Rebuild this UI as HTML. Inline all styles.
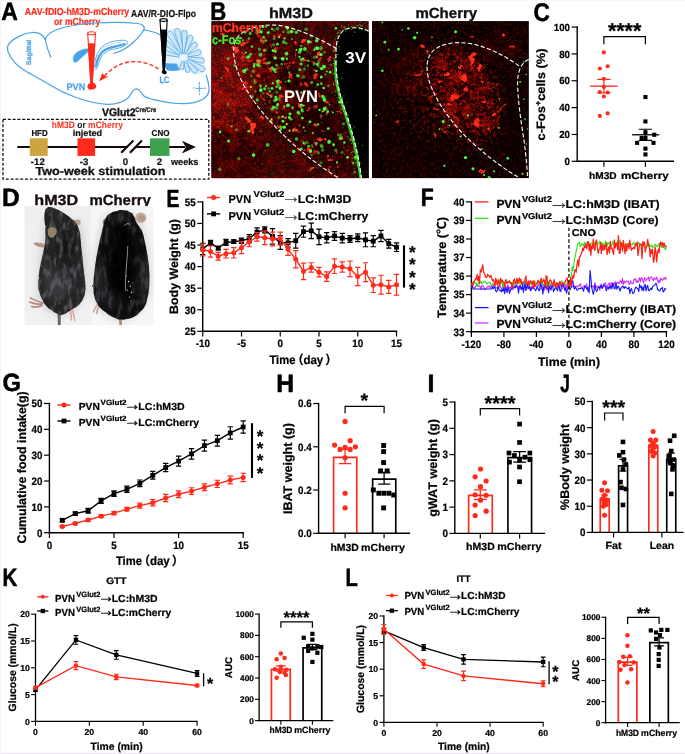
<!DOCTYPE html>
<html lang="en"><head><meta charset="utf-8"><title>Figure</title>
<style>
html,body{margin:0;padding:0;background:#fff;}
body{width:685px;height:754px;overflow:hidden;}
svg{display:block;font-family:'Liberation Sans', 'Noto Sans CJK SC', sans-serif;}
text{white-space:pre;text-rendering:geometricPrecision;}
</style></head><body>
<svg width="685" height="754" viewBox="0 0 685 754">
<rect width="685" height="754" fill="#fff"/><rect x="0" y="752.8" width="685" height="1.2" fill="#ebe6f2"/><rect x="0" y="0" width="0.8" height="754" fill="#f2eef6"/><rect x="0" y="0" width="685" height="0.6" fill="#f0f0f3"/>
<g id="panel-a">
<text x="1.2" y="20.4" font-size="25" font-weight="bold" fill="#000" text-anchor="start" textLength="16.6" lengthAdjust="spacingAndGlyphs" stroke="#000" stroke-width="0.55" stroke-linejoin="round">A</text>
<text x="24.8" y="15.2" font-size="10.2" font-weight="bold" fill="#ff2a1a" text-anchor="start" textLength="104.4" lengthAdjust="spacingAndGlyphs" stroke="#ff2a1a" stroke-width="0.2">AAV-fDIO-hM3D-mCherry</text>
<text x="54" y="24.8" font-size="10.2" font-weight="bold" fill="#ff2a1a" text-anchor="start" textLength="46.2" lengthAdjust="spacingAndGlyphs" stroke="#ff2a1a" stroke-width="0.2">or mCherry</text>
<text x="131" y="16.8" font-size="10.2" font-weight="bold" fill="#111" text-anchor="start" textLength="65" lengthAdjust="spacingAndGlyphs" stroke="#111" stroke-width="0.2">AAV/R-DIO-Flpo</text>
<g fill="none" stroke="#4aa3e6" stroke-width="1.25" stroke-linecap="round" stroke-linejoin="round">
<path d="M45.2,39.5 C43,35 38,32 32,32.5 C24,33 14,38 9.5,43 C6.5,46.5 7,50 9,54 C12,60 17,66 24,70 C32,75 42,80 50,85 C58,90 66,94 76,97.5 C86,101 97,104 108,104.3 C116,104.5 124,101.5 128,98 C131,95 132,91 134.5,89.5 C137,88 139,89 140.8,92 C142.5,95 144,97.5 151,99 C160,101 168,103 178,103.5 C188,104 198,102.5 204,98.5 C208,95.5 209.5,91 209,87 C208.5,82 207.5,79 206,75"/>
<path d="M45.2,39.5 C46,36 50,32.5 56,30 C66,26 80,24 95,23 C110,22 126,22 138,23.5 C142.5,24.2 145.5,26.5 143.8,30 C141,35 137,39 132,43.5 C127,48 121,51.5 114,53.5"/>
<path d="M45.2,39.5 C46,44 48,51 50.8,57"/>
<path d="M143.8,30 C148,30.5 155,32 159.5,34.5"/>
</g>
<path d="M73.5,57 C74.5,53.5 79,50.5 84,49.3 C87,48.6 89.5,48.6 90.5,49.5 C88,52 84,55 80.5,58.5 C78,61 75.5,63.5 74.2,62 C73.2,61 73,59 73.5,57 Z" fill="#4aa3e6" stroke="#4aa3e6" stroke-width="0.6"/>
<path d="M95.5,59 C97,53 100,47.5 105,44.5 C110,41.5 118,40 124,40.2 C127.5,40.4 128.5,42.5 126.5,44.5 C123,47.5 117,48.5 112,49.5 C106.5,50.6 102.5,54 100.5,58 C99,61.5 98,66 96.8,69 C95.5,70.5 94.6,69 94.8,66 C95,63 95,61 95.5,59 Z" fill="#fff" stroke="#4aa3e6" stroke-width="0.9"/>
<path d="M96.2,66 C97,59 100,52.5 105.5,49.5 C111,46.8 119,46.2 124.5,44" fill="none" stroke="#4aa3e6" stroke-width="2.2" stroke-linecap="round"/>
<path d="M100,50.5 C105,45.5 113,43 122,42.2 M102,53 C106,48.5 112,46.2 119,45.3" fill="none" stroke="#4aa3e6" stroke-width="0.5" opacity="0.8"/>
<defs><pattern id="dots" width="2" height="2" patternUnits="userSpaceOnUse"><rect width="2" height="2" fill="#e6f3fc"/><circle cx="1" cy="1" r="0.5" fill="#6db6ec"/></pattern></defs>
<path d="M165.7,31.7 C170,27 180,27 187.8,32.9 C196,39 202,50 205.1,65.2 C206.5,70 205,74 199.7,74.7 C192,73 186,73 179.4,68.7 L168,64 C162,58 161,46 165.7,31.7 Z" fill="#e3f2fc"/>
<path d="M182.76,53.98 L172.57,32.64 A2.9,2.9 0 0 0 167.56,35.57 L181.21,54.89 Z" fill="url(#dots)" stroke="#4aa3e6" stroke-width="0.75" stroke-linejoin="round"/>
<path d="M183.71,53.88 L179.99,30.65 A2.8,2.8 0 0 0 174.55,31.99 L181.97,54.31 Z" fill="url(#dots)" stroke="#4aa3e6" stroke-width="0.75" stroke-linejoin="round"/>
<path d="M184.62,54.04 L187.2,33 A2.7,2.7 0 0 0 181.8,32.8 L182.82,53.97 Z" fill="url(#dots)" stroke="#4aa3e6" stroke-width="0.75" stroke-linejoin="round"/>
<path d="M185.53,54.49 L193.03,38.85 A2.7,2.7 0 0 0 187.95,37.03 L183.83,53.88 Z" fill="url(#dots)" stroke="#4aa3e6" stroke-width="0.75" stroke-linejoin="round"/>
<path d="M186.41,55.43 L196.79,46.61 A2.7,2.7 0 0 0 192.79,42.99 L185.08,54.22 Z" fill="url(#dots)" stroke="#4aa3e6" stroke-width="0.75" stroke-linejoin="round"/>
<path d="M186.92,57.08 L199.26,55 A2.7,2.7 0 0 0 197.6,49.86 L186.37,55.36 Z" fill="url(#dots)" stroke="#4aa3e6" stroke-width="0.75" stroke-linejoin="round"/>
<path d="M186.59,58.66 L201.26,63.17 A2.7,2.7 0 0 0 202.23,57.86 L186.91,56.89 Z" fill="url(#dots)" stroke="#4aa3e6" stroke-width="0.75" stroke-linejoin="round"/>
<path d="M185.81,59.68 L200.87,71.42 A2.7,2.7 0 0 0 203.78,66.87 L186.78,58.16 Z" fill="url(#dots)" stroke="#4aa3e6" stroke-width="0.75" stroke-linejoin="round"/>
<path d="M184.93,60.24 L192.88,72.45 A2.5,2.5 0 0 0 196.75,69.28 L186.33,59.1 Z" fill="url(#dots)" stroke="#4aa3e6" stroke-width="0.75" stroke-linejoin="round"/>
<path d="M183.71,60.52 L185.51,70.9 A2.3,2.3 0 0 0 189.9,69.51 L185.42,59.98 Z" fill="url(#dots)" stroke="#4aa3e6" stroke-width="0.75" stroke-linejoin="round"/>
<path d="M181.69,54.48 L168.06,41.13 A2.6,2.6 0 0 0 164.77,45.16 L180.55,55.87 Z" fill="url(#dots)" stroke="#4aa3e6" stroke-width="0.75" stroke-linejoin="round"/>
<path d="M180.72,55.54 L165.91,50.26 A2.4,2.4 0 0 0 164.74,54.91 L180.28,57.29 Z" fill="url(#dots)" stroke="#4aa3e6" stroke-width="0.75" stroke-linejoin="round"/>
<path d="M182.17,60.2 L179.87,67.19 A2,2 0 0 0 183.81,67.87 L183.95,60.51 Z" fill="url(#dots)" stroke="#4aa3e6" stroke-width="0.75" stroke-linejoin="round"/>
<ellipse cx="183.6" cy="57.4" rx="4.2" ry="3.4" fill="#e9f5fd"/>
<path d="M164.5,63 C168,63.8 173,63 177,63.8 C177.8,66.5 178.6,68.5 180.5,70 C176,71 171,71.3 167,70.3 C165.5,68.5 164.6,65.5 164.5,63 Z" fill="#4aa3e6"/>
<path d="M87.7,33.2 L95.5,33.2 L92.1,84.5 L90.9,84.5 Z" fill="#fff" stroke="#ff2a1a" stroke-width="1.1" stroke-linejoin="round"/>
<path d="M88.4,43.8 L94.8,43.8 L92.1,84.5 L90.9,84.5 Z" fill="#ff2a1a" stroke="#ff2a1a" stroke-width="0.9"/>
<ellipse cx="91.6" cy="33.2" rx="3.9" ry="1.5" fill="#fff" stroke="#ff2a1a" stroke-width="1.1"/>
<ellipse cx="91.8" cy="86.3" rx="4.4" ry="3.3" fill="#ff2a1a" transform="rotate(-12 91.8 86.3)"/>
<path d="M160,20 L167.2,20 L164.4,71 L163.4,71 Z" fill="#fff" stroke="#000" stroke-width="1.1" stroke-linejoin="round"/>
<path d="M160.7,30 L166.6,30 L164.4,71 L163.4,71 Z" fill="#000" stroke="#000" stroke-width="0.9"/>
<ellipse cx="163.6" cy="20" rx="3.6" ry="1.4" fill="#fff" stroke="#000" stroke-width="1.1"/>
<ellipse cx="164.2" cy="72.1" rx="2.6" ry="2" fill="#000" transform="rotate(20 164.2 72.1)"/>
<path d="M158.5,69 C150,63 138,60 126,62.5 C116,65 109,71 104.5,76" fill="none" stroke="#ff2a1a" stroke-width="1.3" stroke-dasharray="4 2.2"/>
<path d="M99.3,81.2 L102.3,72.8 L104.6,76.2 L108.6,76.6 Z" fill="#ff2a1a"/>
<text x="66.5" y="89.6" font-size="9.4" font-weight="bold" fill="#4aa3e6" text-anchor="start" textLength="18.8" lengthAdjust="spacingAndGlyphs" stroke="#4aa3e6" stroke-width="0.25">PVN</text>
<text x="159.6" y="83.1" font-size="9.4" font-weight="bold" fill="#4aa3e6" text-anchor="start" textLength="9.8" lengthAdjust="spacingAndGlyphs" stroke="#4aa3e6" stroke-width="0.25">LC</text>
<text x="31" y="65.2" font-size="6.6" font-weight="bold" fill="#4aa3e6" text-anchor="start" transform="rotate(-90 31 65.2)" textLength="25.5" lengthAdjust="spacingAndGlyphs" stroke="#4aa3e6" stroke-width="0.22">Sagittal</text>
<path d="M199.4,84.6 V92.4 M195.4,88.4 H203.4" stroke="#4aa3e6" stroke-width="0.9" fill="none"/>
<text x="199.4" y="83.8" font-size="2.6" font-weight="bold" fill="#4aa3e6" text-anchor="middle" stroke="#4aa3e6" stroke-width="0.22">d</text>
<text x="199.4" y="95.2" font-size="2.6" font-weight="bold" fill="#4aa3e6" text-anchor="middle" stroke="#4aa3e6" stroke-width="0.22">v</text>
<text x="193.8" y="89.2" font-size="2.6" font-weight="bold" fill="#4aa3e6" text-anchor="middle" stroke="#4aa3e6" stroke-width="0.22">r</text>
<text x="205" y="89.2" font-size="2.6" font-weight="bold" fill="#4aa3e6" text-anchor="middle" stroke="#4aa3e6" stroke-width="0.22">c</text>
</g>
<g id="panel-a2">
<text x="102" y="115.8" font-size="11" font-weight="bold" fill="#111" text-anchor="start" textLength="33.6" lengthAdjust="spacingAndGlyphs" stroke="#111" stroke-width="0.35">VGlut2</text>
<text x="135.2" y="111.8" font-size="6.8" font-weight="bold" fill="#111" text-anchor="start" textLength="21" lengthAdjust="spacingAndGlyphs" stroke="#111" stroke-width="0.22">Cre/Cre</text>
<rect x="3" y="119.3" width="205.8" height="59.8" fill="none" stroke="#111" stroke-width="1.3" stroke-dasharray="3 1.8"/>
<text x="51.8" y="127.6" font-size="9.4" font-weight="bold" textLength="71.2" lengthAdjust="spacingAndGlyphs"><tspan fill="#ff2a1a">hM3D</tspan><tspan fill="#111"> or </tspan><tspan fill="#ff2a1a">mCherry</tspan></text>
<text x="31.4" y="136.1" font-size="8.6" font-weight="bold" fill="#111" text-anchor="start" textLength="16.3" lengthAdjust="spacingAndGlyphs" stroke="#111" stroke-width="0.22">HFD</text>
<text x="72.8" y="135.6" font-size="8.8" font-weight="bold" fill="#111" text-anchor="start" textLength="29.2" lengthAdjust="spacingAndGlyphs" stroke="#111" stroke-width="0.22">injeted</text>
<text x="151.6" y="136.1" font-size="8.6" font-weight="bold" fill="#111" text-anchor="start" textLength="17.9" lengthAdjust="spacingAndGlyphs" stroke="#111" stroke-width="0.22">CNO</text>
<line x1="17.3" y1="147.1" x2="127.6" y2="147.1" stroke="#140c0c" stroke-width="2"/>
<line x1="136" y1="147.1" x2="185" y2="147.1" stroke="#140c0c" stroke-width="2"/>
<path d="M195.9,147.1 L181.9,140.7 L185.8,147.1 L181.9,153.5 Z" fill="#140c0c"/>
<line x1="121.2" y1="152.8" x2="133.4" y2="140.4" stroke="#140c0c" stroke-width="2.2"/>
<line x1="130" y1="152.8" x2="141.9" y2="140.4" stroke="#140c0c" stroke-width="2.2"/>
<rect x="29.8" y="138.3" width="17.9" height="17.6" fill="#cda43e" stroke="none" stroke-width="1"/>
<rect x="77.5" y="138.3" width="17.6" height="17.6" fill="#ff2a1a" stroke="none" stroke-width="1"/>
<rect x="150" y="138.3" width="19.5" height="17.6" fill="#3ea24c" stroke="none" stroke-width="1"/>
<text x="37.8" y="164.6" font-size="9.6" font-weight="bold" fill="#111" text-anchor="middle" stroke="#111" stroke-width="0.22">-12</text>
<text x="84.1" y="164.6" font-size="9.6" font-weight="bold" fill="#111" text-anchor="middle" stroke="#111" stroke-width="0.22">-3</text>
<text x="125.5" y="164.6" font-size="9.6" font-weight="bold" fill="#111" text-anchor="middle" stroke="#111" stroke-width="0.22">0</text>
<text x="159.5" y="164.6" font-size="9.6" font-weight="bold" fill="#111" text-anchor="middle" stroke="#111" stroke-width="0.22">2</text>
<text x="171" y="164.6" font-size="9.4" font-weight="bold" fill="#111" text-anchor="start" textLength="27.4" lengthAdjust="spacingAndGlyphs" stroke="#111" stroke-width="0.22">weeks</text>
<text x="35.5" y="174.7" font-size="11.6" font-weight="bold" fill="#111" text-anchor="start" textLength="130" lengthAdjust="spacingAndGlyphs" stroke="#111" stroke-width="0.3">Two-week stimulation</text>
</g>
<g id="panel-b">
<text x="210.3" y="19.7" font-size="25.5" font-weight="bold" fill="#000" text-anchor="start" textLength="16" lengthAdjust="spacingAndGlyphs" stroke="#000" stroke-width="0.55" stroke-linejoin="round">B</text>
<text x="269" y="17.9" font-size="14.6" font-weight="bold" fill="#111" text-anchor="start" textLength="44" lengthAdjust="spacingAndGlyphs" stroke="#111" stroke-width="0.35">hM3D</text>
<text x="415.4" y="17.9" font-size="14.6" font-weight="bold" fill="#111" text-anchor="start" textLength="61.8" lengthAdjust="spacingAndGlyphs" stroke="#111" stroke-width="0.35">mCherry</text>
<defs>
<filter id="fib1" x="0" y="0" width="1" height="1" color-interpolation-filters="sRGB">
<feTurbulence type="turbulence" baseFrequency="0.13 0.11" numOctaves="3" seed="11" result="t"/>
<feColorMatrix in="t" type="matrix" values="0 0 0 0 0.95  0 0 0 0 0.12  0 0 0 0 0.06  -7.5 0 0 0 1.25"/>
<feGaussianBlur stdDeviation="0.5"/>
</filter>
<filter id="fib2" x="0" y="0" width="1" height="1" color-interpolation-filters="sRGB">
<feTurbulence type="turbulence" baseFrequency="0.14 0.12" numOctaves="3" seed="29" result="t"/>
<feColorMatrix in="t" type="matrix" values="0 0 0 0 0.95  0 0 0 0 0.1  0 0 0 0 0.05  -8 0 0 0 1.2"/>
<feGaussianBlur stdDeviation="0.5"/>
</filter>
<filter id="grain" x="0" y="0" width="1" height="1" color-interpolation-filters="sRGB">
<feTurbulence type="fractalNoise" baseFrequency="0.9" numOctaves="2" seed="5"/>
<feColorMatrix type="matrix" values="0 0 0 0 0  0 0 0 0 0  0 0 0 0 0  2.6 0 0 0 -0.95"/>
</filter>
<filter id="blot1" x="0" y="0" width="1" height="1" color-interpolation-filters="sRGB">
<feTurbulence type="fractalNoise" baseFrequency="0.075" numOctaves="4" seed="3"/>
<feColorMatrix type="matrix" values="0 0 0 0 0.85  0 0 0 0 0.07  0 0 0 0 0.04  5 0 0 0 -2.15"/>
</filter>
<filter id="blot2" x="0" y="0" width="1" height="1" color-interpolation-filters="sRGB">
<feTurbulence type="fractalNoise" baseFrequency="0.085" numOctaves="4" seed="17"/>
<feColorMatrix type="matrix" values="0 0 0 0 0.85  0 0 0 0 0.09  0 0 0 0 0.05  5.5 0 0 0 -2.65"/>
</filter>
<filter id="dust" x="0" y="0" width="1" height="1" color-interpolation-filters="sRGB">
<feTurbulence type="fractalNoise" baseFrequency="0.3" numOctaves="3" seed="23"/>
<feColorMatrix type="matrix" values="0 0 0 0 0.88  0 0 0 0 0.07  0 0 0 0 0.04  7 0 0 0 -3.7"/>
<feGaussianBlur stdDeviation="0.35"/>
</filter>
<mask id="m3" maskUnits="userSpaceOnUse" x="372" y="21" width="157" height="158"><rect x="372" y="21" width="157" height="158" fill="#4a4a4a"/><ellipse cx="425" cy="95" rx="30" ry="40" fill="#8a8a8a" filter="url(#b4)"/><ellipse cx="462" cy="95" rx="34" ry="52" fill="#fff" filter="url(#b4)" transform="rotate(-30 462 95)"/><ellipse cx="516" cy="130" rx="10" ry="50" fill="#222" filter="url(#b4)"/></mask>
<filter id="rough" x="-20%" y="-20%" width="140%" height="140%">
<feTurbulence type="fractalNoise" baseFrequency="0.22" numOctaves="2" seed="8" result="n"/>
<feDisplacementMap in="SourceGraphic" in2="n" scale="5" xChannelSelector="R" yChannelSelector="G"/>
<feGaussianBlur stdDeviation="0.55"/>
</filter>
<mask id="m1" maskUnits="userSpaceOnUse" x="211" y="21" width="158" height="158"><rect x="211" y="21" width="158" height="158" fill="#6a6a6a"/><ellipse cx="226" cy="92" rx="24" ry="42" fill="#fff" filter="url(#b4)"/><rect x="209" y="19" width="58" height="27" fill="#000" filter="url(#b4)" opacity="0.9"/><ellipse cx="262" cy="80" rx="22" ry="44" fill="#aaa" filter="url(#b4)" transform="rotate(-32 262 80)"/><ellipse cx="322" cy="125" rx="14" ry="40" fill="#222" filter="url(#b4)" transform="rotate(-18 322 125)"/><ellipse cx="320" cy="35" rx="18" ry="9" fill="#444" filter="url(#b4)"/></mask>
<filter id="b06" x="-50%" y="-50%" width="200%" height="200%"><feGaussianBlur stdDeviation="0.55"/></filter>
<filter id="b12" x="-50%" y="-50%" width="200%" height="200%"><feGaussianBlur stdDeviation="1.3"/></filter>
<filter id="b4" x="-50%" y="-50%" width="200%" height="200%"><feGaussianBlur stdDeviation="6"/></filter>
<mask id="m2" maskUnits="userSpaceOnUse" x="372" y="21" width="157" height="158"><rect x="372" y="21" width="157" height="158" fill="#161616"/><ellipse cx="462" cy="95" rx="30" ry="48" fill="#fff" filter="url(#b4)" transform="rotate(-30 462 95)"/><ellipse cx="410" cy="75" rx="22" ry="22" fill="#5a5a5a" filter="url(#b4)"/><ellipse cx="500" cy="48" rx="24" ry="12" fill="#5a5a5a" filter="url(#b4)"/></mask>
<clipPath id="c1"><rect x="211.2" y="21.1" width="157.6" height="157.1"/></clipPath>
<clipPath id="c2"><rect x="372" y="21.1" width="156.9" height="157.1"/></clipPath>
</defs>
<g clip-path="url(#c1)">
<rect x="211.2" y="21.1" width="157.6" height="157.1" fill="#360705" stroke="none" stroke-width="1"/>
<ellipse cx="230" cy="80" rx="26" ry="44" fill="#661009" filter="url(#b4)"/>
<ellipse cx="234" cy="150" rx="28" ry="28" fill="#2e0604" filter="url(#b4)"/>
<path d="M272,44 L322,56 L332,120 L340,172 L300,150 L270,112 L256,74 Z" fill="#1c0403" filter="url(#b4)"/>
<ellipse cx="337" cy="130" rx="10" ry="45" fill="#1c0303" filter="url(#b4)" transform="rotate(-14 337 130)"/>
<rect x="211.2" y="21.1" width="157.6" height="157.1" fill="#000" stroke="none" stroke-width="1" filter="url(#blot1)" mask="url(#m1)" opacity="0.6"/>
<rect x="211.2" y="21.1" width="157.6" height="157.1" fill="#000" stroke="none" stroke-width="1" filter="url(#fib1)" opacity="0.5" mask="url(#m1)"/>
<rect x="211.2" y="21.1" width="157.6" height="157.1" fill="#000" stroke="none" stroke-width="1" filter="url(#dust)" mask="url(#m1)" opacity="0.75"/>
<rect x="211.2" y="21.1" width="157.6" height="157.1" fill="#000" stroke="none" stroke-width="1" filter="url(#grain)" opacity="0.5"/>
<g fill="#ff3520" filter="url(#rough)">
<ellipse cx="236" cy="50" rx="4" ry="2.2" transform="rotate(40 236 50)"/>
<ellipse cx="243" cy="44" rx="3" ry="1.6" transform="rotate(-30 243 44)"/>
<ellipse cx="248" cy="120" rx="4.5" ry="2" transform="rotate(50 248 120)"/>
<ellipse cx="253" cy="128" rx="2.5" ry="5" transform="rotate(10 253 128)"/>
<ellipse cx="262" cy="118" rx="2.2" ry="1.6" transform="rotate(0 262 118)"/>
<ellipse cx="258" cy="62" rx="3" ry="1.6" transform="rotate(20 258 62)"/>
<ellipse cx="270" cy="70" rx="2.6" ry="1.8" transform="rotate(60 270 70)"/>
<ellipse cx="279" cy="82" rx="3" ry="1.7" transform="rotate(-20 279 82)"/>
<ellipse cx="268" cy="94" rx="2.5" ry="1.6" transform="rotate(30 268 94)"/>
<ellipse cx="291" cy="75" rx="2.4" ry="1.6" transform="rotate(0 291 75)"/>
<ellipse cx="300" cy="106" rx="2.6" ry="1.8" transform="rotate(45 300 106)"/>
<ellipse cx="285" cy="118" rx="2.3" ry="1.5" transform="rotate(-40 285 118)"/>
<ellipse cx="296" cy="130" rx="2.6" ry="1.6" transform="rotate(10 296 130)"/>
<ellipse cx="310" cy="150" rx="3" ry="1.5" transform="rotate(60 310 150)"/>
<ellipse cx="320" cy="140" rx="2.2" ry="1.4" transform="rotate(0 320 140)"/>
<ellipse cx="305" cy="60" rx="2.2" ry="1.4" transform="rotate(20 305 60)"/>
<ellipse cx="318" cy="55" rx="2.5" ry="1.3" transform="rotate(-20 318 55)"/>
<ellipse cx="245" cy="88" rx="2.2" ry="1.4" transform="rotate(0 245 88)"/>
<ellipse cx="227" cy="70" rx="2.5" ry="1.3" transform="rotate(70 227 70)"/>
<ellipse cx="330" cy="160" rx="2.4" ry="1.3" transform="rotate(40 330 160)"/>
<ellipse cx="312" cy="168" rx="2.6" ry="1.4" transform="rotate(-30 312 168)"/>
<ellipse cx="222" cy="34" rx="3" ry="1.5" transform="rotate(10 222 34)"/>
<ellipse cx="232" cy="30" rx="2.4" ry="1.4" transform="rotate(-10 232 30)"/>
<ellipse cx="275" cy="52" rx="2.4" ry="1.5" transform="rotate(35 275 52)"/>
<ellipse cx="262" cy="40" rx="2" ry="1.3" transform="rotate(0 262 40)"/>
<ellipse cx="264.53" cy="59.48" rx="2.18" ry="1.34" opacity="1" transform="rotate(160.59 264.53 59.48)"/>
<ellipse cx="244.4" cy="60.9" rx="1.96" ry="1.25" opacity="0.55" transform="rotate(128.88 244.4 60.9)"/>
<ellipse cx="323.45" cy="130.72" rx="1.54" ry="0.92" opacity="0.7" transform="rotate(172.3 323.45 130.72)"/>
<ellipse cx="245.35" cy="82.99" rx="1.57" ry="1.08" opacity="1" transform="rotate(47.61 245.35 82.99)"/>
<ellipse cx="315" cy="106.43" rx="2.56" ry="1.1" opacity="0.7" transform="rotate(99.37 315 106.43)"/>
<ellipse cx="298.09" cy="131.69" rx="1.07" ry="0.98" opacity="1" transform="rotate(52.09 298.09 131.69)"/>
<ellipse cx="328.94" cy="155.97" rx="1.61" ry="1.16" opacity="0.85" transform="rotate(150.14 328.94 155.97)"/>
<ellipse cx="275.09" cy="57.43" rx="1.43" ry="1.55" opacity="0.85" transform="rotate(116.65 275.09 57.43)"/>
<ellipse cx="293.29" cy="62.72" rx="1.74" ry="1.02" opacity="0.85" transform="rotate(166.57 293.29 62.72)"/>
<ellipse cx="309.99" cy="152.43" rx="2.24" ry="0.98" opacity="0.7" transform="rotate(5.78 309.99 152.43)"/>
<ellipse cx="278.53" cy="35.93" rx="2.46" ry="1.25" opacity="0.85" transform="rotate(129.22 278.53 35.93)"/>
<ellipse cx="306.75" cy="85.34" rx="2.46" ry="1.17" opacity="0.85" transform="rotate(47.68 306.75 85.34)"/>
<ellipse cx="316.69" cy="106.85" rx="2.2" ry="1.14" opacity="0.7" transform="rotate(105.04 316.69 106.85)"/>
<ellipse cx="290.56" cy="39.64" rx="1.08" ry="0.89" opacity="0.55" transform="rotate(112.94 290.56 39.64)"/>
<ellipse cx="300.2" cy="83.72" rx="1.95" ry="1.17" opacity="1" transform="rotate(45.25 300.2 83.72)"/>
<ellipse cx="309.51" cy="43.18" rx="2.42" ry="1.4" opacity="0.7" transform="rotate(138.35 309.51 43.18)"/>
<ellipse cx="331.22" cy="65.51" rx="1.8" ry="0.94" opacity="0.7" transform="rotate(164.27 331.22 65.51)"/>
<ellipse cx="327.43" cy="102.15" rx="1.32" ry="1.1" opacity="1" transform="rotate(29.08 327.43 102.15)"/>
<ellipse cx="300.48" cy="99.29" rx="1.18" ry="1.09" opacity="0.7" transform="rotate(177.36 300.48 99.29)"/>
<ellipse cx="260.58" cy="62.13" rx="1.91" ry="0.86" opacity="1" transform="rotate(131.74 260.58 62.13)"/>
<ellipse cx="342.56" cy="105.91" rx="1.2" ry="1.33" opacity="0.85" transform="rotate(170.43 342.56 105.91)"/>
<ellipse cx="280.97" cy="57.77" rx="1.86" ry="1.38" opacity="0.7" transform="rotate(36.21 280.97 57.77)"/>
<ellipse cx="278.29" cy="126.75" rx="1.6" ry="1.52" opacity="0.85" transform="rotate(81.27 278.29 126.75)"/>
<ellipse cx="258.94" cy="76.71" rx="1.94" ry="0.98" opacity="1" transform="rotate(39.64 258.94 76.71)"/>
<ellipse cx="270.68" cy="103.12" rx="1.45" ry="1.19" opacity="0.55" transform="rotate(97.06 270.68 103.12)"/>
<ellipse cx="260.97" cy="96.95" rx="1.65" ry="0.88" opacity="0.7" transform="rotate(118.62 260.97 96.95)"/>
<ellipse cx="281.02" cy="96.05" rx="2.17" ry="1.34" opacity="1" transform="rotate(177.15 281.02 96.05)"/>
<ellipse cx="322.87" cy="42.39" rx="1.31" ry="1.23" opacity="0.85" transform="rotate(25.23 322.87 42.39)"/>
<ellipse cx="264.92" cy="63.47" rx="2.48" ry="1.15" opacity="1" transform="rotate(155.04 264.92 63.47)"/>
<ellipse cx="336.83" cy="153.3" rx="1.27" ry="1.19" opacity="0.55" transform="rotate(38.47 336.83 153.3)"/>
<ellipse cx="334.17" cy="50.7" rx="1" ry="1.11" opacity="0.55" transform="rotate(166.77 334.17 50.7)"/>
<ellipse cx="315.09" cy="143.5" rx="2.06" ry="1.19" opacity="0.85" transform="rotate(34.18 315.09 143.5)"/>
<ellipse cx="341.53" cy="112.88" rx="1.87" ry="1.4" opacity="0.55" transform="rotate(10.29 341.53 112.88)"/>
<ellipse cx="242.89" cy="53.87" rx="1.95" ry="1.34" opacity="1" transform="rotate(42.34 242.89 53.87)"/>
<ellipse cx="338.52" cy="111.45" rx="1.93" ry="0.83" opacity="0.7" transform="rotate(14.76 338.52 111.45)"/>
<ellipse cx="313.5" cy="61.8" rx="1.63" ry="1.34" opacity="0.7" transform="rotate(54 313.5 61.8)"/>
<ellipse cx="337.12" cy="166.36" rx="1.01" ry="1.3" opacity="1" transform="rotate(101.34 337.12 166.36)"/>
<ellipse cx="242.13" cy="57.97" rx="1.42" ry="1.55" opacity="0.85" transform="rotate(158.56 242.13 57.97)"/>
<ellipse cx="275.02" cy="49.66" rx="2.33" ry="1.36" opacity="1" transform="rotate(110.1 275.02 49.66)"/>
<ellipse cx="308.13" cy="109.19" rx="2.49" ry="0.88" opacity="0.7" transform="rotate(158.06 308.13 109.19)"/>
<ellipse cx="246.81" cy="42.06" rx="1.89" ry="1.02" opacity="0.7" transform="rotate(108.87 246.81 42.06)"/>
<ellipse cx="263.3" cy="99.28" rx="2.45" ry="1.48" opacity="0.55" transform="rotate(16.61 263.3 99.28)"/>
<ellipse cx="271.02" cy="45.62" rx="2.57" ry="0.93" opacity="0.55" transform="rotate(79.53 271.02 45.62)"/>
<ellipse cx="296.26" cy="42.78" rx="2.51" ry="1.35" opacity="1" transform="rotate(26.83 296.26 42.78)"/>
<ellipse cx="326.64" cy="113.38" rx="1.24" ry="0.9" opacity="1" transform="rotate(55.49 326.64 113.38)"/>
<ellipse cx="333.78" cy="57.51" rx="1.4" ry="0.88" opacity="0.55" transform="rotate(140.42 333.78 57.51)"/>
<ellipse cx="342.1" cy="138.42" rx="2.48" ry="0.99" opacity="0.85" transform="rotate(29.25 342.1 138.42)"/>
<ellipse cx="315.76" cy="75.83" rx="2.49" ry="1.44" opacity="0.85" transform="rotate(155.53 315.76 75.83)"/>
<ellipse cx="329.3" cy="59.37" rx="2.31" ry="1.17" opacity="0.85" transform="rotate(54.93 329.3 59.37)"/>
<ellipse cx="278.23" cy="67.79" rx="1.11" ry="1.42" opacity="0.55" transform="rotate(63.21 278.23 67.79)"/>
<ellipse cx="309.43" cy="152.55" rx="1.53" ry="0.82" opacity="0.7" transform="rotate(157.87 309.43 152.55)"/>
<ellipse cx="263.47" cy="42.26" rx="1.7" ry="1.38" opacity="1" transform="rotate(56.46 263.47 42.26)"/>
<ellipse cx="276.76" cy="112.49" rx="1.41" ry="1.37" opacity="0.85" transform="rotate(0.3 276.76 112.49)"/>
<ellipse cx="274.43" cy="36.5" rx="2.06" ry="1.06" opacity="1" transform="rotate(56.5 274.43 36.5)"/>
<ellipse cx="313.89" cy="71.05" rx="1.49" ry="1.13" opacity="0.7" transform="rotate(72.43 313.89 71.05)"/>
<ellipse cx="295.54" cy="54.78" rx="2.06" ry="1.1" opacity="0.85" transform="rotate(134.66 295.54 54.78)"/>
<ellipse cx="302.32" cy="71.14" rx="1.88" ry="0.8" opacity="0.55" transform="rotate(51.64 302.32 71.14)"/>
<ellipse cx="321.22" cy="117" rx="1.52" ry="1.15" opacity="0.55" transform="rotate(121.61 321.22 117)"/>
<ellipse cx="315.69" cy="124.83" rx="1.45" ry="1.33" opacity="1" transform="rotate(111.47 315.69 124.83)"/>
<ellipse cx="324.85" cy="138.67" rx="2.08" ry="0.98" opacity="1" transform="rotate(35.84 324.85 138.67)"/>
<ellipse cx="301.85" cy="141.27" rx="1.73" ry="1.51" opacity="0.55" transform="rotate(103.62 301.85 141.27)"/>
<ellipse cx="288.88" cy="62.6" rx="2.05" ry="0.8" opacity="1" transform="rotate(135.17 288.88 62.6)"/>
<ellipse cx="320.4" cy="58.83" rx="2.29" ry="1.36" opacity="0.85" transform="rotate(83.62 320.4 58.83)"/>
<ellipse cx="292.96" cy="109.84" rx="1.51" ry="1.4" opacity="0.55" transform="rotate(79.66 292.96 109.84)"/>
<ellipse cx="326.19" cy="108.18" rx="2.44" ry="1.39" opacity="0.7" transform="rotate(85.44 326.19 108.18)"/>
<ellipse cx="317.45" cy="151.98" rx="1.44" ry="1.42" opacity="0.85" transform="rotate(87.23 317.45 151.98)"/>
<ellipse cx="264.48" cy="37.62" rx="1.46" ry="1.02" opacity="1" transform="rotate(57.55 264.48 37.62)"/>
<ellipse cx="249.36" cy="60.69" rx="2.11" ry="1.37" opacity="0.55" transform="rotate(11.56 249.36 60.69)"/>
<ellipse cx="270.73" cy="95.89" rx="1.1" ry="1.47" opacity="1" transform="rotate(70.11 270.73 95.89)"/>
<ellipse cx="329.1" cy="140.84" rx="1.61" ry="0.8" opacity="0.55" transform="rotate(63.32 329.1 140.84)"/>
<ellipse cx="328.73" cy="169.01" rx="1.67" ry="1.4" opacity="0.85" transform="rotate(98.3 328.73 169.01)"/>
<ellipse cx="288.19" cy="66.94" rx="1.78" ry="1.11" opacity="0.55" transform="rotate(120.4 288.19 66.94)"/>
<ellipse cx="314.38" cy="152.08" rx="2.47" ry="1.58" opacity="0.55" transform="rotate(96.14 314.38 152.08)"/>
<ellipse cx="299.7" cy="125.45" rx="1.13" ry="1.14" opacity="0.85" transform="rotate(156.03 299.7 125.45)"/>
<ellipse cx="257.49" cy="75.03" rx="2.22" ry="1.1" opacity="0.55" transform="rotate(135.36 257.49 75.03)"/>
<ellipse cx="262" cy="38.29" rx="1.03" ry="1.23" opacity="0.7" transform="rotate(179.98 262 38.29)"/>
<ellipse cx="258.89" cy="36.29" rx="2.53" ry="0.83" opacity="0.85" transform="rotate(5.59 258.89 36.29)"/>
<ellipse cx="256.13" cy="29.06" rx="1.24" ry="0.9" opacity="0.85" transform="rotate(120.5 256.13 29.06)"/>
<ellipse cx="285.62" cy="64.44" rx="1.59" ry="1.28" opacity="1" transform="rotate(173.47 285.62 64.44)"/>
<ellipse cx="320.33" cy="50.56" rx="1.5" ry="1.26" opacity="0.55" transform="rotate(167.2 320.33 50.56)"/>
<ellipse cx="303.62" cy="41.29" rx="2.24" ry="1.48" opacity="1" transform="rotate(108.07 303.62 41.29)"/>
<ellipse cx="322.38" cy="110.89" rx="1.07" ry="1.23" opacity="1" transform="rotate(119.07 322.38 110.89)"/>
<ellipse cx="290.16" cy="77.18" rx="2.36" ry="1.46" opacity="0.7" transform="rotate(19 290.16 77.18)"/>
<ellipse cx="304.55" cy="150.31" rx="2.13" ry="1.15" opacity="0.7" transform="rotate(132.08 304.55 150.31)"/>
<ellipse cx="319.99" cy="95.73" rx="2.32" ry="1.27" opacity="0.85" transform="rotate(58.01 319.99 95.73)"/>
</g>
<path d="M336.5,48.4 L337.5,40 L341.5,32.3 L347,28.6 L353.9,27.3 L362,28.3 L368.8,31 L368.8,178.2 L361.4,178.2 L359,163 L356.4,148.9 L353.5,136 L350.2,124.1 L346,111 L341.5,99.3 L337.5,87 L336,74.5 L335.6,60 Z" fill="#000"/>
<path d="M336.5,60 C335.6,70 336.8,84 341.5,99.3 C345.5,112 351,128 356.4,148.9 C358.5,158 360,168 361.4,178.2" fill="none" stroke="#35d825" stroke-width="2.4" filter="url(#b06)" opacity="0.95" transform="translate(-0.9 0)"/>
<g fill="#3fe22e">
<circle cx="336.09" cy="45.86" r="0.56" opacity="0.6"/>
<circle cx="340.1" cy="105.41" r="0.41" opacity="0.8"/>
<circle cx="357.86" cy="164.92" r="0.51" opacity="0.8"/>
<circle cx="348.19" cy="120.73" r="0.55" opacity="0.8"/>
<circle cx="335.5" cy="81.09" r="0.47" opacity="1"/>
<circle cx="335.29" cy="84.97" r="0.53" opacity="0.8"/>
<circle cx="342.73" cy="127.2" r="0.49" opacity="0.8"/>
<circle cx="340.02" cy="33.28" r="0.55" opacity="0.8"/>
<circle cx="352.27" cy="125.05" r="0.37" opacity="0.6"/>
<circle cx="352.77" cy="151.54" r="0.51" opacity="1"/>
<circle cx="340.7" cy="33.16" r="0.3" opacity="0.6"/>
<circle cx="337.85" cy="54.35" r="0.54" opacity="1"/>
<circle cx="352.25" cy="158.53" r="0.5" opacity="0.8"/>
<circle cx="340.61" cy="99.95" r="0.63" opacity="0.8"/>
<circle cx="333.97" cy="60.11" r="0.52" opacity="1"/>
<circle cx="356.08" cy="162.42" r="0.65" opacity="1"/>
<circle cx="339.53" cy="104.92" r="0.38" opacity="0.6"/>
<circle cx="343.32" cy="114.47" r="0.45" opacity="0.6"/>
<circle cx="353.02" cy="136.69" r="0.57" opacity="0.6"/>
<circle cx="356.75" cy="149.7" r="0.49" opacity="1"/>
<circle cx="343.26" cy="109.36" r="0.31" opacity="0.8"/>
<circle cx="361.17" cy="25.92" r="0.38" opacity="0.8"/>
<circle cx="354.38" cy="23.91" r="0.37" opacity="1"/>
<circle cx="354.7" cy="144.17" r="0.35" opacity="1"/>
<circle cx="335.21" cy="91.84" r="0.62" opacity="0.8"/>
<circle cx="354.39" cy="151.01" r="0.4" opacity="0.6"/>
<circle cx="330.63" cy="56.94" r="0.56" opacity="0.6"/>
<circle cx="335.21" cy="62.88" r="0.6" opacity="0.6"/>
<circle cx="362.93" cy="25.82" r="0.31" opacity="1"/>
<circle cx="351.77" cy="143.41" r="0.65" opacity="0.8"/>
<circle cx="348.37" cy="115.75" r="0.44" opacity="0.8"/>
<circle cx="360.8" cy="175.04" r="0.47" opacity="0.6"/>
<circle cx="366.41" cy="27.76" r="0.33" opacity="0.8"/>
<circle cx="354.74" cy="159.77" r="0.65" opacity="0.6"/>
<circle cx="348.61" cy="26.85" r="0.43" opacity="0.8"/>
<circle cx="358.91" cy="158.83" r="0.35" opacity="0.8"/>
<circle cx="354.62" cy="148.95" r="0.52" opacity="1"/>
<circle cx="338.12" cy="30.91" r="0.33" opacity="1"/>
<circle cx="333.96" cy="63.42" r="0.63" opacity="0.8"/>
<circle cx="335.36" cy="90.34" r="0.47" opacity="0.8"/>
<circle cx="342.73" cy="105.98" r="0.56" opacity="1"/>
<circle cx="341.08" cy="27.51" r="0.42" opacity="0.6"/>
<circle cx="334.69" cy="50.31" r="0.51" opacity="0.6"/>
<circle cx="332.41" cy="70.12" r="0.42" opacity="0.6"/>
<circle cx="344.91" cy="94.78" r="0.38" opacity="0.8"/>
<circle cx="355.34" cy="159.3" r="0.47" opacity="0.8"/>
<circle cx="356.12" cy="145.82" r="0.35" opacity="1"/>
<circle cx="349.81" cy="132.25" r="0.6" opacity="1"/>
<circle cx="345.59" cy="111.78" r="0.6" opacity="1"/>
<circle cx="360.1" cy="162.75" r="0.54" opacity="0.6"/>
<circle cx="343.15" cy="95.81" r="0.43" opacity="0.8"/>
<circle cx="360.49" cy="173.74" r="0.31" opacity="1"/>
<circle cx="362.49" cy="145.28" r="0.56" opacity="0.8"/>
<circle cx="360.96" cy="24.04" r="0.46" opacity="0.6"/>
<circle cx="339.2" cy="49.62" r="0.4" opacity="0.8"/>
<circle cx="333.72" cy="83.49" r="0.58" opacity="1"/>
<circle cx="354.26" cy="134.72" r="0.38" opacity="0.6"/>
<circle cx="342.54" cy="109.8" r="0.53" opacity="0.8"/>
<circle cx="356.68" cy="25.78" r="0.63" opacity="0.6"/>
<circle cx="341.9" cy="105.07" r="0.41" opacity="0.8"/>
<circle cx="336.69" cy="46.35" r="0.5" opacity="0.6"/>
<circle cx="357.7" cy="166.62" r="0.5" opacity="0.6"/>
<circle cx="339.1" cy="46.56" r="0.59" opacity="0.8"/>
<circle cx="337.14" cy="33.81" r="0.52" opacity="0.6"/>
<circle cx="356.48" cy="155.1" r="0.59" opacity="0.6"/>
<circle cx="352.33" cy="141.27" r="0.45" opacity="0.6"/>
<circle cx="336.71" cy="70.27" r="0.56" opacity="1"/>
<circle cx="351.76" cy="161.7" r="0.49" opacity="0.8"/>
<circle cx="344.65" cy="29.07" r="0.64" opacity="0.8"/>
<circle cx="343.77" cy="26.83" r="0.33" opacity="1"/>
<circle cx="359.77" cy="24.6" r="0.6" opacity="0.6"/>
<circle cx="356.48" cy="164.2" r="0.34" opacity="0.8"/>
<circle cx="355.02" cy="151.05" r="0.52" opacity="0.8"/>
<circle cx="333.48" cy="84.59" r="0.63" opacity="0.8"/>
<circle cx="336.9" cy="32.59" r="0.46" opacity="0.6"/>
<circle cx="343.41" cy="107.78" r="0.31" opacity="0.8"/>
<circle cx="337.75" cy="83.27" r="0.46" opacity="0.6"/>
<circle cx="362.65" cy="25.81" r="0.56" opacity="1"/>
<circle cx="359.31" cy="27.52" r="0.44" opacity="0.8"/>
<circle cx="340.83" cy="101.64" r="0.38" opacity="0.8"/>
<circle cx="351.72" cy="152.41" r="0.53" opacity="1"/>
<circle cx="341.73" cy="78.02" r="0.59" opacity="1"/>
<circle cx="349.49" cy="138.27" r="0.32" opacity="0.8"/>
<circle cx="335.39" cy="67.83" r="0.59" opacity="0.6"/>
<circle cx="336.67" cy="77.6" r="0.57" opacity="0.6"/>
<circle cx="366.56" cy="172.47" r="0.49" opacity="1"/>
<circle cx="359.9" cy="173.18" r="0.58" opacity="1"/>
<circle cx="335.46" cy="49.14" r="0.56" opacity="0.6"/>
<circle cx="330.62" cy="60.18" r="0.48" opacity="1"/>
<circle cx="337.44" cy="83.83" r="0.57" opacity="0.6"/>
<circle cx="343.89" cy="111.23" r="0.65" opacity="0.8"/>
<circle cx="329.54" cy="64.73" r="0.33" opacity="1"/>
<circle cx="336.78" cy="69.99" r="0.52" opacity="0.6"/>
<circle cx="348.55" cy="27.16" r="0.46" opacity="0.6"/>
<circle cx="356.56" cy="159.03" r="0.53" opacity="0.6"/>
<circle cx="334.81" cy="37.04" r="0.44" opacity="0.8"/>
<circle cx="358.3" cy="154.83" r="0.53" opacity="0.8"/>
<circle cx="358.09" cy="25.65" r="0.59" opacity="1"/>
<circle cx="355.89" cy="149.51" r="0.49" opacity="0.6"/>
<circle cx="353.41" cy="26.79" r="0.42" opacity="0.6"/>
<circle cx="348.25" cy="24.66" r="0.64" opacity="0.6"/>
<circle cx="333.33" cy="63.72" r="0.53" opacity="1"/>
<circle cx="344.1" cy="27.42" r="0.57" opacity="0.6"/>
<circle cx="346.53" cy="102.4" r="0.59" opacity="0.6"/>
<circle cx="354.22" cy="126.9" r="0.59" opacity="0.8"/>
<circle cx="337.13" cy="87.26" r="0.42" opacity="1"/>
<circle cx="332.79" cy="68.38" r="0.35" opacity="0.6"/>
<circle cx="336.45" cy="41.96" r="0.45" opacity="0.8"/>
<circle cx="338.17" cy="90.4" r="0.5" opacity="1"/>
<circle cx="338.77" cy="41.55" r="0.54" opacity="0.8"/>
<circle cx="340.29" cy="107.54" r="0.4" opacity="0.6"/>
<circle cx="345.64" cy="109.45" r="0.51" opacity="0.6"/>
<circle cx="336.12" cy="61.04" r="0.32" opacity="1"/>
<circle cx="336.44" cy="75.36" r="0.4" opacity="1"/>
<circle cx="355.06" cy="154.01" r="0.49" opacity="1"/>
<circle cx="357.64" cy="166.3" r="0.44" opacity="0.6"/>
<circle cx="334.16" cy="48.72" r="0.41" opacity="0.8"/>
<circle cx="353.94" cy="147.5" r="0.44" opacity="0.8"/>
<circle cx="348.4" cy="137.77" r="0.43" opacity="0.8"/>
<circle cx="336.74" cy="35.96" r="0.33" opacity="0.8"/>
<circle cx="337.99" cy="36.24" r="0.48" opacity="1"/>
<circle cx="337.84" cy="77.94" r="0.55" opacity="0.6"/>
<circle cx="339.83" cy="36.1" r="0.36" opacity="1"/>
<circle cx="361.8" cy="28.5" r="0.52" opacity="0.8"/>
<circle cx="361.02" cy="25.77" r="0.61" opacity="0.6"/>
<circle cx="349.13" cy="142.18" r="0.41" opacity="0.8"/>
<circle cx="341.36" cy="108.78" r="0.51" opacity="0.8"/>
<circle cx="338.26" cy="94.29" r="0.43" opacity="0.8"/>
<circle cx="360.52" cy="172.98" r="0.51" opacity="0.8"/>
<circle cx="352.55" cy="125.05" r="0.31" opacity="0.6"/>
<circle cx="338.06" cy="97.71" r="0.64" opacity="0.8"/>
<circle cx="363.76" cy="172.87" r="0.33" opacity="0.6"/>
<circle cx="334.83" cy="77.53" r="0.48" opacity="0.6"/>
<circle cx="342.37" cy="98.23" r="0.57" opacity="0.6"/>
<circle cx="356.49" cy="161.68" r="0.42" opacity="0.6"/>
<circle cx="338.85" cy="98.44" r="0.64" opacity="0.6"/>
<circle cx="345.6" cy="30.75" r="0.62" opacity="0.8"/>
<circle cx="360.13" cy="25.59" r="0.55" opacity="1"/>
<circle cx="340.21" cy="101.67" r="0.34" opacity="0.6"/>
<circle cx="365.1" cy="26.48" r="0.33" opacity="0.6"/>
<circle cx="342.35" cy="99.52" r="0.63" opacity="0.8"/>
<circle cx="353.01" cy="35.61" r="0.35" opacity="0.8"/>
<circle cx="333.99" cy="43.36" r="0.56" opacity="0.6"/>
<circle cx="342.67" cy="97.16" r="0.51" opacity="1"/>
<circle cx="357.57" cy="165.21" r="0.62" opacity="0.6"/>
<circle cx="340.35" cy="109.97" r="0.64" opacity="0.6"/>
<circle cx="356.57" cy="151.95" r="0.38" opacity="0.8"/>
<circle cx="335.33" cy="39.02" r="0.64" opacity="0.8"/>
<circle cx="361.87" cy="29.18" r="0.64" opacity="1"/>
<circle cx="337.71" cy="38.49" r="0.47" opacity="0.8"/>
<circle cx="334.1" cy="61.86" r="0.34" opacity="1"/>
<circle cx="338.25" cy="32.61" r="0.59" opacity="1"/>
<circle cx="340.29" cy="30.91" r="0.63" opacity="0.8"/>
<circle cx="345.56" cy="122.57" r="0.33" opacity="1"/>
<circle cx="336.64" cy="61.73" r="0.58" opacity="1"/>
<circle cx="354.29" cy="168.81" r="0.57" opacity="0.8"/>
<circle cx="335.49" cy="48.26" r="0.38" opacity="1"/>
<circle cx="354.25" cy="152.06" r="0.57" opacity="1"/>
<circle cx="335.09" cy="57.93" r="0.52" opacity="1"/>
<circle cx="357.23" cy="178.2" r="0.52" opacity="0.6"/>
<circle cx="334.98" cy="69.4" r="0.42" opacity="0.6"/>
<circle cx="353.76" cy="146.57" r="0.43" opacity="0.6"/>
<circle cx="361" cy="162.93" r="0.44" opacity="0.8"/>
<circle cx="343.37" cy="103.01" r="0.31" opacity="1"/>
<circle cx="355.58" cy="152.66" r="0.5" opacity="0.8"/>
<circle cx="336.08" cy="98.15" r="0.36" opacity="0.6"/>
<circle cx="353.69" cy="149.09" r="0.35" opacity="0.6"/>
<circle cx="351.02" cy="26.46" r="0.58" opacity="1"/>
<circle cx="331.73" cy="93.51" r="0.49" opacity="0.8"/>
<circle cx="354.39" cy="144.7" r="0.57" opacity="0.6"/>
<circle cx="335.58" cy="62.19" r="0.44" opacity="0.8"/>
<circle cx="345.4" cy="28.45" r="0.54" opacity="0.8"/>
<circle cx="353.81" cy="26.71" r="0.45" opacity="0.8"/>
<circle cx="359.6" cy="169.76" r="0.34" opacity="0.8"/>
<circle cx="335.31" cy="95.31" r="0.36" opacity="0.8"/>
<circle cx="334.08" cy="50.01" r="0.52" opacity="0.8"/>
<circle cx="358.86" cy="162.86" r="0.52" opacity="0.8"/>
<circle cx="353.66" cy="148.61" r="0.35" opacity="0.6"/>
<circle cx="345.14" cy="111.84" r="0.57" opacity="0.8"/>
<circle cx="351.71" cy="131.63" r="0.46" opacity="0.8"/>
<circle cx="358.28" cy="158.83" r="0.43" opacity="0.8"/>
<circle cx="337.3" cy="83.92" r="0.37" opacity="0.6"/>
<circle cx="351.84" cy="128.63" r="0.55" opacity="1"/>
<circle cx="338.02" cy="24.29" r="0.37" opacity="1"/>
<circle cx="351.19" cy="29.19" r="0.65" opacity="0.6"/>
<circle cx="341.47" cy="26.15" r="0.49" opacity="0.8"/>
<circle cx="368.1" cy="31.25" r="0.55" opacity="1"/>
<circle cx="354.84" cy="32.1" r="0.58" opacity="1"/>
<circle cx="334.63" cy="50.7" r="0.46" opacity="0.6"/>
<circle cx="361.97" cy="179.18" r="0.65" opacity="0.6"/>
<circle cx="343.4" cy="103.26" r="0.33" opacity="0.8"/>
<circle cx="341.43" cy="112.23" r="0.34" opacity="0.6"/>
<circle cx="335.55" cy="73.01" r="0.48" opacity="1"/>
<circle cx="354.59" cy="26.88" r="0.41" opacity="0.6"/>
<circle cx="350.89" cy="118.42" r="0.39" opacity="0.6"/>
<circle cx="341.72" cy="33.11" r="0.49" opacity="0.6"/>
<circle cx="351.65" cy="130.91" r="0.53" opacity="0.6"/>
<circle cx="344.44" cy="26.79" r="0.59" opacity="1"/>
<circle cx="353.83" cy="141.07" r="0.37" opacity="0.6"/>
<circle cx="358.52" cy="143.65" r="0.49" opacity="0.6"/>
<circle cx="349.83" cy="30.11" r="0.44" opacity="0.8"/>
<circle cx="336.2" cy="56.71" r="0.46" opacity="0.8"/>
<circle cx="341.66" cy="97.82" r="0.65" opacity="0.8"/>
<circle cx="337.41" cy="36.36" r="0.34" opacity="1"/>
<circle cx="336.48" cy="89.44" r="0.32" opacity="0.8"/>
<circle cx="346.13" cy="31.66" r="0.36" opacity="0.8"/>
<circle cx="359.38" cy="30.02" r="0.47" opacity="0.6"/>
<circle cx="360.01" cy="178.64" r="0.63" opacity="0.6"/>
<circle cx="337.25" cy="86.05" r="0.32" opacity="0.8"/>
<circle cx="357.22" cy="166.05" r="0.49" opacity="1"/>
<circle cx="359.99" cy="180.29" r="0.44" opacity="1"/>
<circle cx="348.25" cy="130.58" r="0.4" opacity="0.8"/>
<circle cx="352.85" cy="157.01" r="0.52" opacity="0.6"/>
<circle cx="331.44" cy="66.86" r="0.42" opacity="0.8"/>
<circle cx="336.98" cy="33.75" r="0.31" opacity="1"/>
<circle cx="341.27" cy="96.79" r="0.35" opacity="0.6"/>
<circle cx="350.96" cy="138.93" r="0.52" opacity="0.8"/>
<circle cx="348.62" cy="118.63" r="0.55" opacity="0.8"/>
<circle cx="332.67" cy="50.92" r="0.64" opacity="0.6"/>
<circle cx="359.63" cy="174.88" r="0.31" opacity="0.8"/>
<circle cx="354.43" cy="139.05" r="0.5" opacity="0.6"/>
<circle cx="347.34" cy="118.95" r="0.52" opacity="0.8"/>
<circle cx="355.35" cy="151.76" r="0.55" opacity="1"/>
<circle cx="338.14" cy="100.41" r="0.37" opacity="0.6"/>
<circle cx="364.98" cy="30.26" r="0.55" opacity="0.6"/>
<circle cx="328.1" cy="76.17" r="0.47" opacity="0.8"/>
<circle cx="332.54" cy="74.84" r="0.49" opacity="0.6"/>
<circle cx="359.16" cy="22.97" r="0.39" opacity="0.8"/>
<circle cx="336.4" cy="85.87" r="0.63" opacity="0.8"/>
<circle cx="361.51" cy="29.88" r="0.41" opacity="0.8"/>
</g>
<g fill="#4cff3c" filter="url(#b06)">
<circle cx="219.66" cy="169.36" r="1.83" opacity="0.5"/>
<circle cx="252.59" cy="96.45" r="1.18" opacity="0.6"/>
<circle cx="248.96" cy="38.44" r="1.3" opacity="0.75"/>
<circle cx="228.64" cy="141.1" r="1.5" opacity="1"/>
<circle cx="286.54" cy="53.64" r="1.87" opacity="0.9"/>
<circle cx="257.04" cy="32.16" r="1.69" opacity="0.5"/>
<circle cx="301.39" cy="105.03" r="1.65" opacity="1"/>
<circle cx="355.44" cy="157.33" r="1.51" opacity="1"/>
<circle cx="282.99" cy="121.28" r="1.47" opacity="1"/>
<circle cx="242.82" cy="40.35" r="1.15" opacity="0.75"/>
<circle cx="312.78" cy="133.12" r="1.01" opacity="0.9"/>
<circle cx="340.23" cy="101.99" r="1.6" opacity="1"/>
<circle cx="281.82" cy="63.98" r="1.3" opacity="0.6"/>
<circle cx="260.33" cy="85.17" r="1.45" opacity="0.5"/>
<circle cx="321.02" cy="162.85" r="1.68" opacity="0.45"/>
<circle cx="315.2" cy="56.54" r="1.22" opacity="0.45"/>
<circle cx="304.72" cy="143.65" r="1.47" opacity="0.6"/>
<circle cx="301.17" cy="46.04" r="1.3" opacity="0.6"/>
<circle cx="281.07" cy="127.25" r="1.65" opacity="0.75"/>
<circle cx="283.36" cy="31.94" r="1.42" opacity="0.45"/>
<circle cx="260.53" cy="26.43" r="1.23" opacity="1"/>
<circle cx="327.76" cy="111.64" r="1.31" opacity="1"/>
<circle cx="296.32" cy="32.33" r="1.8" opacity="0.75"/>
<circle cx="318.07" cy="124.42" r="1.49" opacity="0.5"/>
<circle cx="323.65" cy="88.03" r="1.34" opacity="1"/>
<circle cx="251.22" cy="76.1" r="1.25" opacity="0.5"/>
<circle cx="250.17" cy="33.4" r="1.53" opacity="0.75"/>
<circle cx="305.02" cy="130.77" r="1.04" opacity="0.5"/>
<circle cx="329.07" cy="141.92" r="1.89" opacity="1"/>
<circle cx="338.5" cy="135.1" r="1.54" opacity="0.5"/>
<circle cx="276.72" cy="65.23" r="1.5" opacity="0.6"/>
<circle cx="278.82" cy="98.98" r="1.88" opacity="0.5"/>
<circle cx="316.32" cy="143.41" r="1.29" opacity="0.75"/>
<circle cx="275.91" cy="69.01" r="1.17" opacity="0.6"/>
<circle cx="321.88" cy="146.46" r="1.82" opacity="0.6"/>
<circle cx="276.59" cy="86.87" r="1.48" opacity="0.75"/>
<circle cx="250.5" cy="54.23" r="1.58" opacity="0.75"/>
<circle cx="324.5" cy="52.26" r="1.24" opacity="0.5"/>
<circle cx="306.12" cy="29.15" r="1.72" opacity="0.6"/>
<circle cx="324.45" cy="108.66" r="1.43" opacity="0.45"/>
<circle cx="321.3" cy="83.82" r="1.22" opacity="0.9"/>
<circle cx="268.38" cy="63.15" r="1.46" opacity="0.75"/>
<circle cx="330.19" cy="72.13" r="1.28" opacity="1"/>
<circle cx="299.6" cy="56.98" r="1.13" opacity="0.9"/>
<circle cx="298.19" cy="112.52" r="1.65" opacity="0.9"/>
<circle cx="318.39" cy="62.5" r="1.74" opacity="0.5"/>
<circle cx="323.84" cy="97.86" r="1.83" opacity="0.6"/>
<circle cx="293.68" cy="151.56" r="1.74" opacity="1"/>
<circle cx="248.75" cy="131.37" r="1.46" opacity="0.9"/>
<circle cx="257.24" cy="99.99" r="1.63" opacity="0.75"/>
<circle cx="337.03" cy="162.39" r="1.09" opacity="1"/>
<circle cx="267.64" cy="144.8" r="1.86" opacity="0.75"/>
<circle cx="318.27" cy="152.91" r="1.59" opacity="0.45"/>
<circle cx="271.13" cy="95.98" r="1.57" opacity="0.5"/>
<circle cx="227.85" cy="103.96" r="1.19" opacity="0.45"/>
<circle cx="319.54" cy="109.87" r="1.24" opacity="1"/>
<circle cx="318.33" cy="66.03" r="1.49" opacity="0.5"/>
<circle cx="324.43" cy="99.77" r="1.88" opacity="1"/>
<circle cx="228.2" cy="58.64" r="1.54" opacity="0.6"/>
<circle cx="317.6" cy="124.25" r="1.08" opacity="0.6"/>
<circle cx="258.57" cy="60.83" r="1.07" opacity="0.9"/>
<circle cx="326.81" cy="71.58" r="1" opacity="0.9"/>
<circle cx="291.91" cy="38.91" r="1.08" opacity="0.6"/>
<circle cx="272.37" cy="67.78" r="1.35" opacity="1"/>
<circle cx="324.54" cy="108.77" r="1.89" opacity="1"/>
<circle cx="301.05" cy="49.06" r="1.34" opacity="1"/>
<circle cx="254.51" cy="64.19" r="1.13" opacity="1"/>
<circle cx="279.97" cy="87.57" r="1.44" opacity="1"/>
<circle cx="289.36" cy="117.51" r="1.41" opacity="1"/>
<circle cx="308.46" cy="146.2" r="1.3" opacity="0.9"/>
<circle cx="304.5" cy="69.1" r="1.54" opacity="0.5"/>
<circle cx="244.05" cy="71.2" r="1.87" opacity="0.9"/>
<circle cx="301.66" cy="60.22" r="1.34" opacity="0.45"/>
<circle cx="335.72" cy="150.37" r="1.76" opacity="0.45"/>
<circle cx="276.04" cy="99.54" r="1.57" opacity="1"/>
<circle cx="252.01" cy="46.7" r="1.38" opacity="0.75"/>
<circle cx="274.76" cy="100.66" r="1.83" opacity="0.5"/>
<circle cx="277.45" cy="28.73" r="1.87" opacity="0.5"/>
<circle cx="311.22" cy="36.11" r="1.69" opacity="0.5"/>
<circle cx="315.3" cy="48.57" r="1.55" opacity="0.6"/>
<circle cx="302.37" cy="111.17" r="1.4" opacity="0.75"/>
<circle cx="284.33" cy="127.14" r="1.62" opacity="1"/>
<circle cx="266.19" cy="26.86" r="1.09" opacity="0.75"/>
<circle cx="340.89" cy="134.89" r="1.31" opacity="0.45"/>
<circle cx="280.5" cy="129.77" r="1.29" opacity="0.9"/>
<circle cx="220.06" cy="131.92" r="1.31" opacity="1"/>
<circle cx="317.21" cy="48.26" r="1.89" opacity="1"/>
<circle cx="292.46" cy="107.6" r="1.3" opacity="0.75"/>
<circle cx="275.42" cy="51.34" r="1.58" opacity="0.75"/>
<circle cx="321.3" cy="144.97" r="1.52" opacity="0.45"/>
<circle cx="263.27" cy="93.15" r="1.24" opacity="0.45"/>
<circle cx="272.89" cy="83.2" r="1.1" opacity="0.9"/>
<circle cx="321.64" cy="68.64" r="1.55" opacity="1"/>
<circle cx="316.44" cy="71.05" r="1.21" opacity="1"/>
<circle cx="277.44" cy="44.21" r="1.35" opacity="1"/>
<circle cx="287.95" cy="105.37" r="1.83" opacity="1"/>
<circle cx="221.43" cy="78.07" r="1.12" opacity="0.45"/>
<circle cx="272.17" cy="109.08" r="1.59" opacity="0.75"/>
<circle cx="258.07" cy="65.18" r="1.48" opacity="1"/>
<circle cx="301.17" cy="64.11" r="1.49" opacity="0.9"/>
<circle cx="296.46" cy="138.96" r="1.68" opacity="0.75"/>
<circle cx="340.7" cy="138.13" r="1.9" opacity="0.75"/>
<circle cx="253.57" cy="155.1" r="1.78" opacity="1"/>
<circle cx="303.51" cy="76.78" r="1.64" opacity="0.5"/>
<circle cx="278.97" cy="117.43" r="1.71" opacity="0.45"/>
<circle cx="244.99" cy="32.19" r="1.32" opacity="0.9"/>
<circle cx="304.88" cy="48.88" r="1.88" opacity="0.9"/>
<circle cx="257.64" cy="64.03" r="1.77" opacity="0.5"/>
<circle cx="328.41" cy="86.12" r="1.25" opacity="0.5"/>
<circle cx="322.47" cy="149.94" r="1.69" opacity="0.5"/>
<circle cx="273.52" cy="44.87" r="1.57" opacity="0.5"/>
<circle cx="276.82" cy="92.3" r="1.57" opacity="0.45"/>
<circle cx="268.22" cy="32.8" r="1.48" opacity="1"/>
<circle cx="289.19" cy="72.53" r="1.26" opacity="0.6"/>
<circle cx="301.97" cy="109.78" r="1.44" opacity="0.9"/>
<circle cx="350.54" cy="139.8" r="1.56" opacity="0.45"/>
<circle cx="283.79" cy="42.12" r="1.77" opacity="0.75"/>
<circle cx="347.51" cy="157.31" r="1.32" opacity="1"/>
<circle cx="274.08" cy="69.87" r="1.63" opacity="1"/>
<circle cx="279.13" cy="37.06" r="1.09" opacity="1"/>
<circle cx="286.44" cy="43.42" r="1.2" opacity="0.5"/>
<circle cx="286.57" cy="58.15" r="1.08" opacity="0.45"/>
<circle cx="234.68" cy="65.5" r="1.5" opacity="0.6"/>
<circle cx="323.97" cy="66.72" r="1.85" opacity="1"/>
<circle cx="343.44" cy="123.9" r="1.47" opacity="0.6"/>
<circle cx="333.59" cy="144.63" r="1.35" opacity="1"/>
<circle cx="289.94" cy="114.03" r="1.48" opacity="1"/>
<circle cx="291.02" cy="119.33" r="1.45" opacity="0.75"/>
<circle cx="278.26" cy="84.69" r="1.58" opacity="0.6"/>
<circle cx="307.82" cy="65.58" r="1.28" opacity="0.6"/>
<circle cx="354.65" cy="172.27" r="1.29" opacity="0.6"/>
<circle cx="310.63" cy="150.87" r="1.61" opacity="1"/>
<circle cx="260.84" cy="90.08" r="1.86" opacity="1"/>
<circle cx="282.84" cy="116.31" r="1.28" opacity="0.5"/>
<circle cx="314.28" cy="49.99" r="1.01" opacity="1"/>
<circle cx="320.95" cy="48.18" r="1.86" opacity="0.6"/>
<circle cx="264.66" cy="88.83" r="1.47" opacity="0.9"/>
<circle cx="322.61" cy="111.39" r="1.07" opacity="0.75"/>
<circle cx="291.66" cy="31.59" r="1.77" opacity="1"/>
<circle cx="269.68" cy="62.16" r="1.09" opacity="0.6"/>
<circle cx="316.74" cy="40.76" r="1.67" opacity="1"/>
<circle cx="285.66" cy="81.73" r="1.14" opacity="0.45"/>
<circle cx="313.92" cy="57.47" r="1.22" opacity="0.5"/>
<circle cx="231.54" cy="126.19" r="1.2" opacity="0.6"/>
<circle cx="299.8" cy="69.63" r="1.56" opacity="0.75"/>
<circle cx="260.43" cy="54.52" r="1.88" opacity="0.75"/>
<circle cx="288.78" cy="32.27" r="1.9" opacity="0.5"/>
<circle cx="256.18" cy="29.82" r="1.21" opacity="0.45"/>
<circle cx="293.04" cy="130.4" r="1.34" opacity="0.5"/>
<circle cx="253.29" cy="71.33" r="1.72" opacity="0.5"/>
<circle cx="282.74" cy="58.87" r="1.85" opacity="1"/>
<circle cx="333" cy="112.62" r="1.15" opacity="0.75"/>
<circle cx="261.44" cy="41.58" r="1.32" opacity="0.45"/>
<circle cx="245.09" cy="70.3" r="1.24" opacity="1"/>
<circle cx="321.44" cy="115.47" r="1.19" opacity="0.45"/>
<circle cx="263.55" cy="37.06" r="1.22" opacity="0.9"/>
<circle cx="274.06" cy="30.59" r="1.27" opacity="0.45"/>
<circle cx="310.01" cy="121.8" r="1.52" opacity="0.9"/>
<circle cx="312.42" cy="147" r="1.08" opacity="0.45"/>
<circle cx="301.35" cy="148.9" r="1.36" opacity="1"/>
<circle cx="271.99" cy="88.42" r="1.32" opacity="1"/>
<circle cx="255.44" cy="91.38" r="1.13" opacity="0.6"/>
<circle cx="308.31" cy="60.73" r="1.27" opacity="0.75"/>
<circle cx="311.91" cy="145.15" r="1.22" opacity="0.45"/>
<circle cx="322.77" cy="96.54" r="1.7" opacity="0.9"/>
<circle cx="272.86" cy="50.63" r="1.29" opacity="1"/>
<circle cx="302.9" cy="58.74" r="1.14" opacity="1"/>
<circle cx="314.09" cy="63.91" r="1.73" opacity="0.5"/>
<circle cx="342.1" cy="152.5" r="1.53" opacity="0.45"/>
<circle cx="321.25" cy="76.94" r="1.51" opacity="1"/>
<circle cx="299.69" cy="51.92" r="1.89" opacity="0.75"/>
<circle cx="296.47" cy="49.98" r="1.03" opacity="1"/>
<circle cx="248.93" cy="56.6" r="1.47" opacity="1"/>
<circle cx="265.54" cy="50.27" r="1.72" opacity="0.45"/>
<circle cx="262.9" cy="26.45" r="1.53" opacity="1"/>
<circle cx="238.99" cy="158.64" r="1.64" opacity="0.5"/>
<circle cx="325.22" cy="74.5" r="1.19" opacity="0.5"/>
<circle cx="288.94" cy="81.08" r="1.49" opacity="1"/>
<circle cx="335.96" cy="28.22" r="1.24" opacity="1"/>
<circle cx="287.35" cy="27.85" r="1.85" opacity="1"/>
<circle cx="276.07" cy="107.93" r="1.83" opacity="0.6"/>
<circle cx="253.94" cy="66.2" r="1.21" opacity="1"/>
<circle cx="273.55" cy="107.25" r="1.44" opacity="1"/>
<circle cx="268.62" cy="88.57" r="1.27" opacity="0.5"/>
<circle cx="311.79" cy="82.43" r="1.33" opacity="0.75"/>
<circle cx="269.94" cy="91.35" r="1.24" opacity="0.75"/>
<circle cx="236.41" cy="129.73" r="1.6" opacity="0.45"/>
<circle cx="277.5" cy="105.09" r="1.78" opacity="0.75"/>
<circle cx="301.17" cy="59.18" r="1.27" opacity="0.75"/>
<circle cx="308.47" cy="41.52" r="1.68" opacity="1"/>
<circle cx="245.75" cy="52.61" r="1.04" opacity="1"/>
<circle cx="353.1" cy="163.06" r="1.35" opacity="0.75"/>
<circle cx="303.45" cy="142.78" r="1.1" opacity="1"/>
<circle cx="266.02" cy="86.01" r="1.34" opacity="0.75"/>
<circle cx="317.77" cy="84.6" r="1.36" opacity="0.9"/>
<circle cx="254.45" cy="80.12" r="1.3" opacity="0.45"/>
<circle cx="259.75" cy="66.02" r="1.44" opacity="0.5"/>
<circle cx="275.74" cy="97.27" r="1.46" opacity="0.9"/>
<circle cx="339.31" cy="101.99" r="1.28" opacity="0.6"/>
<circle cx="300.55" cy="49.7" r="1.79" opacity="1"/>
<circle cx="310.8" cy="42.06" r="1.03" opacity="0.9"/>
<circle cx="297.88" cy="75.8" r="1.75" opacity="0.9"/>
<circle cx="328.24" cy="128.56" r="1.35" opacity="1"/>
<circle cx="344.35" cy="142.49" r="1.2" opacity="1"/>
<circle cx="317.29" cy="64.3" r="1.37" opacity="1"/>
<circle cx="286.02" cy="43.36" r="1.16" opacity="0.45"/>
<circle cx="278.3" cy="80.74" r="1.31" opacity="0.9"/>
<circle cx="246.72" cy="69.36" r="1.47" opacity="0.6"/>
<circle cx="274.2" cy="38.76" r="1.46" opacity="0.5"/>
<circle cx="299.44" cy="114.01" r="1.25" opacity="0.5"/>
<circle cx="311.6" cy="154.99" r="1.24" opacity="0.5"/>
<circle cx="275.27" cy="72.03" r="1.13" opacity="1"/>
<circle cx="277.49" cy="82.54" r="1.03" opacity="0.5"/>
<circle cx="259.31" cy="49.12" r="1.59" opacity="0.6"/>
<circle cx="241.02" cy="38.04" r="1.12" opacity="0.9"/>
<circle cx="324.59" cy="108.69" r="1.82" opacity="0.5"/>
<circle cx="247.34" cy="57.29" r="1.78" opacity="0.75"/>
<circle cx="334.25" cy="73.82" r="1.26" opacity="0.45"/>
<circle cx="302.34" cy="118.12" r="1.42" opacity="1"/>
<circle cx="259.03" cy="31.38" r="1.77" opacity="1"/>
<circle cx="261.34" cy="31.98" r="1.41" opacity="1"/>
<circle cx="288.4" cy="140" r="1.08" opacity="0.6"/>
<circle cx="279.82" cy="88.84" r="1.39" opacity="0.75"/>
<circle cx="272.08" cy="28.88" r="1.18" opacity="0.9"/>
<circle cx="329.45" cy="104.4" r="1" opacity="0.5"/>
<circle cx="275.16" cy="58.07" r="1.65" opacity="1"/>
<circle cx="270.83" cy="121.13" r="1.69" opacity="0.6"/>
<circle cx="277.22" cy="81.32" r="1.49" opacity="0.75"/>
<circle cx="321.01" cy="54.56" r="1.62" opacity="1"/>
<circle cx="321.25" cy="68.32" r="1.04" opacity="0.75"/>
<circle cx="287.03" cy="59" r="1.01" opacity="1"/>
<circle cx="284.51" cy="38.38" r="1.16" opacity="1"/>
<circle cx="265.84" cy="40.53" r="1.36" opacity="0.75"/>
<circle cx="254.95" cy="82.15" r="1.77" opacity="0.45"/>
<circle cx="307.1" cy="142.39" r="1.55" opacity="0.45"/>
</g>
<g fill="#2fbf22" opacity="0.55">
<circle cx="318.7" cy="152.16" r="0.84"/>
<circle cx="232.53" cy="164.85" r="0.5"/>
<circle cx="276.2" cy="29.23" r="0.55"/>
<circle cx="261.1" cy="131.38" r="0.72"/>
<circle cx="331.63" cy="111.54" r="0.68"/>
<circle cx="264.84" cy="103.23" r="0.73"/>
<circle cx="227.02" cy="124.73" r="0.55"/>
<circle cx="266" cy="126.99" r="0.6"/>
<circle cx="342.75" cy="108.7" r="0.85"/>
<circle cx="220.69" cy="121.89" r="0.51"/>
<circle cx="344.28" cy="154.23" r="0.8"/>
<circle cx="223.85" cy="98.35" r="0.55"/>
<circle cx="246.85" cy="121.88" r="0.61"/>
<circle cx="248.77" cy="93.31" r="0.77"/>
<circle cx="281.92" cy="154.96" r="0.63"/>
<circle cx="230.67" cy="99.24" r="0.71"/>
<circle cx="228.17" cy="86.05" r="0.67"/>
<circle cx="212.23" cy="36.2" r="0.69"/>
<circle cx="308.53" cy="69.34" r="0.65"/>
<circle cx="244.39" cy="126.25" r="0.83"/>
<circle cx="268.74" cy="30.52" r="0.54"/>
<circle cx="282.91" cy="108.98" r="0.7"/>
<circle cx="285.82" cy="124.03" r="0.74"/>
<circle cx="229.94" cy="139.87" r="0.54"/>
<circle cx="265.32" cy="150.81" r="0.84"/>
<circle cx="257.63" cy="103.06" r="0.73"/>
<circle cx="219.32" cy="47.56" r="0.51"/>
<circle cx="323.74" cy="134.01" r="0.49"/>
<circle cx="307.25" cy="51.19" r="0.82"/>
<circle cx="273.33" cy="92.99" r="0.76"/>
<circle cx="323.73" cy="38.81" r="0.62"/>
<circle cx="356.38" cy="151.99" r="0.69"/>
<circle cx="332.35" cy="91.97" r="0.71"/>
<circle cx="289.82" cy="104.36" r="0.47"/>
<circle cx="287.34" cy="100.94" r="0.82"/>
<circle cx="239.77" cy="111.83" r="0.74"/>
<circle cx="232.18" cy="82.19" r="0.69"/>
<circle cx="272.05" cy="174.02" r="0.82"/>
<circle cx="330.83" cy="64.53" r="0.84"/>
<circle cx="232.95" cy="86.12" r="0.73"/>
<circle cx="328.66" cy="68.46" r="0.73"/>
<circle cx="346.13" cy="132.51" r="0.82"/>
<circle cx="310.63" cy="53.26" r="0.7"/>
<circle cx="257.41" cy="75.66" r="0.72"/>
<circle cx="320.23" cy="72.1" r="0.5"/>
<circle cx="267.01" cy="96.61" r="0.68"/>
<circle cx="316.01" cy="86.85" r="0.75"/>
<circle cx="344.04" cy="147.47" r="0.66"/>
<circle cx="216.13" cy="44.64" r="0.72"/>
<circle cx="243.3" cy="138.45" r="0.51"/>
<circle cx="256.8" cy="60.96" r="0.79"/>
<circle cx="319.66" cy="67.88" r="0.75"/>
<circle cx="217.23" cy="148.36" r="0.49"/>
<circle cx="347.27" cy="136.8" r="0.8"/>
<circle cx="327.72" cy="109.15" r="0.55"/>
<circle cx="334.24" cy="146" r="0.57"/>
<circle cx="315.6" cy="165.8" r="0.61"/>
<circle cx="260.85" cy="107.73" r="0.46"/>
<circle cx="251.31" cy="118.35" r="0.76"/>
<circle cx="347.59" cy="150.83" r="0.81"/>
<circle cx="321.84" cy="122.55" r="0.75"/>
<circle cx="297.25" cy="115.69" r="0.76"/>
<circle cx="239.81" cy="127.98" r="0.52"/>
<circle cx="239.24" cy="101.8" r="0.6"/>
<circle cx="278.88" cy="108.43" r="0.5"/>
<circle cx="303.07" cy="61.65" r="0.58"/>
<circle cx="322.63" cy="46.11" r="0.51"/>
<circle cx="262.4" cy="29.99" r="0.82"/>
<circle cx="307.99" cy="124.76" r="0.65"/>
<circle cx="301.31" cy="77.64" r="0.76"/>
<circle cx="261.66" cy="56.22" r="0.52"/>
<circle cx="222.81" cy="100.45" r="0.62"/>
<circle cx="295.76" cy="36.36" r="0.54"/>
<circle cx="245.4" cy="73.58" r="0.59"/>
<circle cx="246.19" cy="138.84" r="0.66"/>
<circle cx="364.86" cy="23.47" r="0.72"/>
<circle cx="281.55" cy="162.39" r="0.7"/>
<circle cx="308.85" cy="170.82" r="0.72"/>
<circle cx="262.14" cy="164.16" r="0.83"/>
<circle cx="272.24" cy="105.89" r="0.56"/>
<circle cx="354" cy="149.61" r="0.6"/>
<circle cx="337.12" cy="91.21" r="0.47"/>
<circle cx="292.16" cy="169.17" r="0.52"/>
<circle cx="213.34" cy="32.25" r="0.72"/>
<circle cx="332.57" cy="156.25" r="0.62"/>
<circle cx="228.37" cy="105.51" r="0.73"/>
<circle cx="312.8" cy="167.86" r="0.75"/>
<circle cx="236.12" cy="93.33" r="0.58"/>
<circle cx="225.82" cy="30.52" r="0.77"/>
<circle cx="299.04" cy="111.28" r="0.54"/>
</g>
<g fill="#d8c02a" filter="url(#b06)">
<circle cx="260.69" cy="86.56" r="1.1"/>
<circle cx="290.42" cy="91.96" r="1.1"/>
<circle cx="282.79" cy="116.97" r="1.1"/>
<circle cx="289.47" cy="130.72" r="1.1"/>
<circle cx="286.85" cy="124.11" r="1.1"/>
<circle cx="264.11" cy="50.38" r="1.1"/>
<circle cx="301.22" cy="92.52" r="1.1"/>
<circle cx="271.61" cy="119.29" r="1.1"/>
<circle cx="277.92" cy="104.02" r="1.1"/>
<circle cx="250.91" cy="86.92" r="1.1"/>
<circle cx="303.8" cy="105.49" r="1.1"/>
<circle cx="316.81" cy="57.29" r="1.1"/>
<circle cx="303.6" cy="127.52" r="1.1"/>
<circle cx="284.28" cy="106.61" r="1.1"/>
</g>
<path d="M336.5,48.4 C325,42 306,31.5 285,26.5 C270,23 252,25.5 240.5,34 C232,41 232.5,54 236,66 C241,84 252,100 266,116.5 C283,136 306,158 339,178.2" stroke="#fff" stroke-width="1.1" fill="none" stroke-dasharray="4.3 2.2"/>
<path d="M368.8,31 C362,27.6 352,26.6 345,29.6 C339,32.5 336,41 336,52 C335.4,65 337,85 341.5,99.3 C346,112 352,130 356.4,148.9 C358.6,158 360.2,168 361.4,178.2" stroke="#fff" stroke-width="1.1" fill="none" stroke-dasharray="4.3 2.2"/>
</g>
<text x="212" y="32" font-size="12.6" font-weight="bold" fill="#ff3524" text-anchor="start" textLength="50" lengthAdjust="spacingAndGlyphs" stroke="#ff3524" stroke-width="0.22">mCherry</text>
<text x="212" y="43.8" font-size="12.6" font-weight="bold" fill="#3cf526" text-anchor="start" textLength="29.3" lengthAdjust="spacingAndGlyphs" stroke="#3cf526" stroke-width="0.22">c-Fos</text>
<text x="284" y="101.8" font-size="16.6" font-weight="bold" fill="#fff" text-anchor="start" textLength="34" lengthAdjust="spacingAndGlyphs">PVN</text>
<text x="345.2" y="63.3" font-size="15.6" font-weight="bold" fill="#fff" text-anchor="start" textLength="21" lengthAdjust="spacingAndGlyphs">3V</text>
<g clip-path="url(#c2)">
<rect x="372" y="21.1" width="156.9" height="157.1" fill="#0b0101" stroke="none" stroke-width="1"/>
<ellipse cx="465" cy="95" rx="26" ry="42" fill="#2a0504" filter="url(#b4)" transform="rotate(-30 465 95)"/>
<ellipse cx="412" cy="75" rx="22" ry="25" fill="#1a0302" filter="url(#b4)"/>
<ellipse cx="500" cy="48" rx="25" ry="12" fill="#1a0302" filter="url(#b4)"/>
<rect x="372" y="21.1" width="156.9" height="157.1" fill="#000" stroke="none" stroke-width="1" filter="url(#blot2)" mask="url(#m2)" opacity="0.5"/>
<rect x="372" y="21.1" width="156.9" height="157.1" fill="#000" stroke="none" stroke-width="1" filter="url(#fib2)" opacity="0.65" mask="url(#m3)"/>
<rect x="372" y="21.1" width="156.9" height="157.1" fill="#000" stroke="none" stroke-width="1" filter="url(#dust)" mask="url(#m3)" opacity="0.7"/>
<rect x="372" y="21.1" width="156.9" height="157.1" fill="#000" stroke="none" stroke-width="1" filter="url(#grain)" opacity="0.45"/>
<g fill="#ff2c1c" filter="url(#rough)">
<ellipse cx="463.78" cy="78.18" rx="3.4" ry="3"/>
<ellipse cx="454.35" cy="96.8" rx="4" ry="2.6"/>
<ellipse cx="476.69" cy="122.86" rx="2.6" ry="4"/>
<ellipse cx="471.73" cy="59.57" rx="2.5" ry="5"/>
<ellipse cx="474.21" cy="53.36" rx="3" ry="2"/>
<ellipse cx="446.91" cy="74.46" rx="2.5" ry="1.6"/>
<ellipse cx="439.46" cy="81.91" rx="2.2" ry="1.5"/>
<ellipse cx="459.32" cy="67.01" rx="2" ry="1.6"/>
<ellipse cx="427.05" cy="52.12" rx="2" ry="1.6"/>
<ellipse cx="466.76" cy="89.35" rx="2" ry="3"/>
<ellipse cx="481.65" cy="81.91" rx="2" ry="1.5"/>
<ellipse cx="449.39" cy="104.24" rx="2.6" ry="1.6"/>
<ellipse cx="436.98" cy="109.21" rx="2.2" ry="1.4"/>
<ellipse cx="484.14" cy="101.76" rx="2" ry="1.5"/>
<ellipse cx="494.06" cy="114.17" rx="2.4" ry="1.3"/>
<ellipse cx="489.1" cy="129.06" rx="2" ry="1.4"/>
<ellipse cx="418.36" cy="74.46" rx="2.2" ry="1.3"/>
<ellipse cx="422.09" cy="45.92" rx="2" ry="1.4"/>
<ellipse cx="511.44" cy="47.16" rx="2.4" ry="1.3"/>
<ellipse cx="503.99" cy="34.75" rx="2.2" ry="1.2"/>
<ellipse cx="471.73" cy="37.23" rx="2.2" ry="1.2"/>
<ellipse cx="434.5" cy="135.27" rx="2" ry="1.4"/>
<ellipse cx="397.27" cy="121.62" rx="1.8" ry="1.2"/>
<ellipse cx="481.65" cy="171.26" rx="2" ry="1.4"/>
<ellipse cx="499.03" cy="99.28" rx="2" ry="1.2"/>
<ellipse cx="479.17" cy="67.01" rx="2" ry="3.5"/>
</g>
<path d="M429,100 q3,-5 8,-7 M452,88 q5,3 7,8 M470,60 q1,7 4,12 M446,112 q6,2 10,6 M476,118 q2,6 7,9 M497,112 q5,-3 8,-8 M415,75 q5,-1 9,-5 M489,88 q5,0 9,-4 M440,128 q4,4 9,5 M462,70 q-3,5 -2,10" stroke="#d82614" stroke-width="1.2" fill="none" filter="url(#rough)" stroke-linecap="round" opacity="0.9"/>
<g fill="#45ff35" filter="url(#b06)">
<circle cx="408.44" cy="28.54" r="1.3"/>
<circle cx="414.64" cy="37.73" r="1.7"/>
<circle cx="417.12" cy="32.76" r="1.1"/>
<circle cx="455.59" cy="31.77" r="1.5"/>
<circle cx="384.86" cy="42.19" r="1.4"/>
<circle cx="398.51" cy="49.14" r="1.3"/>
<circle cx="388.58" cy="49.64" r="0.9"/>
<circle cx="382.37" cy="70.74" r="1.3"/>
<circle cx="443.18" cy="121.62" r="1.5"/>
<circle cx="465.52" cy="157.61" r="1.7"/>
<circle cx="472.97" cy="168.78" r="1.5"/>
<circle cx="444.42" cy="165.8" r="1.1"/>
<circle cx="507.72" cy="158.35" r="1.3"/>
<circle cx="489.1" cy="177.46" r="1.5"/>
<circle cx="468" cy="115.41" r="1.1"/>
<circle cx="460.56" cy="136.51" r="1.1"/>
<circle cx="382.37" cy="22.34" r="0.9"/>
<circle cx="376.17" cy="115.41" r="0.9"/>
<circle cx="439.46" cy="129.06" r="0.9"/>
<circle cx="481.65" cy="148.92" r="1"/>
<circle cx="499.03" cy="127.82" r="0.9"/>
<circle cx="494.06" cy="171.26" r="1"/>
<circle cx="520.13" cy="81.91" r="0.9"/>
<circle cx="523.85" cy="99.28" r="0.8"/>
<circle cx="525.09" cy="119.14" r="0.8"/>
<circle cx="526.33" cy="143.96" r="0.8"/>
<circle cx="523.85" cy="62.05" r="0.8"/>
<circle cx="432.01" cy="37.23" r="0.8"/>
<circle cx="402.23" cy="29.78" r="0.8"/>
<circle cx="484.14" cy="174.98" r="1.1"/>
<circle cx="449.39" cy="125.34" r="0.9"/>
<circle cx="522.61" cy="173.74" r="1.1"/>
<circle cx="526.33" cy="74.46" r="0.7"/>
<circle cx="527.57" cy="129.06" r="0.7"/>
</g>
<path d="M518.9,65.8 C508,58 494,49.5 475,44.5 C458,40.5 440,43 432,52 C424.5,61 426,76 433,91 C441,108 455,128 476,146 C492,160 506,170 518.9,177.5" stroke="#fff" stroke-width="1.1" fill="none" stroke-dasharray="4.3 2.2"/>
<path d="M528.9,59.5 C521,62 517.5,72 517.6,84 C517.8,100 521,122 523.8,139 C525.6,152 527,166 527.6,178.2" stroke="#fff" stroke-width="1.1" fill="none" stroke-dasharray="4.3 2.2"/>
</g>
</g>
<g id="panel-c">
<text x="533.5" y="20.5" font-size="25.5" font-weight="bold" fill="#000" text-anchor="start" textLength="16.3" lengthAdjust="spacingAndGlyphs" stroke="#000" stroke-width="0.55" stroke-linejoin="round">C</text>
<line x1="577.2" y1="26.35" x2="577.2" y2="162" stroke="#000" stroke-width="1.4"/>
<line x1="571.6" y1="27.05" x2="577.2" y2="27.05" stroke="#000" stroke-width="1.19"/>
<text x="0" y="0" font-size="10.3" font-weight="bold" fill="#000" text-anchor="end" transform="translate(570 30.76) scale(0.94 1)" stroke="#000" stroke-width="0.22">100</text>
<line x1="571.6" y1="53.9" x2="577.2" y2="53.9" stroke="#000" stroke-width="1.19"/>
<text x="0" y="0" font-size="10.3" font-weight="bold" fill="#000" text-anchor="end" transform="translate(570 57.61) scale(0.94 1)" stroke="#000" stroke-width="0.22">80</text>
<line x1="571.6" y1="80.75" x2="577.2" y2="80.75" stroke="#000" stroke-width="1.19"/>
<text x="0" y="0" font-size="10.3" font-weight="bold" fill="#000" text-anchor="end" transform="translate(570 84.46) scale(0.94 1)" stroke="#000" stroke-width="0.22">60</text>
<line x1="571.6" y1="107.6" x2="577.2" y2="107.6" stroke="#000" stroke-width="1.19"/>
<text x="0" y="0" font-size="10.3" font-weight="bold" fill="#000" text-anchor="end" transform="translate(570 111.31) scale(0.94 1)" stroke="#000" stroke-width="0.22">40</text>
<line x1="571.6" y1="134.45" x2="577.2" y2="134.45" stroke="#000" stroke-width="1.19"/>
<text x="0" y="0" font-size="10.3" font-weight="bold" fill="#000" text-anchor="end" transform="translate(570 138.16) scale(0.94 1)" stroke="#000" stroke-width="0.22">20</text>
<line x1="571.6" y1="161.3" x2="577.2" y2="161.3" stroke="#000" stroke-width="1.19"/>
<text x="0" y="0" font-size="10.3" font-weight="bold" fill="#000" text-anchor="end" transform="translate(570 165.01) scale(0.94 1)" stroke="#000" stroke-width="0.22">0</text>
<line x1="576.6" y1="161.3" x2="674" y2="161.3" stroke="#000" stroke-width="1.4"/>
<line x1="603.9" y1="161.3" x2="603.9" y2="166.7" stroke="#000" stroke-width="1.19"/>
<line x1="645.4" y1="161.3" x2="645.4" y2="166.7" stroke="#000" stroke-width="1.19"/>
<text x="589" y="179.4" font-size="10" font-weight="bold" fill="#000" text-anchor="start" textLength="27.6" lengthAdjust="spacingAndGlyphs" stroke="#000" stroke-width="0.22">hM3D</text>
<text x="621" y="179.4" font-size="10" font-weight="bold" fill="#000" text-anchor="start" textLength="47.6" lengthAdjust="spacingAndGlyphs" stroke="#000" stroke-width="0.22">mCherry</text>
<text transform="translate(545.2 140.5) rotate(-90)" font-size="12.2" font-weight="bold" stroke="#000" stroke-width="0.22" textLength="92" lengthAdjust="spacingAndGlyphs">c-Fos<tspan dy="-4.2" font-size="8.5">+</tspan><tspan dy="4.2">cells (%)</tspan></text>
<path d="M603.9,44.2 V36.7 H645.4 V44.2" stroke="#000" stroke-width="1.2" fill="none"/>
<text x="624.6" y="38.27" font-size="21.47" font-weight="bold" fill="#000" text-anchor="middle" stroke="#000" stroke-width="0.25">****</text>
<circle cx="603.86" cy="52.41" r="2.05" fill="#ff2a1a"/>
<circle cx="599.83" cy="68.53" r="2.05" fill="#ff2a1a"/>
<circle cx="607.64" cy="66.26" r="2.05" fill="#ff2a1a"/>
<circle cx="603.86" cy="78.86" r="2.05" fill="#ff2a1a"/>
<circle cx="599.83" cy="91.96" r="2.05" fill="#ff2a1a"/>
<circle cx="603.86" cy="96.5" r="2.05" fill="#ff2a1a"/>
<circle cx="607.64" cy="92.47" r="2.05" fill="#ff2a1a"/>
<circle cx="599.83" cy="115.9" r="2.05" fill="#ff2a1a"/>
<circle cx="607.64" cy="113.38" r="2.05" fill="#ff2a1a"/>
<circle cx="603.86" cy="86.92" r="2.05" fill="#ff2a1a"/>
<line x1="590" y1="86.17" x2="617.72" y2="86.17" stroke="#ff2a1a" stroke-width="1.3"/>
<path d="M603.9,79.37 V92.97 M597.3,79.37 H610.5 M597.3,92.97 H610.5" stroke="#ff2a1a" stroke-width="1.2" fill="none"/>
<rect x="643.38" y="94.95" width="4.1" height="4.1" fill="#000" stroke="none" stroke-width="1"/>
<rect x="643.38" y="119.39" width="4.1" height="4.1" fill="#000" stroke="none" stroke-width="1"/>
<rect x="652.2" y="132.74" width="4.1" height="4.1" fill="#000" stroke="none" stroke-width="1"/>
<rect x="635.07" y="140.81" width="4.1" height="4.1" fill="#000" stroke="none" stroke-width="1"/>
<rect x="643.38" y="136.02" width="4.1" height="4.1" fill="#000" stroke="none" stroke-width="1"/>
<rect x="651.45" y="140.81" width="4.1" height="4.1" fill="#000" stroke="none" stroke-width="1"/>
<rect x="643.38" y="146.6" width="4.1" height="4.1" fill="#000" stroke="none" stroke-width="1"/>
<rect x="643.38" y="152.4" width="4.1" height="4.1" fill="#000" stroke="none" stroke-width="1"/>
<rect x="643.38" y="130.23" width="4.1" height="4.1" fill="#000" stroke="none" stroke-width="1"/>
<rect x="639.6" y="136.02" width="4.1" height="4.1" fill="#000" stroke="none" stroke-width="1"/>
<line x1="632.08" y1="134.79" x2="659.29" y2="134.79" stroke="#000" stroke-width="1.3"/>
<path d="M645.4,129.25 V140.34 M638.8,129.25 H652 M638.8,140.34 H652" stroke="#000" stroke-width="1.2" fill="none"/>
</g>
<g id="panel-d">
<text x="2" y="206.2" font-size="25" font-weight="bold" fill="#000" text-anchor="start" textLength="17.7" lengthAdjust="spacingAndGlyphs" stroke="#000" stroke-width="0.55" stroke-linejoin="round">D</text>
<text x="34.3" y="205.4" font-size="14.6" font-weight="bold" fill="#1a0f0f" text-anchor="start" textLength="43.9" lengthAdjust="spacingAndGlyphs" stroke="#1a0f0f" stroke-width="0.35">hM3D</text>
<text x="89.4" y="205.4" font-size="14.6" font-weight="bold" fill="#1a0f0f" text-anchor="start" textLength="61.5" lengthAdjust="spacingAndGlyphs" stroke="#1a0f0f" stroke-width="0.35">mCherry</text>
<defs>
<filter id="fur" x="-10%" y="-10%" width="120%" height="120%">
<feTurbulence type="fractalNoise" baseFrequency="0.25" numOctaves="2" seed="4" result="n"/>
<feDisplacementMap in="SourceGraphic" in2="n" scale="1.6" xChannelSelector="R" yChannelSelector="G"/>
<feGaussianBlur stdDeviation="0.75"/>
</filter>
<filter id="soft" x="-50%" y="-50%" width="200%" height="200%"><feGaussianBlur stdDeviation="3.6"/></filter>
<filter id="furtex" x="0" y="0" width="1" height="1" color-interpolation-filters="sRGB">
<feTurbulence type="fractalNoise" baseFrequency="0.22 0.09" numOctaves="3" seed="9"/>
<feColorMatrix type="matrix" values="0 0 0 0 0.5  0 0 0 0 0.5  0 0 0 0 0.54  3.2 0 0 0 -1.45"/>
</filter>
<filter id="soft1" x="-30%" y="-30%" width="160%" height="160%"><feGaussianBlur stdDeviation="0.7"/></filter>
<linearGradient id="bgL" x1="0" y1="0" x2="0" y2="1"><stop offset="0" stop-color="#eeeeee"/><stop offset="1" stop-color="#f1f1f1"/></linearGradient>
<clipPath id="cd"><rect x="24.3" y="206.1" width="129.6" height="119.1"/></clipPath>
</defs>
<g clip-path="url(#cd)">
<rect x="24.3" y="206.1" width="66.6" height="119.1" fill="url(#bgL)" stroke="none" stroke-width="1"/>
<rect x="90.9" y="206.1" width="63" height="119.1" fill="#f6f6f6" stroke="none" stroke-width="1"/>
<path d="M46,215 C42,240 38,270 36.5,292 C38,306 48,312 58,316 C72,315 82,306 86.5,290 C88,266 84,238 80,222 Z" fill="#c9c9c9" filter="url(#soft)" opacity="0.8"/>
<path d="M103,216 C95,245 91,275 91.5,292 C94,310 108,318 120,321 C136,319 148,306 150.5,290 C152,262 148,236 138,214 Z" fill="#cfcfcf" filter="url(#soft)" opacity="0.8"/>
<g filter="url(#soft1)">
<path d="M43.5,247.5 C40,247.5 36,246 33.3,243.8 C34.5,242 38,242.3 41,243 C43,243.5 45,245 45.5,246.5 Z" fill="#b98f86"/>
<path d="M43,303 C39,302 35,300 30.5,298 M42,304 C38,304.5 34,304 29.5,302 M42,305.5 C38.5,307 35,307.5 31.5,306.5" stroke="#b48478" stroke-width="1.5" fill="none" stroke-linecap="round"/>
<path d="M72,309 C73.5,313 74.5,317 74.8,321 M70.5,310 C71,314 71.5,318 71.2,320" stroke="#d9a9a4" stroke-width="1.6" fill="none" stroke-linecap="round"/>
<path d="M57.2,311 C57.6,316 58,321 57.8,325.2 L60.6,325.2 C60.8,321 60.8,316 60.6,311 Z" fill="#6f6357"/>
<ellipse cx="76.6" cy="222.8" rx="4.2" ry="3.2" fill="#b9a08f" transform="rotate(-25 76.6 222.8)"/>
</g>
<path d="M46.6,208.2 C48.5,206.77 47.57,206.93 50.7,207.2 C53.83,207.47 52.6,207.67 56,209 C59.4,210.33 57.57,209.37 60.9,211.2 C64.23,213.03 62.6,212.1 66,214.5 C69.4,216.9 67.93,215.73 71.1,218.4 C74.27,221.07 72.77,218.4 75.5,222.5 C78.23,226.6 77.6,225.2 79.3,230.7 C81,236.2 79.93,233.57 80.6,239 C81.27,244.43 80.7,241 81.3,247 C81.9,253 81.7,250.2 82.4,257 C83.1,263.8 82.67,260.73 83.4,267.4 C84.13,274.07 83.93,270.87 84.6,277 C85.27,283.13 85.27,280.63 85.4,285.8 C85.53,290.97 85.67,288.4 85,292.5 C84.33,296.6 84.8,294.73 83.4,298.1 C82,301.47 82.87,299.87 80.8,302.6 C78.73,305.33 80.1,304.07 77.2,306.3 C74.3,308.53 75.17,307.4 72.1,309.3 C69.03,311.2 70.73,310.37 68,312 C65.27,313.63 66.57,313.27 63.9,314.2 C61.23,315.13 62.37,315.07 60,314.8 C57.63,314.53 59.63,314.93 56.8,313.4 C53.97,311.87 54.9,312.57 51.5,310.2 C48.1,307.83 49.6,309.7 46.6,306.3 C43.6,302.9 44.9,304.77 42.5,300 C40.1,295.23 40.8,296.67 39.4,292 C38,287.33 38.63,290.1 38.3,286 C37.97,281.9 38.1,284.37 38.4,279.7 C38.7,275.03 38.53,276.77 39.2,272 C39.87,267.23 39.47,270.07 40.4,265.4 C41.33,260.73 40.97,262.77 42,258 C43.03,253.23 42.57,255.77 43.5,251.1 C44.43,246.43 44.13,248.77 44.8,244 C45.47,239.23 45.33,240.97 45.5,236.8 C45.67,232.63 45.37,234.9 45.3,231.5 C45.23,228.1 45.53,229.93 45.3,226.6 C45.07,223.27 44.9,224.9 44.6,221.5 C44.3,218.1 44.27,219.73 44.4,216.4 C44.53,213.07 44.27,214.23 45,211.5 C45.73,208.77 44.7,209.63 46.6,208.2 Z" fill="#202023" filter="url(#fur)"/>
<clipPath id="cm1"><path d="M46.6,208.2 C48.5,206.77 47.57,206.93 50.7,207.2 C53.83,207.47 52.6,207.67 56,209 C59.4,210.33 57.57,209.37 60.9,211.2 C64.23,213.03 62.6,212.1 66,214.5 C69.4,216.9 67.93,215.73 71.1,218.4 C74.27,221.07 72.77,218.4 75.5,222.5 C78.23,226.6 77.6,225.2 79.3,230.7 C81,236.2 79.93,233.57 80.6,239 C81.27,244.43 80.7,241 81.3,247 C81.9,253 81.7,250.2 82.4,257 C83.1,263.8 82.67,260.73 83.4,267.4 C84.13,274.07 83.93,270.87 84.6,277 C85.27,283.13 85.27,280.63 85.4,285.8 C85.53,290.97 85.67,288.4 85,292.5 C84.33,296.6 84.8,294.73 83.4,298.1 C82,301.47 82.87,299.87 80.8,302.6 C78.73,305.33 80.1,304.07 77.2,306.3 C74.3,308.53 75.17,307.4 72.1,309.3 C69.03,311.2 70.73,310.37 68,312 C65.27,313.63 66.57,313.27 63.9,314.2 C61.23,315.13 62.37,315.07 60,314.8 C57.63,314.53 59.63,314.93 56.8,313.4 C53.97,311.87 54.9,312.57 51.5,310.2 C48.1,307.83 49.6,309.7 46.6,306.3 C43.6,302.9 44.9,304.77 42.5,300 C40.1,295.23 40.8,296.67 39.4,292 C38,287.33 38.63,290.1 38.3,286 C37.97,281.9 38.1,284.37 38.4,279.7 C38.7,275.03 38.53,276.77 39.2,272 C39.87,267.23 39.47,270.07 40.4,265.4 C41.33,260.73 40.97,262.77 42,258 C43.03,253.23 42.57,255.77 43.5,251.1 C44.43,246.43 44.13,248.77 44.8,244 C45.47,239.23 45.33,240.97 45.5,236.8 C45.67,232.63 45.37,234.9 45.3,231.5 C45.23,228.1 45.53,229.93 45.3,226.6 C45.07,223.27 44.9,224.9 44.6,221.5 C44.3,218.1 44.27,219.73 44.4,216.4 C44.53,213.07 44.27,214.23 45,211.5 C45.73,208.77 44.7,209.63 46.6,208.2 Z"/></clipPath>
<g clip-path="url(#cm1)">
<ellipse cx="58" cy="285" rx="13" ry="15" fill="#3c3d42" filter="url(#soft)" opacity="0.8"/>
<ellipse cx="46" cy="272" rx="3" ry="14" fill="#45464b" filter="url(#soft)" opacity="0.7"/>
<ellipse cx="66" cy="246" rx="6" ry="14" fill="#0a0a0a" filter="url(#soft)" opacity="0.75"/>
<ellipse cx="58" cy="214" rx="5" ry="4" fill="#303034" filter="url(#soft)" opacity="0.7"/>
<ellipse cx="80" cy="275" rx="3" ry="20" fill="#2c2d31" filter="url(#soft)" opacity="0.7"/>
<rect x="36" y="205" width="52" height="112" filter="url(#furtex)" opacity="0.5"/>
</g>
<path d="M48.5,228.5 C50.5,226.6 54,227 56.4,229 C57.4,231.5 56,235 53.5,237.3 C51,238.6 48.8,237.2 48,234.5 C47.6,232 47.6,230 48.5,228.5 Z" fill="#8f8268" filter="url(#soft1)"/>
<ellipse cx="51" cy="215.5" rx="1.2" ry="1" fill="#4a4a48"/>
<g filter="url(#soft1)">
<ellipse cx="140.8" cy="217.8" rx="5.6" ry="5.2" fill="#c8ad9c"/>
<ellipse cx="141.4" cy="218.2" rx="3.4" ry="3" fill="#b0958a"/>
<ellipse cx="105.6" cy="221.5" rx="2.6" ry="3.4" fill="#8d7a72" transform="rotate(25 105.6 221.5)"/>
<path d="M97.5,305 C95.5,307 94,309.5 93.4,312 M99,306.5 C97.5,309 97,311 96.6,313.5" stroke="#c9a595" stroke-width="1.6" fill="none" stroke-linecap="round"/>
<path d="M118.4,317 C118.8,320 119.2,323 119.4,325.2 L122,325.2 C122,322 121.8,319.5 121.4,317 Z" fill="#a8907d"/>
</g>
<path d="M116.1,211.2 C120.43,210.07 118.23,209.83 123,210.2 C127.77,210.57 126.73,210.2 130.4,212.3 C134.07,214.4 131.97,213.1 134,216.5 C136.03,219.9 134.57,218.83 136.5,222.5 C138.43,226.17 137.77,224.1 139.8,227.5 C141.83,230.9 140.9,227.87 142.6,232.7 C144.3,237.53 143.53,235.87 144.9,242 C146.27,248.13 145.6,244.77 146.7,251.1 C147.8,257.43 147.37,254.2 148.2,261 C149.03,267.8 148.83,264.83 149.2,271.5 C149.57,278.17 149.43,274.87 149.3,281 C149.17,287.13 149.5,284.07 148.8,289.9 C148.1,295.73 148.57,293.03 147.2,298.5 C145.83,303.97 147.1,301.8 144.7,306.3 C142.3,310.8 143.4,308.6 140,312 C136.6,315.4 138.83,314.17 134.5,316.5 C130.17,318.83 131.5,317.97 127,319 C122.5,320.03 124.63,319.77 121,319.6 C117.37,319.43 119.57,319.77 116.1,318.5 C112.63,317.23 114.03,317.83 110.6,315.8 C107.17,313.77 109.17,315 105.8,312.4 C102.43,309.8 103.57,311.4 100.5,308 C97.43,304.6 98.63,306.2 96.6,302.2 C94.57,298.2 95.4,300.1 94.4,296 C93.4,291.9 93.83,295.07 93.6,289.9 C93.37,284.73 93.37,286.63 93.7,280.5 C94.03,274.37 93.87,278 94.6,271.5 C95.33,265 94.87,267.8 95.9,261 C96.93,254.2 96.47,257.6 97.7,251.1 C98.93,244.6 98.23,247.63 99.6,241.5 C100.97,235.37 100.5,238.2 101.8,232.7 C103.1,227.2 102.17,229.77 103.5,225 C104.83,220.23 103.63,222.2 105.8,218.4 C107.97,214.6 106.57,216 110,213.6 C113.43,211.2 111.77,212.33 116.1,211.2 Z" fill="#0b0b0c" filter="url(#fur)"/>
<clipPath id="cm2"><path d="M116.1,211.2 C120.43,210.07 118.23,209.83 123,210.2 C127.77,210.57 126.73,210.2 130.4,212.3 C134.07,214.4 131.97,213.1 134,216.5 C136.03,219.9 134.57,218.83 136.5,222.5 C138.43,226.17 137.77,224.1 139.8,227.5 C141.83,230.9 140.9,227.87 142.6,232.7 C144.3,237.53 143.53,235.87 144.9,242 C146.27,248.13 145.6,244.77 146.7,251.1 C147.8,257.43 147.37,254.2 148.2,261 C149.03,267.8 148.83,264.83 149.2,271.5 C149.57,278.17 149.43,274.87 149.3,281 C149.17,287.13 149.5,284.07 148.8,289.9 C148.1,295.73 148.57,293.03 147.2,298.5 C145.83,303.97 147.1,301.8 144.7,306.3 C142.3,310.8 143.4,308.6 140,312 C136.6,315.4 138.83,314.17 134.5,316.5 C130.17,318.83 131.5,317.97 127,319 C122.5,320.03 124.63,319.77 121,319.6 C117.37,319.43 119.57,319.77 116.1,318.5 C112.63,317.23 114.03,317.83 110.6,315.8 C107.17,313.77 109.17,315 105.8,312.4 C102.43,309.8 103.57,311.4 100.5,308 C97.43,304.6 98.63,306.2 96.6,302.2 C94.57,298.2 95.4,300.1 94.4,296 C93.4,291.9 93.83,295.07 93.6,289.9 C93.37,284.73 93.37,286.63 93.7,280.5 C94.03,274.37 93.87,278 94.6,271.5 C95.33,265 94.87,267.8 95.9,261 C96.93,254.2 96.47,257.6 97.7,251.1 C98.93,244.6 98.23,247.63 99.6,241.5 C100.97,235.37 100.5,238.2 101.8,232.7 C103.1,227.2 102.17,229.77 103.5,225 C104.83,220.23 103.63,222.2 105.8,218.4 C107.97,214.6 106.57,216 110,213.6 C113.43,211.2 111.77,212.33 116.1,211.2 Z"/></clipPath>
<g clip-path="url(#cm2)">
<ellipse cx="100" cy="280" rx="4" ry="26" fill="#303136" filter="url(#soft)" opacity="0.8"/>
<ellipse cx="144" cy="282" rx="4" ry="26" fill="#303136" filter="url(#soft)" opacity="0.8"/>
<ellipse cx="120" cy="219" rx="9" ry="4" fill="#34353a" filter="url(#soft)" opacity="0.7"/>
<ellipse cx="112" cy="300" rx="9" ry="8" fill="#222327" filter="url(#soft)" opacity="0.7"/>
<rect x="92" y="208" width="60" height="113" filter="url(#furtex)" opacity="0.32"/>
<ellipse cx="122" cy="262" rx="13" ry="40" fill="#020202" filter="url(#soft)" opacity="0.85"/>
</g>
<path d="M127.8,246 C127.4,256 126,268 125.4,282 C125.2,286 125.6,289 126,291" stroke="#cfcfcf" stroke-width="0.9" fill="none" filter="url(#soft1)" opacity="0.75"/>
<path d="M124,226 C126,223.5 128,223 130,224.5" stroke="#9b9b9b" stroke-width="1" fill="none" filter="url(#soft1)"/>
<g fill="#dcdcdc" filter="url(#soft1)">
<circle cx="128.6" cy="281.5" r="0.8" fill="#dcdcdc"/>
<circle cx="130.5" cy="286" r="0.7" fill="#dcdcdc"/>
<circle cx="127.5" cy="290" r="0.6" fill="#dcdcdc"/>
<circle cx="131.6" cy="292.5" r="0.7" fill="#dcdcdc"/>
<circle cx="129.5" cy="297" r="0.6" fill="#dcdcdc"/>
<circle cx="133" cy="283" r="0.5" fill="#dcdcdc"/>
<circle cx="126.4" cy="276" r="0.5" fill="#dcdcdc"/>
<circle cx="131" cy="301" r="0.5" fill="#dcdcdc"/>
</g>
</g>
</g>
<g id="panel-e">
<text x="166.6" y="206.6" font-size="24.8" font-weight="bold" fill="#000" text-anchor="start" textLength="12.9" lengthAdjust="spacingAndGlyphs" stroke="#000" stroke-width="0.55" stroke-linejoin="round">E</text>
<line x1="202.7" y1="201.2" x2="202.7" y2="332" stroke="#000" stroke-width="1.4"/>
<line x1="197.3" y1="201.9" x2="202.7" y2="201.9" stroke="#000" stroke-width="1.19"/>
<text x="0" y="0" font-size="10.7" font-weight="bold" fill="#000" text-anchor="end" transform="translate(195.8 205.75) scale(0.92 1)" stroke="#000" stroke-width="0.22">55</text>
<line x1="197.3" y1="223.47" x2="202.7" y2="223.47" stroke="#000" stroke-width="1.19"/>
<text x="0" y="0" font-size="10.7" font-weight="bold" fill="#000" text-anchor="end" transform="translate(195.8 227.32) scale(0.92 1)" stroke="#000" stroke-width="0.22">50</text>
<line x1="197.3" y1="245.04" x2="202.7" y2="245.04" stroke="#000" stroke-width="1.19"/>
<text x="0" y="0" font-size="10.7" font-weight="bold" fill="#000" text-anchor="end" transform="translate(195.8 248.89) scale(0.92 1)" stroke="#000" stroke-width="0.22">45</text>
<line x1="197.3" y1="266.61" x2="202.7" y2="266.61" stroke="#000" stroke-width="1.19"/>
<text x="0" y="0" font-size="10.7" font-weight="bold" fill="#000" text-anchor="end" transform="translate(195.8 270.46) scale(0.92 1)" stroke="#000" stroke-width="0.22">40</text>
<line x1="197.3" y1="288.18" x2="202.7" y2="288.18" stroke="#000" stroke-width="1.19"/>
<text x="0" y="0" font-size="10.7" font-weight="bold" fill="#000" text-anchor="end" transform="translate(195.8 292.03) scale(0.92 1)" stroke="#000" stroke-width="0.22">35</text>
<line x1="197.3" y1="309.75" x2="202.7" y2="309.75" stroke="#000" stroke-width="1.19"/>
<text x="0" y="0" font-size="10.7" font-weight="bold" fill="#000" text-anchor="end" transform="translate(195.8 313.6) scale(0.92 1)" stroke="#000" stroke-width="0.22">30</text>
<line x1="197.3" y1="331.32" x2="202.7" y2="331.32" stroke="#000" stroke-width="1.19"/>
<text x="0" y="0" font-size="10.7" font-weight="bold" fill="#000" text-anchor="end" transform="translate(195.8 335.17) scale(0.92 1)" stroke="#000" stroke-width="0.22">25</text>
<line x1="202.1" y1="331.3" x2="397.2" y2="331.3" stroke="#000" stroke-width="1.4"/>
<line x1="202.75" y1="331.3" x2="202.75" y2="336.5" stroke="#000" stroke-width="1.19"/>
<text x="0" y="0" font-size="10.7" font-weight="bold" fill="#000" text-anchor="middle" transform="translate(202.75 347.2) scale(0.92 1)" stroke="#000" stroke-width="0.22">-10</text>
<line x1="241.5" y1="331.3" x2="241.5" y2="336.5" stroke="#000" stroke-width="1.19"/>
<text x="0" y="0" font-size="10.7" font-weight="bold" fill="#000" text-anchor="middle" transform="translate(241.5 347.2) scale(0.92 1)" stroke="#000" stroke-width="0.22">-5</text>
<line x1="280.25" y1="331.3" x2="280.25" y2="336.5" stroke="#000" stroke-width="1.19"/>
<text x="0" y="0" font-size="10.7" font-weight="bold" fill="#000" text-anchor="middle" transform="translate(280.25 347.2) scale(0.92 1)" stroke="#000" stroke-width="0.22">0</text>
<line x1="319" y1="331.3" x2="319" y2="336.5" stroke="#000" stroke-width="1.19"/>
<text x="0" y="0" font-size="10.7" font-weight="bold" fill="#000" text-anchor="middle" transform="translate(319 347.2) scale(0.92 1)" stroke="#000" stroke-width="0.22">5</text>
<line x1="357.75" y1="331.3" x2="357.75" y2="336.5" stroke="#000" stroke-width="1.19"/>
<text x="0" y="0" font-size="10.7" font-weight="bold" fill="#000" text-anchor="middle" transform="translate(357.75 347.2) scale(0.92 1)" stroke="#000" stroke-width="0.22">10</text>
<line x1="396.5" y1="331.3" x2="396.5" y2="336.5" stroke="#000" stroke-width="1.19"/>
<text x="0" y="0" font-size="10.7" font-weight="bold" fill="#000" text-anchor="middle" transform="translate(396.5 347.2) scale(0.92 1)" stroke="#000" stroke-width="0.22">15</text>
<text x="178" y="266.5" font-size="12.1" font-weight="bold" fill="#000" text-anchor="middle" transform="rotate(-90 178 266.5)" textLength="95" lengthAdjust="spacingAndGlyphs" stroke="#000" stroke-width="0.22">Body Weight (g)</text>
<text y="363.9" font-size="12.2" font-weight="bold" stroke="#000" stroke-width="0.22"><tspan x="269.4" textLength="26" lengthAdjust="spacingAndGlyphs">Time</tspan><tspan x="291.44">（</tspan><tspan x="303.4" textLength="19.8" lengthAdjust="spacingAndGlyphs">day</tspan><tspan x="325.22">）</tspan></text>
<polyline points="202.75,248.92 210.5,242.88 218.25,248.06 226,242.45 233.75,241.59 241.5,240.73 249.25,238.57 257,232.1 264.75,229.94 272.5,236.41 280.25,242.45 288,242.88 295.75,240.73 303.5,231.67 311.25,230.8 319,236.84 326.75,237.71 334.5,235.98 342.25,238.14 350,239 357.75,237.71 365.5,239.86 373.25,241.16 381,235.98 388.75,243.75 396.5,247.2" fill="none" stroke="#000" stroke-width="1.4"/>
<path d="M202.75,243.31 V254.53 M200.05,243.31 H205.45 M200.05,254.53 H205.45" stroke="#000" stroke-width="1.2" fill="none"/>
<rect x="200.35" y="246.52" width="4.8" height="4.8" fill="#000" stroke="none" stroke-width="1"/>
<path d="M210.5,240.29 V245.47 M207.8,240.29 H213.2 M207.8,245.47 H213.2" stroke="#000" stroke-width="1.2" fill="none"/>
<rect x="208.1" y="240.48" width="4.8" height="4.8" fill="#000" stroke="none" stroke-width="1"/>
<path d="M218.25,246.33 V249.79 M215.55,246.33 H220.95 M215.55,249.79 H220.95" stroke="#000" stroke-width="1.2" fill="none"/>
<rect x="215.85" y="245.66" width="4.8" height="4.8" fill="#000" stroke="none" stroke-width="1"/>
<path d="M226,239.43 V245.47 M223.3,239.43 H228.7 M223.3,245.47 H228.7" stroke="#000" stroke-width="1.2" fill="none"/>
<rect x="223.6" y="240.05" width="4.8" height="4.8" fill="#000" stroke="none" stroke-width="1"/>
<path d="M233.75,239.86 V243.31 M231.05,239.86 H236.45 M231.05,243.31 H236.45" stroke="#000" stroke-width="1.2" fill="none"/>
<rect x="231.35" y="239.19" width="4.8" height="4.8" fill="#000" stroke="none" stroke-width="1"/>
<path d="M241.5,238.14 V243.31 M238.8,238.14 H244.2 M238.8,243.31 H244.2" stroke="#000" stroke-width="1.2" fill="none"/>
<rect x="239.1" y="238.33" width="4.8" height="4.8" fill="#000" stroke="none" stroke-width="1"/>
<path d="M249.25,234.69 V242.45 M246.55,234.69 H251.95 M246.55,242.45 H251.95" stroke="#000" stroke-width="1.2" fill="none"/>
<rect x="246.85" y="236.17" width="4.8" height="4.8" fill="#000" stroke="none" stroke-width="1"/>
<path d="M257,227.78 V236.41 M254.3,227.78 H259.7 M254.3,236.41 H259.7" stroke="#000" stroke-width="1.2" fill="none"/>
<rect x="254.6" y="229.7" width="4.8" height="4.8" fill="#000" stroke="none" stroke-width="1"/>
<path d="M264.75,226.92 V232.96 M262.05,226.92 H267.45 M262.05,232.96 H267.45" stroke="#000" stroke-width="1.2" fill="none"/>
<rect x="262.35" y="227.54" width="4.8" height="4.8" fill="#000" stroke="none" stroke-width="1"/>
<path d="M272.5,228.65 V244.18 M269.8,228.65 H275.2 M269.8,244.18 H275.2" stroke="#000" stroke-width="1.2" fill="none"/>
<rect x="270.1" y="234.01" width="4.8" height="4.8" fill="#000" stroke="none" stroke-width="1"/>
<path d="M280.25,235.55 V249.35 M277.55,235.55 H282.95 M277.55,249.35 H282.95" stroke="#000" stroke-width="1.2" fill="none"/>
<rect x="277.85" y="240.05" width="4.8" height="4.8" fill="#000" stroke="none" stroke-width="1"/>
<path d="M288,238.57 V247.2 M285.3,238.57 H290.7 M285.3,247.2 H290.7" stroke="#000" stroke-width="1.2" fill="none"/>
<rect x="285.6" y="240.48" width="4.8" height="4.8" fill="#000" stroke="none" stroke-width="1"/>
<path d="M295.75,233.39 V248.06 M293.05,233.39 H298.45 M293.05,248.06 H298.45" stroke="#000" stroke-width="1.2" fill="none"/>
<rect x="293.35" y="238.33" width="4.8" height="4.8" fill="#000" stroke="none" stroke-width="1"/>
<path d="M303.5,226.06 V237.27 M300.8,226.06 H306.2 M300.8,237.27 H306.2" stroke="#000" stroke-width="1.2" fill="none"/>
<rect x="301.1" y="229.27" width="4.8" height="4.8" fill="#000" stroke="none" stroke-width="1"/>
<path d="M311.25,223.04 V238.57 M308.55,223.04 H313.95 M308.55,238.57 H313.95" stroke="#000" stroke-width="1.2" fill="none"/>
<rect x="308.85" y="228.4" width="4.8" height="4.8" fill="#000" stroke="none" stroke-width="1"/>
<path d="M319,229.08 V244.61 M316.3,229.08 H321.7 M316.3,244.61 H321.7" stroke="#000" stroke-width="1.2" fill="none"/>
<rect x="316.6" y="234.44" width="4.8" height="4.8" fill="#000" stroke="none" stroke-width="1"/>
<path d="M326.75,232.53 V242.88 M324.05,232.53 H329.45 M324.05,242.88 H329.45" stroke="#000" stroke-width="1.2" fill="none"/>
<rect x="324.35" y="235.31" width="4.8" height="4.8" fill="#000" stroke="none" stroke-width="1"/>
<path d="M334.5,231.67 V240.29 M331.8,231.67 H337.2 M331.8,240.29 H337.2" stroke="#000" stroke-width="1.2" fill="none"/>
<rect x="332.1" y="233.58" width="4.8" height="4.8" fill="#000" stroke="none" stroke-width="1"/>
<path d="M342.25,233.39 V242.88 M339.55,233.39 H344.95 M339.55,242.88 H344.95" stroke="#000" stroke-width="1.2" fill="none"/>
<rect x="339.85" y="235.74" width="4.8" height="4.8" fill="#000" stroke="none" stroke-width="1"/>
<path d="M350,235.55 V242.45 M347.3,235.55 H352.7 M347.3,242.45 H352.7" stroke="#000" stroke-width="1.2" fill="none"/>
<rect x="347.6" y="236.6" width="4.8" height="4.8" fill="#000" stroke="none" stroke-width="1"/>
<path d="M357.75,233.82 V241.59 M355.05,233.82 H360.45 M355.05,241.59 H360.45" stroke="#000" stroke-width="1.2" fill="none"/>
<rect x="355.35" y="235.31" width="4.8" height="4.8" fill="#000" stroke="none" stroke-width="1"/>
<path d="M365.5,232.96 V246.77 M362.8,232.96 H368.2 M362.8,246.77 H368.2" stroke="#000" stroke-width="1.2" fill="none"/>
<rect x="363.1" y="237.46" width="4.8" height="4.8" fill="#000" stroke="none" stroke-width="1"/>
<path d="M373.25,235.55 V246.77 M370.55,235.55 H375.95 M370.55,246.77 H375.95" stroke="#000" stroke-width="1.2" fill="none"/>
<rect x="370.85" y="238.76" width="4.8" height="4.8" fill="#000" stroke="none" stroke-width="1"/>
<path d="M381,230.37 V241.59 M378.3,230.37 H383.7 M378.3,241.59 H383.7" stroke="#000" stroke-width="1.2" fill="none"/>
<rect x="378.6" y="233.58" width="4.8" height="4.8" fill="#000" stroke="none" stroke-width="1"/>
<path d="M388.75,239.43 V248.06 M386.05,239.43 H391.45 M386.05,248.06 H391.45" stroke="#000" stroke-width="1.2" fill="none"/>
<rect x="386.35" y="241.35" width="4.8" height="4.8" fill="#000" stroke="none" stroke-width="1"/>
<path d="M396.5,242.88 V251.51 M393.8,242.88 H399.2 M393.8,251.51 H399.2" stroke="#000" stroke-width="1.2" fill="none"/>
<rect x="394.1" y="244.8" width="4.8" height="4.8" fill="#000" stroke="none" stroke-width="1"/>
<polyline points="202.75,249.79 210.5,251.51 218.25,256.26 226,253.67 233.75,252.81 241.5,247.63 249.25,242.02 257,236.84 264.75,237.71 272.5,239 280.25,238.57 288,249.35 295.75,259.28 303.5,271.36 311.25,267.47 319,272.22 326.75,276.53 334.5,266.18 342.25,267.04 350,268.77 357.75,276.53 365.5,272.22 373.25,285.16 381,284.73 388.75,286.89 396.5,284.73" fill="none" stroke="#ff2a1a" stroke-width="1.4"/>
<path d="M202.75,243.75 V255.83 M200.05,243.75 H205.45 M200.05,255.83 H205.45" stroke="#ff2a1a" stroke-width="1.2" fill="none"/>
<circle cx="202.75" cy="249.79" r="2.5" fill="#ff2a1a"/>
<path d="M210.5,245.9 V257.12 M207.8,245.9 H213.2 M207.8,257.12 H213.2" stroke="#ff2a1a" stroke-width="1.2" fill="none"/>
<circle cx="210.5" cy="251.51" r="2.5" fill="#ff2a1a"/>
<path d="M218.25,252.37 V260.14 M215.55,252.37 H220.95 M215.55,260.14 H220.95" stroke="#ff2a1a" stroke-width="1.2" fill="none"/>
<circle cx="218.25" cy="256.26" r="2.5" fill="#ff2a1a"/>
<path d="M226,249.35 V257.98 M223.3,249.35 H228.7 M223.3,257.98 H228.7" stroke="#ff2a1a" stroke-width="1.2" fill="none"/>
<circle cx="226" cy="253.67" r="2.5" fill="#ff2a1a"/>
<path d="M233.75,247.63 V257.98 M231.05,247.63 H236.45 M231.05,257.98 H236.45" stroke="#ff2a1a" stroke-width="1.2" fill="none"/>
<circle cx="233.75" cy="252.81" r="2.5" fill="#ff2a1a"/>
<path d="M241.5,241.59 V253.67 M238.8,241.59 H244.2 M238.8,253.67 H244.2" stroke="#ff2a1a" stroke-width="1.2" fill="none"/>
<circle cx="241.5" cy="247.63" r="2.5" fill="#ff2a1a"/>
<path d="M249.25,237.27 V246.77 M246.55,237.27 H251.95 M246.55,246.77 H251.95" stroke="#ff2a1a" stroke-width="1.2" fill="none"/>
<circle cx="249.25" cy="242.02" r="2.5" fill="#ff2a1a"/>
<path d="M257,232.53 V241.16 M254.3,232.53 H259.7 M254.3,241.16 H259.7" stroke="#ff2a1a" stroke-width="1.2" fill="none"/>
<circle cx="257" cy="236.84" r="2.5" fill="#ff2a1a"/>
<path d="M264.75,230.8 V244.61 M262.05,230.8 H267.45 M262.05,244.61 H267.45" stroke="#ff2a1a" stroke-width="1.2" fill="none"/>
<circle cx="264.75" cy="237.71" r="2.5" fill="#ff2a1a"/>
<path d="M272.5,232.1 V245.9 M269.8,232.1 H275.2 M269.8,245.9 H275.2" stroke="#ff2a1a" stroke-width="1.2" fill="none"/>
<circle cx="272.5" cy="239" r="2.5" fill="#ff2a1a"/>
<path d="M280.25,232.1 V245.04 M277.55,232.1 H282.95 M277.55,245.04 H282.95" stroke="#ff2a1a" stroke-width="1.2" fill="none"/>
<circle cx="280.25" cy="238.57" r="2.5" fill="#ff2a1a"/>
<path d="M288,243.31 V255.39 M285.3,243.31 H290.7 M285.3,255.39 H290.7" stroke="#ff2a1a" stroke-width="1.2" fill="none"/>
<circle cx="288" cy="249.35" r="2.5" fill="#ff2a1a"/>
<path d="M295.75,250.65 V267.9 M293.05,250.65 H298.45 M293.05,267.9 H298.45" stroke="#ff2a1a" stroke-width="1.2" fill="none"/>
<circle cx="295.75" cy="259.28" r="2.5" fill="#ff2a1a"/>
<path d="M303.5,263.16 V279.55 M300.8,263.16 H306.2 M300.8,279.55 H306.2" stroke="#ff2a1a" stroke-width="1.2" fill="none"/>
<circle cx="303.5" cy="271.36" r="2.5" fill="#ff2a1a"/>
<path d="M311.25,262.73 V272.22 M308.55,262.73 H313.95 M308.55,272.22 H313.95" stroke="#ff2a1a" stroke-width="1.2" fill="none"/>
<circle cx="311.25" cy="267.47" r="2.5" fill="#ff2a1a"/>
<path d="M319,267.47 V276.96 M316.3,267.47 H321.7 M316.3,276.96 H321.7" stroke="#ff2a1a" stroke-width="1.2" fill="none"/>
<circle cx="319" cy="272.22" r="2.5" fill="#ff2a1a"/>
<path d="M326.75,271.79 V281.28 M324.05,271.79 H329.45 M324.05,281.28 H329.45" stroke="#ff2a1a" stroke-width="1.2" fill="none"/>
<circle cx="326.75" cy="276.53" r="2.5" fill="#ff2a1a"/>
<path d="M334.5,258.84 V273.51 M331.8,258.84 H337.2 M331.8,273.51 H337.2" stroke="#ff2a1a" stroke-width="1.2" fill="none"/>
<circle cx="334.5" cy="266.18" r="2.5" fill="#ff2a1a"/>
<path d="M342.25,261.86 V272.22 M339.55,261.86 H344.95 M339.55,272.22 H344.95" stroke="#ff2a1a" stroke-width="1.2" fill="none"/>
<circle cx="342.25" cy="267.04" r="2.5" fill="#ff2a1a"/>
<path d="M350,261 V276.53 M347.3,261 H352.7 M347.3,276.53 H352.7" stroke="#ff2a1a" stroke-width="1.2" fill="none"/>
<circle cx="350" cy="268.77" r="2.5" fill="#ff2a1a"/>
<path d="M357.75,267.47 V285.59 M355.05,267.47 H360.45 M355.05,285.59 H360.45" stroke="#ff2a1a" stroke-width="1.2" fill="none"/>
<circle cx="357.75" cy="276.53" r="2.5" fill="#ff2a1a"/>
<path d="M365.5,262.73 V281.71 M362.8,262.73 H368.2 M362.8,281.71 H368.2" stroke="#ff2a1a" stroke-width="1.2" fill="none"/>
<circle cx="365.5" cy="272.22" r="2.5" fill="#ff2a1a"/>
<path d="M373.25,277.83 V292.49 M370.55,277.83 H375.95 M370.55,292.49 H375.95" stroke="#ff2a1a" stroke-width="1.2" fill="none"/>
<circle cx="373.25" cy="285.16" r="2.5" fill="#ff2a1a"/>
<path d="M381,275.24 V294.22 M378.3,275.24 H383.7 M378.3,294.22 H383.7" stroke="#ff2a1a" stroke-width="1.2" fill="none"/>
<circle cx="381" cy="284.73" r="2.5" fill="#ff2a1a"/>
<path d="M388.75,280.41 V293.36 M386.05,280.41 H391.45 M386.05,293.36 H391.45" stroke="#ff2a1a" stroke-width="1.2" fill="none"/>
<circle cx="388.75" cy="286.89" r="2.5" fill="#ff2a1a"/>
<path d="M396.5,274.38 V295.08 M393.8,274.38 H399.2 M393.8,295.08 H399.2" stroke="#ff2a1a" stroke-width="1.2" fill="none"/>
<circle cx="396.5" cy="284.73" r="2.5" fill="#ff2a1a"/>
<line x1="207" y1="197.5" x2="220.2" y2="197.5" stroke="#ff2a1a" stroke-width="1.4"/>
<circle cx="213.6" cy="197.5" r="2.5" fill="#ff2a1a"/>
<line x1="207" y1="213.9" x2="220.2" y2="213.9" stroke="#000" stroke-width="1.4"/>
<rect x="211.2" y="211.5" width="4.8" height="4.8" fill="#000" stroke="none" stroke-width="1"/>
<text x="228.5" y="202.6" font-size="11.4" font-weight="bold" fill="#000" text-anchor="start" textLength="22.6" lengthAdjust="spacingAndGlyphs" stroke="#000" stroke-width="0.22">PVN</text>
<text x="253.6" y="197.2" font-size="8.4" font-weight="bold" fill="#000" text-anchor="start" textLength="30.6" lengthAdjust="spacingAndGlyphs" stroke="#000" stroke-width="0.22">VGlut2</text>
<text x="280.8" y="203.49" font-size="20.52" font-weight="normal" fill="#3a3a3a" text-anchor="start">→</text>
<text x="297.7" y="202.6" font-size="11.4" font-weight="bold" fill="#000" text-anchor="start" textLength="53.6" lengthAdjust="spacingAndGlyphs" stroke="#000" stroke-width="0.22">LC:hM3D</text>
<text x="228.5" y="219.9" font-size="11.4" font-weight="bold" fill="#000" text-anchor="start" textLength="22.6" lengthAdjust="spacingAndGlyphs" stroke="#000" stroke-width="0.22">PVN</text>
<text x="253.6" y="214.5" font-size="8.4" font-weight="bold" fill="#000" text-anchor="start" textLength="30.6" lengthAdjust="spacingAndGlyphs" stroke="#000" stroke-width="0.22">VGlut2</text>
<text x="280.8" y="220.79" font-size="20.52" font-weight="normal" fill="#3a3a3a" text-anchor="start">→</text>
<text x="297.7" y="219.9" font-size="11.4" font-weight="bold" fill="#000" text-anchor="start" textLength="70.5" lengthAdjust="spacingAndGlyphs" stroke="#000" stroke-width="0.22">LC:mCherry</text>
<line x1="404" y1="245.3" x2="404" y2="287.6" stroke="#000" stroke-width="2.1"/>
<text x="412.3" y="257.6" font-size="17" font-weight="bold" fill="#000" text-anchor="middle" stroke="#000" stroke-width="0.3">*</text>
<text x="412.3" y="270.3" font-size="17" font-weight="bold" fill="#000" text-anchor="middle" stroke="#000" stroke-width="0.3">*</text>
<text x="412.3" y="282.8" font-size="17" font-weight="bold" fill="#000" text-anchor="middle" stroke="#000" stroke-width="0.3">*</text>
<text x="412.3" y="295.3" font-size="17" font-weight="bold" fill="#000" text-anchor="middle" stroke="#000" stroke-width="0.3">*</text>
</g>
<g id="panel-f">
<text x="420.8" y="206.3" font-size="25" font-weight="bold" fill="#000" text-anchor="start" textLength="13" lengthAdjust="spacingAndGlyphs" stroke="#000" stroke-width="0.55" stroke-linejoin="round">F</text>
<line x1="471.4" y1="201.2" x2="471.4" y2="332.4" stroke="#000" stroke-width="1.4"/>
<line x1="466" y1="201.9" x2="471.4" y2="201.9" stroke="#000" stroke-width="1.19"/>
<text x="0" y="0" font-size="10.7" font-weight="bold" fill="#000" text-anchor="end" transform="translate(464.5 205.75) scale(0.92 1)" stroke="#000" stroke-width="0.22">40</text>
<line x1="466" y1="220.44" x2="471.4" y2="220.44" stroke="#000" stroke-width="1.19"/>
<text x="0" y="0" font-size="10.7" font-weight="bold" fill="#000" text-anchor="end" transform="translate(464.5 224.29) scale(0.92 1)" stroke="#000" stroke-width="0.22">39</text>
<line x1="466" y1="238.98" x2="471.4" y2="238.98" stroke="#000" stroke-width="1.19"/>
<text x="0" y="0" font-size="10.7" font-weight="bold" fill="#000" text-anchor="end" transform="translate(464.5 242.83) scale(0.92 1)" stroke="#000" stroke-width="0.22">38</text>
<line x1="466" y1="257.52" x2="471.4" y2="257.52" stroke="#000" stroke-width="1.19"/>
<text x="0" y="0" font-size="10.7" font-weight="bold" fill="#000" text-anchor="end" transform="translate(464.5 261.37) scale(0.92 1)" stroke="#000" stroke-width="0.22">37</text>
<line x1="466" y1="276.06" x2="471.4" y2="276.06" stroke="#000" stroke-width="1.19"/>
<text x="0" y="0" font-size="10.7" font-weight="bold" fill="#000" text-anchor="end" transform="translate(464.5 279.91) scale(0.92 1)" stroke="#000" stroke-width="0.22">36</text>
<line x1="466" y1="294.6" x2="471.4" y2="294.6" stroke="#000" stroke-width="1.19"/>
<text x="0" y="0" font-size="10.7" font-weight="bold" fill="#000" text-anchor="end" transform="translate(464.5 298.45) scale(0.92 1)" stroke="#000" stroke-width="0.22">35</text>
<line x1="466" y1="313.14" x2="471.4" y2="313.14" stroke="#000" stroke-width="1.19"/>
<text x="0" y="0" font-size="10.7" font-weight="bold" fill="#000" text-anchor="end" transform="translate(464.5 316.99) scale(0.92 1)" stroke="#000" stroke-width="0.22">34</text>
<line x1="466" y1="331.68" x2="471.4" y2="331.68" stroke="#000" stroke-width="1.19"/>
<text x="0" y="0" font-size="10.7" font-weight="bold" fill="#000" text-anchor="end" transform="translate(464.5 335.53) scale(0.92 1)" stroke="#000" stroke-width="0.22">33</text>
<line x1="470.8" y1="331.7" x2="667.1" y2="331.7" stroke="#000" stroke-width="1.4"/>
<line x1="471.4" y1="331.7" x2="471.4" y2="336.9" stroke="#000" stroke-width="1.19"/>
<text x="0" y="0" font-size="10.7" font-weight="bold" fill="#000" text-anchor="middle" transform="translate(471.4 347.6) scale(0.92 1)" stroke="#000" stroke-width="0.22">-120</text>
<line x1="503.9" y1="331.7" x2="503.9" y2="336.9" stroke="#000" stroke-width="1.19"/>
<text x="0" y="0" font-size="10.7" font-weight="bold" fill="#000" text-anchor="middle" transform="translate(503.9 347.6) scale(0.92 1)" stroke="#000" stroke-width="0.22">-80</text>
<line x1="536.4" y1="331.7" x2="536.4" y2="336.9" stroke="#000" stroke-width="1.19"/>
<text x="0" y="0" font-size="10.7" font-weight="bold" fill="#000" text-anchor="middle" transform="translate(536.4 347.6) scale(0.92 1)" stroke="#000" stroke-width="0.22">-40</text>
<line x1="568.9" y1="331.7" x2="568.9" y2="336.9" stroke="#000" stroke-width="1.19"/>
<text x="0" y="0" font-size="10.7" font-weight="bold" fill="#000" text-anchor="middle" transform="translate(568.9 347.6) scale(0.92 1)" stroke="#000" stroke-width="0.22">0</text>
<line x1="601.4" y1="331.7" x2="601.4" y2="336.9" stroke="#000" stroke-width="1.19"/>
<text x="0" y="0" font-size="10.7" font-weight="bold" fill="#000" text-anchor="middle" transform="translate(601.4 347.6) scale(0.92 1)" stroke="#000" stroke-width="0.22">40</text>
<line x1="633.9" y1="331.7" x2="633.9" y2="336.9" stroke="#000" stroke-width="1.19"/>
<text x="0" y="0" font-size="10.7" font-weight="bold" fill="#000" text-anchor="middle" transform="translate(633.9 347.6) scale(0.92 1)" stroke="#000" stroke-width="0.22">80</text>
<line x1="666.4" y1="331.7" x2="666.4" y2="336.9" stroke="#000" stroke-width="1.19"/>
<text x="0" y="0" font-size="10.7" font-weight="bold" fill="#000" text-anchor="middle" transform="translate(666.4 347.6) scale(0.92 1)" stroke="#000" stroke-width="0.22">120</text>
<text x="446" y="267.4" font-size="12.2" font-weight="bold" fill="#000" text-anchor="middle" transform="rotate(-90 446 267.4)" textLength="101" lengthAdjust="spacingAndGlyphs" stroke="#000" stroke-width="0.22">Temperature (℃)</text>
<text x="569" y="365.6" font-size="12.2" font-weight="bold" fill="#000" text-anchor="middle" textLength="62" lengthAdjust="spacingAndGlyphs" stroke="#000" stroke-width="0.22">Time (min)</text>
<polyline points="471.4,287.24 472.21,285.96 473.02,287.19 473.84,287.34 474.65,288.37 475.46,287.17 476.27,284.96 477.09,286.11 477.9,285.08 478.71,286.4 479.52,286.15 480.34,286.5 481.15,289.59 481.96,285.39 482.77,285.97 483.59,285.98 484.4,289.64 485.21,289.72 486.02,288.3 486.84,287.59 487.65,286.3 488.46,286.89 489.27,285.94 490.09,287.88 490.9,286.3 491.71,286.16 492.52,287.92 493.34,283.95 494.15,285.88 494.96,284.82 495.77,287.85 496.59,288.05 497.4,287.39 498.21,286.99 499.02,285.76 499.84,286.4 500.65,287.56 501.46,288.41 502.27,287.68 503.09,284.78 503.9,288.16 504.71,286.4 505.52,286.1 506.34,289.3 507.15,286.73 507.96,284.63 508.77,290.17 509.59,287.35 510.4,286.99 511.21,288.18 512.02,285.98 512.84,286.92 513.65,289.26 514.46,285.43 515.27,285.7 516.09,285.23 516.9,284.41 517.71,286.21 518.52,286.61 519.34,288.98 520.15,285.79 520.96,287.83 521.77,287.57 522.59,288.92 523.4,288.43 524.21,287.7 525.02,284.66 525.84,290.2 526.65,289.25 527.46,286.41 528.27,284.4 529.09,285.85 529.9,289.98 530.71,291.02 531.52,286.22 532.34,288.04 533.15,288.68 533.96,285.18 534.77,284.97 535.59,286.55 536.4,286.4 537.21,286.09 538.02,284.15 538.84,285.78 539.65,285.95 540.46,285.9 541.27,289.43 542.09,284.67 542.9,285.22 543.71,285.93 544.52,290.11 545.34,287.87 546.15,285.41 546.96,289.84 547.77,287.12 548.59,285.11 549.4,289 550.21,284.13 551.02,285.89 551.84,287.06 552.65,286.27 553.46,285.73 554.27,286.61 555.09,284.9 555.9,287.92 556.71,287.51 557.52,285.08 558.34,286.77 559.15,288.28 559.96,285.23 560.77,284.37 561.59,287.56 562.4,289.12 563.21,287.04 564.02,287.06 564.84,287.31 565.65,284.47 566.46,288.53 567.27,284.71 568.09,288.93 568.9,288.13 569.71,285.76 570.52,284.93 571.34,285.38 572.15,286.24 572.96,286.58 573.77,286.56 574.59,285.85 575.4,287.11 576.21,286.35 577.02,285.86 577.84,286.81 578.65,285.54 579.46,285.87 580.27,283.46 581.09,286.27 581.9,287.53 582.71,287.43 583.52,286.84 584.34,285.27 585.15,287.37 585.96,286.17 586.77,283.75 587.59,291.09 588.4,288.69 589.21,286.41 590.02,286.15 590.84,286.42 591.65,287.53 592.46,285.72 593.27,286.34 594.09,287.57 594.9,282.54 595.71,285.89 596.52,287.29 597.34,286.42 598.15,286.52 598.96,286.14 599.77,290.48 600.59,286.62 601.4,284.02 602.21,287.54 603.02,285.59 603.84,283.78 604.65,283.83 605.46,282.66 606.27,287.87 607.09,285.51 607.9,285.38 608.71,283.66 609.52,282.77 610.34,288.95 611.15,282.55 611.96,286.67 612.77,283 613.59,286.52 614.4,283.63 615.21,281.82 616.02,283.95 616.84,283.27 617.65,282.15 618.46,283.13 619.27,283.4 620.09,280.58 620.9,281.28 621.71,283.41 622.52,278.23 623.34,284.61 624.15,281.06 624.96,282.92 625.77,282.14 626.59,281.08 627.4,281.77 628.21,280.96 629.02,284.47 629.84,284.33 630.65,280.67 631.46,283.19 632.27,283.19 633.09,283.82 633.9,279.14 634.71,279.89 635.52,278.57 636.34,282.48 637.15,280.8 637.96,282.6 638.77,279.31 639.59,277.82 640.4,281.85 641.21,277.65 642.02,278.49 642.84,280.32 643.65,283.21 644.46,277.46 645.27,279.85 646.09,280.59 646.9,278.8 647.71,278.71 648.52,276.9 649.34,281.1 650.15,277.5 650.96,276.92 651.77,276.97 652.59,279.7 653.4,280.64 654.21,277.7 655.02,279.21 655.84,279.19 656.65,277.02 657.46,279.84 658.27,283.23 659.09,280.04 659.9,282.49 660.71,278.03 661.52,278.87 662.34,280.42 663.15,279.41 663.96,278.01 664.77,279.27 665.59,277.18 666.4,279.5" fill="none" stroke="#cc33ff" stroke-width="1.1" stroke-linejoin="round"/>
<polyline points="471.4,283.39 472.21,284.46 473.02,281.92 473.84,282.36 474.65,282.94 475.46,283.74 476.27,282.71 477.09,286.76 477.9,283.67 478.71,281.8 479.52,284.24 480.34,281.32 481.15,281.38 481.96,283.95 482.77,282.15 483.59,282.39 484.4,281.26 485.21,281.2 486.02,282.48 486.84,284.03 487.65,283.03 488.46,283.06 489.27,281.86 490.09,282.7 490.9,284.49 491.71,285.6 492.52,284.01 493.34,284.66 494.15,285.3 494.96,283.65 495.77,284.28 496.59,283.29 497.4,282.6 498.21,284.16 499.02,279.6 499.84,284.01 500.65,281.64 501.46,283.27 502.27,281.61 503.09,287.44 503.9,284.73 504.71,283.06 505.52,282.47 506.34,279.58 507.15,282.94 507.96,281.34 508.77,282.2 509.59,281.9 510.4,282.62 511.21,283.74 512.02,282.63 512.84,285.27 513.65,281.5 514.46,285.17 515.27,283.06 516.09,279.94 516.9,283.85 517.71,283.44 518.52,281.54 519.34,283.43 520.15,284.82 520.96,283.05 521.77,282.5 522.59,282.29 523.4,284.77 524.21,280.55 525.02,280.69 525.84,283.45 526.65,283.03 527.46,284.19 528.27,281.12 529.09,284.65 529.9,282.35 530.71,284.28 531.52,284.63 532.34,282.28 533.15,281.25 533.96,283.49 534.77,284.61 535.59,282.12 536.4,283.56 537.21,282.96 538.02,280.93 538.84,281.59 539.65,284.34 540.46,279.67 541.27,283.47 542.09,282.16 542.9,284.56 543.71,283.55 544.52,286.4 545.34,280.49 546.15,281.2 546.96,285.5 547.77,285.99 548.59,286.18 549.4,281.51 550.21,284.24 551.02,283.58 551.84,284 552.65,283.68 553.46,285.29 554.27,283.44 555.09,285.88 555.9,283.6 556.71,282.96 557.52,282.7 558.34,283.86 559.15,284.98 559.96,283.21 560.77,284.28 561.59,280.86 562.4,282.19 563.21,283.67 564.02,284.26 564.84,284.65 565.65,285.04 566.46,284.06 567.27,282.98 568.09,282.62 568.9,282.53 569.71,279.97 570.52,280.67 571.34,275.48 572.15,266.85 572.96,270.65 573.77,264.42 574.59,259.28 575.4,255.32 576.21,250.91 577.02,248 577.84,243 578.65,243.53 579.46,242.33 580.27,246.77 581.09,245.09 581.9,243.62 582.71,245.34 583.52,245.36 584.34,242.57 585.15,244.7 585.96,242.56 586.77,242.37 587.59,243.1 588.4,242.77 589.21,243.79 590.02,245.97 590.84,243.67 591.65,242.86 592.46,244.5 593.27,243.78 594.09,242.36 594.9,245.08 595.71,242.55 596.52,240.51 597.34,244.54 598.15,243.37 598.96,243.87 599.77,241.04 600.59,243.09 601.4,242.12 602.21,244.77 603.02,243.64 603.84,243.63 604.65,246.58 605.46,241.21 606.27,242.11 607.09,246.53 607.9,242.37 608.71,243.83 609.52,242.87 610.34,243 611.15,246.12 611.96,243.97 612.77,241.12 613.59,244.57 614.4,245.32 615.21,245.88 616.02,245.65 616.84,243.06 617.65,240.79 618.46,242.94 619.27,243.3 620.09,240.03 620.9,244.67 621.71,244.97 622.52,243.01 623.34,243.02 624.15,245.68 624.96,245.98 625.77,243.59 626.59,243.71 627.4,246.35 628.21,244.56 629.02,245.17 629.84,243.54 630.65,244.55 631.46,244.55 632.27,245.04 633.09,242.74 633.9,242.22 634.71,245.2 635.52,243.22 636.34,245.95 637.15,244.61 637.96,243.52 638.77,242.29 639.59,245.5 640.4,245.04 641.21,244.63 642.02,247.51 642.84,245.03 643.65,246.23 644.46,244.52 645.27,247.08 646.09,248.54 646.9,245.22 647.71,244.9 648.52,246.29 649.34,243.94 650.15,245.92 650.96,246.53 651.77,244.76 652.59,248.22 653.4,246.78 654.21,245.74 655.02,244.33 655.84,246.06 656.65,245.33 657.46,246.98 658.27,245.43 659.09,243.2 659.9,247.17 660.71,242.12 661.52,247.19 662.34,246.14 663.15,245.92 663.96,244.55 664.77,248.37 665.59,249.85 666.4,245.38" fill="none" stroke="#33e01a" stroke-width="1.1" stroke-linejoin="round"/>
<polyline points="471.4,286.17 472.21,285.16 473.02,289.04 473.84,289.04 474.65,289.04 475.46,289.04 476.27,289.04 477.09,289.04 477.9,289.04 478.71,289.04 479.52,289.04 480.34,289.04 481.15,289.04 481.96,289.04 482.77,289.04 483.59,289.04 484.4,289.04 485.21,289.04 486.02,289.04 486.84,289.04 487.65,289.04 488.46,289.04 489.27,289.04 490.09,289.04 490.9,289.04 491.71,289.04 492.52,286.72 493.34,288.46 494.15,286.69 494.96,288.11 495.77,291.1 496.59,291.96 497.4,289.9 498.21,286.43 499.02,289.74 499.84,290.49 500.65,290.2 501.46,291.89 502.27,288.74 503.09,291.11 503.9,287.67 504.71,293.73 505.52,287.75 506.34,289.91 507.15,292.8 507.96,286.87 508.77,289.09 509.59,293.44 510.4,290.43 511.21,287.83 512.02,289.5 512.84,286.75 513.65,286.82 514.46,287 515.27,287.76 516.09,285.51 516.9,287.01 517.71,287.48 518.52,293.12 519.34,286.49 520.15,285.57 520.96,289.14 521.77,289.53 522.59,284.17 523.4,292.39 524.21,287.44 525.02,283.09 525.84,290.55 526.65,286.95 527.46,284.28 528.27,288.75 529.09,287.23 529.9,286.47 530.71,290.5 531.52,288.68 532.34,287.83 533.15,286.65 533.96,288.56 534.77,288.92 535.59,290.74 536.4,289.28 537.21,286.5 538.02,288.26 538.84,290.38 539.65,290.35 540.46,282.55 541.27,285.95 542.09,287.06 542.9,294.25 543.71,287.1 544.52,287.41 545.34,284.74 546.15,287.53 546.96,288.63 547.77,287.32 548.59,292.81 549.4,286.18 550.21,287.76 551.02,290.04 551.84,285.53 552.65,284.46 553.46,291.6 554.27,289.96 555.09,287.83 555.9,288.07 556.71,289.37 557.52,290.65 558.34,283.76 559.15,286.17 559.96,291.14 560.77,291.47 561.59,284.69 562.4,286.28 563.21,284.43 564.02,286.68 564.84,290.42 565.65,287.9 566.46,293.29 567.27,290.15 568.09,288.61 568.9,287.32 569.71,290.1 570.52,288.76 571.34,287.46 572.15,280.69 572.96,280.69 573.77,288.02 574.59,289.2 575.4,286.73 576.21,288.37 577.02,290.32 577.84,289.87 578.65,288.48 579.46,288.73 580.27,288.13 581.09,288.48 581.9,288.09 582.71,288.78 583.52,291.28 584.34,287.54 585.15,286.14 585.96,287.51 586.77,288.9 587.59,287.49 588.4,290.63 589.21,292.7 590.02,270.5 590.84,277.91 591.65,286.84 592.46,290.89 593.27,294.33 594.09,290.79 594.9,284.97 595.71,289.33 596.52,291.53 597.34,290.18 598.15,287.32 598.96,287.38 599.77,288.09 600.59,285.18 601.4,286.91 602.21,288.53 603.02,287.15 603.84,284.8 604.65,286.32 605.46,286.2 606.27,290.89 607.09,288.81 607.9,286.86 608.71,289.14 609.52,286.1 610.34,287.16 611.15,286.46 611.96,288.95 612.77,282.82 613.59,285.72 614.4,288.96 615.21,288.28 616.02,282.71 616.84,289.25 617.65,286.54 618.46,286.3 619.27,288.47 620.09,291.08 620.9,288.06 621.71,287.68 622.52,285.97 623.34,286.74 624.15,288.43 624.96,286.58 625.77,287.28 626.59,288.02 627.4,288.36 628.21,289.02 629.02,286.96 629.84,293.67 630.65,289.88 631.46,288.47 632.27,291.74 633.09,293.67 633.9,292.95 634.71,290 635.52,287.22 636.34,287.22 637.15,288.6 637.96,289 638.77,291.63 639.59,284.42 640.4,287.33 641.21,286.05 642.02,290.44 642.84,287.04 643.65,290.68 644.46,284.89 645.27,284.55 646.09,290.85 646.9,286.74 647.71,285.23 648.52,290.55 649.34,290.69 650.15,289 650.96,288.03 651.77,289.75 652.59,286.56 653.4,286.07 654.21,285.22 655.02,285.07 655.84,283.28 656.65,284.04 657.46,289.55 658.27,289.61 659.09,290.84 659.9,290.88 660.71,288.66 661.52,288.47 662.34,287.39 663.15,292.01 663.96,291.24 664.77,288.53 665.59,288.93 666.4,289.17" fill="none" stroke="#1414ff" stroke-width="1.1" stroke-linejoin="round"/>
<polyline points="471.4,285.33 472.21,283.11 473.02,285.33 473.84,281.54 474.65,281.01 475.46,278.51 476.27,279.14 477.09,274.26 477.9,280.72 478.71,276.49 479.52,283.18 480.34,269.73 481.15,271.91 481.96,267.89 482.77,264.8 483.59,271.75 484.4,273.72 485.21,275.67 486.02,277.56 486.84,277.47 487.65,274.05 488.46,275.77 489.27,275.97 490.09,277.36 490.9,275.45 491.71,277.9 492.52,280.85 493.34,279.52 494.15,282.38 494.96,285.49 495.77,278.4 496.59,281.22 497.4,285.2 498.21,279.55 499.02,281.59 499.84,286.9 500.65,278.07 501.46,281.62 502.27,280.07 503.09,282 503.9,282.96 504.71,286.85 505.52,279.85 506.34,282.47 507.15,283.35 507.96,281.57 508.77,282.33 509.59,280.67 510.4,283.58 511.21,282.65 512.02,288.5 512.84,283.73 513.65,280.67 514.46,278.83 515.27,283.56 516.09,282.89 516.9,278.15 517.71,283.46 518.52,280.51 519.34,277.88 520.15,282.44 520.96,279.14 521.77,284.52 522.59,281.97 523.4,282.76 524.21,282.23 525.02,279.41 525.84,275.9 526.65,284.4 527.46,284.15 528.27,281.17 529.09,285.48 529.9,281.17 530.71,280.96 531.52,283.32 532.34,281.07 533.15,286.86 533.96,280.44 534.77,286.85 535.59,284.49 536.4,284.1 537.21,283.66 538.02,280.16 538.84,282.32 539.65,283.65 540.46,281.04 541.27,278.15 542.09,282.53 542.9,281.53 543.71,279.1 544.52,281.8 545.34,286.12 546.15,275.62 546.96,276.41 547.77,288.07 548.59,282.66 549.4,281.39 550.21,279.86 551.02,280.69 551.84,283.31 552.65,285.48 553.46,282.26 554.27,279.68 555.09,285.58 555.9,285.41 556.71,282.62 557.52,287.94 558.34,283.27 559.15,283.76 559.96,281.3 560.77,284.5 561.59,285 562.4,283.65 563.21,282.69 564.02,284.4 564.84,282.52 565.65,280.46 566.46,279.25 567.27,277.81 568.09,284.73 568.9,283.72 569.71,289.45 570.52,277.27 571.34,285.49 572.15,279.72 572.96,275.33 573.77,278 574.59,270.53 575.4,269.62 576.21,272.44 577.02,264.43 577.84,259.87 578.65,266.38 579.46,256.98 580.27,256.72 581.09,254.09 581.9,252.33 582.71,248.1 583.52,250.55 584.34,245.72 585.15,247.54 585.96,244.37 586.77,248.66 587.59,242.06 588.4,241.58 589.21,250.72 590.02,244.05 590.84,255.14 591.65,245.81 592.46,248.64 593.27,239.15 594.09,247.99 594.9,250.5 595.71,241.88 596.52,239.86 597.34,247.48 598.15,253.49 598.96,249.49 599.77,249 600.59,242.54 601.4,253.56 602.21,244.33 603.02,250.22 603.84,245.41 604.65,249.76 605.46,245.21 606.27,243.12 607.09,254.74 607.9,249.81 608.71,247.18 609.52,252.89 610.34,241.4 611.15,248.29 611.96,248.31 612.77,250.74 613.59,254.39 614.4,239.96 615.21,247.77 616.02,243.07 616.84,243.56 617.65,249.7 618.46,235.59 619.27,253.46 620.09,253.17 620.9,242.22 621.71,243.87 622.52,251.04 623.34,240.41 624.15,246.17 624.96,253.75 625.77,244.02 626.59,251.18 627.4,245.98 628.21,243.37 629.02,248.77 629.84,240.11 630.65,246.07 631.46,250.26 632.27,248.33 633.09,248.67 633.9,247.12 634.71,248.66 635.52,244.01 636.34,245.01 637.15,241.81 637.96,255.46 638.77,250.02 639.59,243.89 640.4,244.36 641.21,243.94 642.02,258.79 642.84,241.29 643.65,245.03 644.46,242.08 645.27,251.83 646.09,247.31 646.9,246.3 647.71,239.3 648.52,244.85 649.34,246.91 650.15,256.93 650.96,249.36 651.77,253.42 652.59,249.66 653.4,262.22 654.21,259.18 655.02,247.06 655.84,251.11 656.65,261.85 657.46,254.18 658.27,249.2 659.09,252.82 659.9,243.92 660.71,242.12 661.52,244.93 662.34,242.69 663.15,247.62 663.96,242.94 664.77,245.48 665.59,246.36 666.4,247.17" fill="none" stroke="#ff2016" stroke-width="1.25" stroke-linejoin="round"/>
<line x1="568.9" y1="227.7" x2="568.9" y2="331.7" stroke="#000" stroke-width="1.2" stroke-dasharray="3.4 2.4"/>
<text x="571.8" y="236" font-size="9.9" font-weight="bold" fill="#000" text-anchor="start" textLength="24" lengthAdjust="spacingAndGlyphs" stroke="#000" stroke-width="0.22">CNO</text>
<line x1="474.9" y1="201.9" x2="488.5" y2="201.9" stroke="#ff2016" stroke-width="1.3"/>
<text x="496.4" y="207.6" font-size="11.8" font-weight="bold" fill="#000" text-anchor="start" textLength="24.6" lengthAdjust="spacingAndGlyphs" stroke="#000" stroke-width="0.22">PVN</text>
<text x="521.9" y="202.3" font-size="8.6" font-weight="bold" fill="#000" text-anchor="start" textLength="30" lengthAdjust="spacingAndGlyphs" stroke="#000" stroke-width="0.22">VGlut2</text>
<text x="548.32" y="208.64" font-size="21.39" font-weight="normal" fill="#3a3a3a" text-anchor="start">→</text>
<text x="565.5" y="207.6" font-size="11.4" font-weight="bold" fill="#000" text-anchor="start" textLength="94.2" lengthAdjust="spacingAndGlyphs" stroke="#000" stroke-width="0.22">LC:hM3D (IBAT)</text>
<line x1="474.9" y1="218.3" x2="488.5" y2="218.3" stroke="#33e01a" stroke-width="1.3"/>
<text x="496.4" y="224" font-size="11.8" font-weight="bold" fill="#000" text-anchor="start" textLength="24.6" lengthAdjust="spacingAndGlyphs" stroke="#000" stroke-width="0.22">PVN</text>
<text x="521.9" y="218.7" font-size="8.6" font-weight="bold" fill="#000" text-anchor="start" textLength="30" lengthAdjust="spacingAndGlyphs" stroke="#000" stroke-width="0.22">VGlut2</text>
<text x="548.32" y="225.04" font-size="21.39" font-weight="normal" fill="#3a3a3a" text-anchor="start">→</text>
<text x="565.5" y="224" font-size="11.4" font-weight="bold" fill="#000" text-anchor="start" textLength="93" lengthAdjust="spacingAndGlyphs" stroke="#000" stroke-width="0.22">LC:hM3D (Core)</text>
<line x1="474.9" y1="307.6" x2="488.5" y2="307.6" stroke="#1414ff" stroke-width="1.3"/>
<text x="496.4" y="313.1" font-size="11.8" font-weight="bold" fill="#000" text-anchor="start" textLength="24.6" lengthAdjust="spacingAndGlyphs" stroke="#000" stroke-width="0.22">PVN</text>
<text x="521.9" y="307.8" font-size="8.6" font-weight="bold" fill="#000" text-anchor="start" textLength="30" lengthAdjust="spacingAndGlyphs" stroke="#000" stroke-width="0.22">VGlut2</text>
<text x="548.32" y="314.14" font-size="21.39" font-weight="normal" fill="#3a3a3a" text-anchor="start">→</text>
<text x="565.5" y="313.1" font-size="11.4" font-weight="bold" fill="#000" text-anchor="start" textLength="110.6" lengthAdjust="spacingAndGlyphs" stroke="#000" stroke-width="0.22">LC:mCherry (IBAT)</text>
<line x1="474.9" y1="323" x2="488.5" y2="323" stroke="#cc33ff" stroke-width="1.3"/>
<text x="496.4" y="328.4" font-size="11.8" font-weight="bold" fill="#000" text-anchor="start" textLength="24.6" lengthAdjust="spacingAndGlyphs" stroke="#000" stroke-width="0.22">PVN</text>
<text x="521.9" y="323.1" font-size="8.6" font-weight="bold" fill="#000" text-anchor="start" textLength="30" lengthAdjust="spacingAndGlyphs" stroke="#000" stroke-width="0.22">VGlut2</text>
<text x="548.32" y="329.44" font-size="21.39" font-weight="normal" fill="#3a3a3a" text-anchor="start">→</text>
<text x="565.5" y="328.4" font-size="11.4" font-weight="bold" fill="#000" text-anchor="start" textLength="110.6" lengthAdjust="spacingAndGlyphs" stroke="#000" stroke-width="0.22">LC:mCherry (Core)</text>
</g>
<g id="panel-g">
<text x="2.4" y="390.6" font-size="25" font-weight="bold" fill="#000" text-anchor="start" textLength="18.4" lengthAdjust="spacingAndGlyphs" stroke="#000" stroke-width="0.55" stroke-linejoin="round">G</text>
<line x1="49.4" y1="402.8" x2="49.4" y2="533.4" stroke="#000" stroke-width="1.4"/>
<line x1="44" y1="403.5" x2="49.4" y2="403.5" stroke="#000" stroke-width="1.19"/>
<text x="0" y="0" font-size="10.7" font-weight="bold" fill="#000" text-anchor="end" transform="translate(42.5 407.35) scale(0.92 1)" stroke="#000" stroke-width="0.22">50</text>
<line x1="44" y1="429.34" x2="49.4" y2="429.34" stroke="#000" stroke-width="1.19"/>
<text x="0" y="0" font-size="10.7" font-weight="bold" fill="#000" text-anchor="end" transform="translate(42.5 433.19) scale(0.92 1)" stroke="#000" stroke-width="0.22">40</text>
<line x1="44" y1="455.18" x2="49.4" y2="455.18" stroke="#000" stroke-width="1.19"/>
<text x="0" y="0" font-size="10.7" font-weight="bold" fill="#000" text-anchor="end" transform="translate(42.5 459.03) scale(0.92 1)" stroke="#000" stroke-width="0.22">30</text>
<line x1="44" y1="481.02" x2="49.4" y2="481.02" stroke="#000" stroke-width="1.19"/>
<text x="0" y="0" font-size="10.7" font-weight="bold" fill="#000" text-anchor="end" transform="translate(42.5 484.87) scale(0.92 1)" stroke="#000" stroke-width="0.22">20</text>
<line x1="44" y1="506.86" x2="49.4" y2="506.86" stroke="#000" stroke-width="1.19"/>
<text x="0" y="0" font-size="10.7" font-weight="bold" fill="#000" text-anchor="end" transform="translate(42.5 510.71) scale(0.92 1)" stroke="#000" stroke-width="0.22">10</text>
<line x1="44" y1="532.7" x2="49.4" y2="532.7" stroke="#000" stroke-width="1.19"/>
<text x="0" y="0" font-size="10.7" font-weight="bold" fill="#000" text-anchor="end" transform="translate(42.5 536.55) scale(0.92 1)" stroke="#000" stroke-width="0.22">0</text>
<line x1="48.8" y1="532.7" x2="243.9" y2="532.7" stroke="#000" stroke-width="1.4"/>
<line x1="49.4" y1="532.7" x2="49.4" y2="537.9" stroke="#000" stroke-width="1.19"/>
<text x="0" y="0" font-size="10.7" font-weight="bold" fill="#000" text-anchor="middle" transform="translate(49.4 548.8) scale(0.92 1)" stroke="#000" stroke-width="0.22">0</text>
<line x1="114" y1="532.7" x2="114" y2="537.9" stroke="#000" stroke-width="1.19"/>
<text x="0" y="0" font-size="10.7" font-weight="bold" fill="#000" text-anchor="middle" transform="translate(114 548.8) scale(0.92 1)" stroke="#000" stroke-width="0.22">5</text>
<line x1="178.6" y1="532.7" x2="178.6" y2="537.9" stroke="#000" stroke-width="1.19"/>
<text x="0" y="0" font-size="10.7" font-weight="bold" fill="#000" text-anchor="middle" transform="translate(178.6 548.8) scale(0.92 1)" stroke="#000" stroke-width="0.22">10</text>
<line x1="243.2" y1="532.7" x2="243.2" y2="537.9" stroke="#000" stroke-width="1.19"/>
<text x="0" y="0" font-size="10.7" font-weight="bold" fill="#000" text-anchor="middle" transform="translate(243.2 548.8) scale(0.92 1)" stroke="#000" stroke-width="0.22">15</text>
<text x="25.6" y="467.4" font-size="12.4" font-weight="bold" fill="#000" text-anchor="middle" transform="rotate(-90 25.6 467.4)" textLength="152" lengthAdjust="spacingAndGlyphs" stroke="#000" stroke-width="0.22">Cumulative food intake(g)</text>
<text y="565.4" font-size="12.2" font-weight="bold" stroke="#000" stroke-width="0.22"><tspan x="115.9" textLength="26" lengthAdjust="spacingAndGlyphs">Time</tspan><tspan x="137.94">（</tspan><tspan x="149.9" textLength="19.8" lengthAdjust="spacingAndGlyphs">day</tspan><tspan x="171.73">）</tspan></text>
<polyline points="62.32,520.3 75.24,513.58 88.16,510.74 101.08,500.92 114,493.68 126.92,489.29 139.84,483.35 152.76,475.34 165.68,467.58 178.6,461.12 191.52,453.89 204.44,445.62 217.36,440.71 230.28,432.96 243.2,427.01" fill="none" stroke="#000" stroke-width="1.4"/>
<path d="M62.32,519 V521.59 M59.62,519 H65.02 M59.62,521.59 H65.02" stroke="#000" stroke-width="1.2" fill="none"/>
<rect x="59.92" y="517.9" width="4.8" height="4.8" fill="#000" stroke="none" stroke-width="1"/>
<path d="M75.24,512.03 V515.13 M72.54,512.03 H77.94 M72.54,515.13 H77.94" stroke="#000" stroke-width="1.2" fill="none"/>
<rect x="72.84" y="511.18" width="4.8" height="4.8" fill="#000" stroke="none" stroke-width="1"/>
<path d="M88.16,508.41 V513.06 M85.46,508.41 H90.86 M85.46,513.06 H90.86" stroke="#000" stroke-width="1.2" fill="none"/>
<rect x="85.76" y="508.34" width="4.8" height="4.8" fill="#000" stroke="none" stroke-width="1"/>
<path d="M101.08,498.33 V503.5 M98.38,498.33 H103.78 M98.38,503.5 H103.78" stroke="#000" stroke-width="1.2" fill="none"/>
<rect x="98.68" y="498.52" width="4.8" height="4.8" fill="#000" stroke="none" stroke-width="1"/>
<path d="M114,490.84 V496.52 M111.3,490.84 H116.7 M111.3,496.52 H116.7" stroke="#000" stroke-width="1.2" fill="none"/>
<rect x="111.6" y="491.28" width="4.8" height="4.8" fill="#000" stroke="none" stroke-width="1"/>
<path d="M126.92,486.19 V492.39 M124.22,486.19 H129.62 M124.22,492.39 H129.62" stroke="#000" stroke-width="1.2" fill="none"/>
<rect x="124.52" y="486.89" width="4.8" height="4.8" fill="#000" stroke="none" stroke-width="1"/>
<path d="M139.84,479.99 V486.7 M137.14,479.99 H142.54 M137.14,486.7 H142.54" stroke="#000" stroke-width="1.2" fill="none"/>
<rect x="137.44" y="480.95" width="4.8" height="4.8" fill="#000" stroke="none" stroke-width="1"/>
<path d="M152.76,471.46 V479.21 M150.06,471.46 H155.46 M150.06,479.21 H155.46" stroke="#000" stroke-width="1.2" fill="none"/>
<rect x="150.36" y="472.94" width="4.8" height="4.8" fill="#000" stroke="none" stroke-width="1"/>
<path d="M165.68,463.45 V471.72 M162.98,463.45 H168.38 M162.98,471.72 H168.38" stroke="#000" stroke-width="1.2" fill="none"/>
<rect x="163.28" y="465.18" width="4.8" height="4.8" fill="#000" stroke="none" stroke-width="1"/>
<path d="M178.6,456.21 V466.03 M175.9,456.21 H181.3 M175.9,466.03 H181.3" stroke="#000" stroke-width="1.2" fill="none"/>
<rect x="176.2" y="458.72" width="4.8" height="4.8" fill="#000" stroke="none" stroke-width="1"/>
<path d="M191.52,448.72 V459.06 M188.82,448.72 H194.22 M188.82,459.06 H194.22" stroke="#000" stroke-width="1.2" fill="none"/>
<rect x="189.12" y="451.49" width="4.8" height="4.8" fill="#000" stroke="none" stroke-width="1"/>
<path d="M204.44,440.19 V451.05 M201.74,440.19 H207.14 M201.74,451.05 H207.14" stroke="#000" stroke-width="1.2" fill="none"/>
<rect x="202.04" y="443.22" width="4.8" height="4.8" fill="#000" stroke="none" stroke-width="1"/>
<path d="M217.36,435.28 V446.14 M214.66,435.28 H220.06 M214.66,446.14 H220.06" stroke="#000" stroke-width="1.2" fill="none"/>
<rect x="214.96" y="438.31" width="4.8" height="4.8" fill="#000" stroke="none" stroke-width="1"/>
<path d="M230.28,426.76 V439.16 M227.58,426.76 H232.98 M227.58,439.16 H232.98" stroke="#000" stroke-width="1.2" fill="none"/>
<rect x="227.88" y="430.56" width="4.8" height="4.8" fill="#000" stroke="none" stroke-width="1"/>
<path d="M243.2,420.81 V433.22 M240.5,420.81 H245.9 M240.5,433.22 H245.9" stroke="#000" stroke-width="1.2" fill="none"/>
<rect x="240.8" y="424.61" width="4.8" height="4.8" fill="#000" stroke="none" stroke-width="1"/>
<polyline points="62.32,526.5 75.24,523.4 88.16,520.04 101.08,516.16 114,513.06 126.92,509.19 139.84,505.57 152.76,502.73 165.68,498.07 178.6,494.2 191.52,491.1 204.44,487.22 217.36,483.86 230.28,479.99 243.2,477.4" fill="none" stroke="#ff2a1a" stroke-width="1.4"/>
<path d="M62.32,525.72 V527.27 M59.62,525.72 H65.02 M59.62,527.27 H65.02" stroke="#ff2a1a" stroke-width="1.2" fill="none"/>
<circle cx="62.32" cy="526.5" r="2.5" fill="#ff2a1a"/>
<path d="M75.24,522.36 V524.43 M72.54,522.36 H77.94 M72.54,524.43 H77.94" stroke="#ff2a1a" stroke-width="1.2" fill="none"/>
<circle cx="75.24" cy="523.4" r="2.5" fill="#ff2a1a"/>
<path d="M88.16,518.75 V521.33 M85.46,518.75 H90.86 M85.46,521.33 H90.86" stroke="#ff2a1a" stroke-width="1.2" fill="none"/>
<circle cx="88.16" cy="520.04" r="2.5" fill="#ff2a1a"/>
<path d="M101.08,514.87 V517.45 M98.38,514.87 H103.78 M98.38,517.45 H103.78" stroke="#ff2a1a" stroke-width="1.2" fill="none"/>
<circle cx="101.08" cy="516.16" r="2.5" fill="#ff2a1a"/>
<path d="M114,511.51 V514.61 M111.3,511.51 H116.7 M111.3,514.61 H116.7" stroke="#ff2a1a" stroke-width="1.2" fill="none"/>
<circle cx="114" cy="513.06" r="2.5" fill="#ff2a1a"/>
<path d="M126.92,507.38 V510.99 M124.22,507.38 H129.62 M124.22,510.99 H129.62" stroke="#ff2a1a" stroke-width="1.2" fill="none"/>
<circle cx="126.92" cy="509.19" r="2.5" fill="#ff2a1a"/>
<path d="M139.84,502.98 V508.15 M137.14,502.98 H142.54 M137.14,508.15 H142.54" stroke="#ff2a1a" stroke-width="1.2" fill="none"/>
<circle cx="139.84" cy="505.57" r="2.5" fill="#ff2a1a"/>
<path d="M152.76,499.62 V505.83 M150.06,499.62 H155.46 M150.06,505.83 H155.46" stroke="#ff2a1a" stroke-width="1.2" fill="none"/>
<circle cx="152.76" cy="502.73" r="2.5" fill="#ff2a1a"/>
<path d="M165.68,494.46 V501.69 M162.98,494.46 H168.38 M162.98,501.69 H168.38" stroke="#ff2a1a" stroke-width="1.2" fill="none"/>
<circle cx="165.68" cy="498.07" r="2.5" fill="#ff2a1a"/>
<path d="M178.6,490.84 V497.56 M175.9,490.84 H181.3 M175.9,497.56 H181.3" stroke="#ff2a1a" stroke-width="1.2" fill="none"/>
<circle cx="178.6" cy="494.2" r="2.5" fill="#ff2a1a"/>
<path d="M191.52,487.74 V494.46 M188.82,487.74 H194.22 M188.82,494.46 H194.22" stroke="#ff2a1a" stroke-width="1.2" fill="none"/>
<circle cx="191.52" cy="491.1" r="2.5" fill="#ff2a1a"/>
<path d="M204.44,483.86 V490.58 M201.74,483.86 H207.14 M201.74,490.58 H207.14" stroke="#ff2a1a" stroke-width="1.2" fill="none"/>
<circle cx="204.44" cy="487.22" r="2.5" fill="#ff2a1a"/>
<path d="M217.36,480.24 V487.48 M214.66,480.24 H220.06 M214.66,487.48 H220.06" stroke="#ff2a1a" stroke-width="1.2" fill="none"/>
<circle cx="217.36" cy="483.86" r="2.5" fill="#ff2a1a"/>
<path d="M230.28,476.11 V483.86 M227.58,476.11 H232.98 M227.58,483.86 H232.98" stroke="#ff2a1a" stroke-width="1.2" fill="none"/>
<circle cx="230.28" cy="479.99" r="2.5" fill="#ff2a1a"/>
<path d="M243.2,473.27 V481.54 M240.5,473.27 H245.9 M240.5,481.54 H245.9" stroke="#ff2a1a" stroke-width="1.2" fill="none"/>
<circle cx="243.2" cy="477.4" r="2.5" fill="#ff2a1a"/>
<line x1="57.4" y1="405" x2="70.5" y2="405" stroke="#ff2a1a" stroke-width="1.4"/>
<circle cx="64" cy="405" r="2.5" fill="#ff2a1a"/>
<line x1="57.4" y1="421" x2="70.5" y2="421" stroke="#000" stroke-width="1.4"/>
<rect x="61.6" y="418.6" width="4.8" height="4.8" fill="#000" stroke="none" stroke-width="1"/>
<text x="78.8" y="410" font-size="10.2" font-weight="bold" fill="#000" text-anchor="start" textLength="21" lengthAdjust="spacingAndGlyphs" stroke="#000" stroke-width="0.22">PVN</text>
<text x="100.6" y="405.2" font-size="7.5" font-weight="bold" fill="#000" text-anchor="start" textLength="26" lengthAdjust="spacingAndGlyphs" stroke="#000" stroke-width="0.22">VGlut2</text>
<text x="124.06" y="410.22" font-size="16.7" font-weight="bold" fill="#000" text-anchor="start" stroke="#000" stroke-width="0.35">→</text>
<text x="138.3" y="410" font-size="10.2" font-weight="bold" fill="#000" text-anchor="start" textLength="46.4" lengthAdjust="spacingAndGlyphs" stroke="#000" stroke-width="0.22">LC:hM3D</text>
<text x="78.8" y="425.8" font-size="10.2" font-weight="bold" fill="#000" text-anchor="start" textLength="21" lengthAdjust="spacingAndGlyphs" stroke="#000" stroke-width="0.22">PVN</text>
<text x="100.6" y="421" font-size="7.5" font-weight="bold" fill="#000" text-anchor="start" textLength="26" lengthAdjust="spacingAndGlyphs" stroke="#000" stroke-width="0.22">VGlut2</text>
<text x="124.06" y="426.02" font-size="16.7" font-weight="bold" fill="#000" text-anchor="start" stroke="#000" stroke-width="0.35">→</text>
<text x="138.3" y="425.8" font-size="10.2" font-weight="bold" fill="#000" text-anchor="start" textLength="60.8" lengthAdjust="spacingAndGlyphs" stroke="#000" stroke-width="0.22">LC:mCherry</text>
<line x1="252" y1="423.2" x2="252" y2="477.9" stroke="#000" stroke-width="2.1"/>
<text x="260" y="441.6" font-size="17" font-weight="bold" fill="#000" text-anchor="middle" stroke="#000" stroke-width="0.3">*</text>
<text x="260" y="454.1" font-size="17" font-weight="bold" fill="#000" text-anchor="middle" stroke="#000" stroke-width="0.3">*</text>
<text x="260" y="466.4" font-size="17" font-weight="bold" fill="#000" text-anchor="middle" stroke="#000" stroke-width="0.3">*</text>
<text x="260" y="478.8" font-size="17" font-weight="bold" fill="#000" text-anchor="middle" stroke="#000" stroke-width="0.3">*</text>
</g>
<g id="panel-h">
<text x="276.3" y="391.7" font-size="25" font-weight="bold" fill="#000" text-anchor="start" textLength="17.9" lengthAdjust="spacingAndGlyphs" stroke="#000" stroke-width="0.55" stroke-linejoin="round">H</text>
<line x1="318.6" y1="402.82" x2="318.6" y2="534" stroke="#000" stroke-width="1.4"/>
<line x1="313.2" y1="403.52" x2="318.6" y2="403.52" stroke="#000" stroke-width="1.19"/>
<text x="0" y="0" font-size="10.7" font-weight="bold" fill="#000" text-anchor="end" transform="translate(311.7 407.37) scale(0.92 1)" stroke="#000" stroke-width="0.22">0.6</text>
<line x1="313.2" y1="446.78" x2="318.6" y2="446.78" stroke="#000" stroke-width="1.19"/>
<text x="0" y="0" font-size="10.7" font-weight="bold" fill="#000" text-anchor="end" transform="translate(311.7 450.63) scale(0.92 1)" stroke="#000" stroke-width="0.22">0.4</text>
<line x1="313.2" y1="490.04" x2="318.6" y2="490.04" stroke="#000" stroke-width="1.19"/>
<text x="0" y="0" font-size="10.7" font-weight="bold" fill="#000" text-anchor="end" transform="translate(311.7 493.89) scale(0.92 1)" stroke="#000" stroke-width="0.22">0.2</text>
<line x1="313.2" y1="533.3" x2="318.6" y2="533.3" stroke="#000" stroke-width="1.19"/>
<text x="0" y="0" font-size="10.7" font-weight="bold" fill="#000" text-anchor="end" transform="translate(311.7 537.15) scale(0.92 1)" stroke="#000" stroke-width="0.22">0.0</text>
<path d="M333.62,533.3 V457.34 H356.78 V533.3" fill="none" stroke="#ff2a1a" stroke-width="1.65" stroke-linejoin="miter"/>
<path d="M372.62,533.3 V479.18 H395.78 V533.3" fill="none" stroke="#000" stroke-width="1.65" stroke-linejoin="miter"/>
<line x1="318" y1="533.3" x2="410.1" y2="533.3" stroke="#000" stroke-width="1.4"/>
<line x1="345.1" y1="533.3" x2="345.1" y2="538.3" stroke="#000" stroke-width="1.19"/>
<line x1="384.1" y1="533.3" x2="384.1" y2="538.3" stroke="#000" stroke-width="1.19"/>
<text x="330.4" y="551" font-size="10.4" font-weight="bold" fill="#000" text-anchor="start" textLength="28.5" lengthAdjust="spacingAndGlyphs" stroke="#000" stroke-width="0.22">hM3D</text>
<text x="361" y="551" font-size="10.4" font-weight="bold" fill="#000" text-anchor="start" textLength="44" lengthAdjust="spacingAndGlyphs" stroke="#000" stroke-width="0.22">mCherry</text>
<text x="292.5" y="468.6" font-size="12.4" font-weight="bold" fill="#000" text-anchor="middle" transform="rotate(-90 292.5 468.6)" textLength="91" lengthAdjust="spacingAndGlyphs" stroke="#000" stroke-width="0.22">IBAT weight (g)</text>
<path d="M345.1,413.3 V406.3 H384.1 V413.3" stroke="#000" stroke-width="1.2" fill="none"/>
<text x="364.2" y="407.1" font-size="19.43" font-weight="bold" fill="#000" text-anchor="middle" stroke="#000" stroke-width="0.25">*</text>
<path d="M345.1,449.38 V463.65 M338.9,449.38 H351.3 M338.9,463.65 H351.3" stroke="#ff2a1a" stroke-width="1.3" fill="none"/>
<path d="M384.1,472.52 V484.2 M377.9,472.52 H390.3 M377.9,484.2 H390.3" stroke="#000" stroke-width="1.3" fill="none"/>
<circle cx="345.1" cy="421.42" r="2.6" fill="#ff2a1a"/>
<circle cx="350.14" cy="440.69" r="2.6" fill="#ff2a1a"/>
<circle cx="334.59" cy="445.07" r="2.6" fill="#ff2a1a"/>
<circle cx="340.07" cy="449.45" r="2.6" fill="#ff2a1a"/>
<circle cx="345.1" cy="447.26" r="2.6" fill="#ff2a1a"/>
<circle cx="350.14" cy="449.45" r="2.6" fill="#ff2a1a"/>
<circle cx="355.4" cy="446.82" r="2.6" fill="#ff2a1a"/>
<circle cx="345.1" cy="457.77" r="2.6" fill="#ff2a1a"/>
<circle cx="345.1" cy="493.24" r="2.6" fill="#ff2a1a"/>
<circle cx="345.1" cy="507.91" r="2.6" fill="#ff2a1a"/>
<rect x="381.19" y="443.06" width="4.9" height="4.9" fill="#000" stroke="none" stroke-width="1"/>
<rect x="381.19" y="449.19" width="4.9" height="4.9" fill="#000" stroke="none" stroke-width="1"/>
<rect x="381.19" y="460.13" width="4.9" height="4.9" fill="#000" stroke="none" stroke-width="1"/>
<rect x="378.13" y="468.46" width="4.9" height="4.9" fill="#000" stroke="none" stroke-width="1"/>
<rect x="384.69" y="468.46" width="4.9" height="4.9" fill="#000" stroke="none" stroke-width="1"/>
<rect x="370.9" y="487.51" width="4.9" height="4.9" fill="#000" stroke="none" stroke-width="1"/>
<rect x="376.37" y="490.79" width="4.9" height="4.9" fill="#000" stroke="none" stroke-width="1"/>
<rect x="381.41" y="490.79" width="4.9" height="4.9" fill="#000" stroke="none" stroke-width="1"/>
<rect x="386.45" y="490.79" width="4.9" height="4.9" fill="#000" stroke="none" stroke-width="1"/>
<rect x="391.26" y="492.54" width="4.9" height="4.9" fill="#000" stroke="none" stroke-width="1"/>
<rect x="381.19" y="505.46" width="4.9" height="4.9" fill="#000" stroke="none" stroke-width="1"/>
</g>
<g id="panel-i">
<text x="427.6" y="391.7" font-size="25" font-weight="bold" fill="#000" text-anchor="start" stroke="#000" stroke-width="0.55" stroke-linejoin="round">I</text>
<line x1="454.8" y1="401.35" x2="454.8" y2="534.1" stroke="#000" stroke-width="1.4"/>
<line x1="449.4" y1="402.05" x2="454.8" y2="402.05" stroke="#000" stroke-width="1.19"/>
<text x="0" y="0" font-size="10.7" font-weight="bold" fill="#000" text-anchor="end" transform="translate(447.9 405.9) scale(0.92 1)" stroke="#000" stroke-width="0.22">5</text>
<line x1="449.4" y1="428.32" x2="454.8" y2="428.32" stroke="#000" stroke-width="1.19"/>
<text x="0" y="0" font-size="10.7" font-weight="bold" fill="#000" text-anchor="end" transform="translate(447.9 432.17) scale(0.92 1)" stroke="#000" stroke-width="0.22">4</text>
<line x1="449.4" y1="454.59" x2="454.8" y2="454.59" stroke="#000" stroke-width="1.19"/>
<text x="0" y="0" font-size="10.7" font-weight="bold" fill="#000" text-anchor="end" transform="translate(447.9 458.44) scale(0.92 1)" stroke="#000" stroke-width="0.22">3</text>
<line x1="449.4" y1="480.86" x2="454.8" y2="480.86" stroke="#000" stroke-width="1.19"/>
<text x="0" y="0" font-size="10.7" font-weight="bold" fill="#000" text-anchor="end" transform="translate(447.9 484.71) scale(0.92 1)" stroke="#000" stroke-width="0.22">2</text>
<line x1="449.4" y1="507.13" x2="454.8" y2="507.13" stroke="#000" stroke-width="1.19"/>
<text x="0" y="0" font-size="10.7" font-weight="bold" fill="#000" text-anchor="end" transform="translate(447.9 510.98) scale(0.92 1)" stroke="#000" stroke-width="0.22">1</text>
<line x1="449.4" y1="533.4" x2="454.8" y2="533.4" stroke="#000" stroke-width="1.19"/>
<text x="0" y="0" font-size="10.7" font-weight="bold" fill="#000" text-anchor="end" transform="translate(447.9 537.25) scale(0.92 1)" stroke="#000" stroke-width="0.22">0</text>
<path d="M468.62,533.4 V495.42 H492.28 V533.4" fill="none" stroke="#ff2a1a" stroke-width="1.65" stroke-linejoin="miter"/>
<path d="M507.93,533.4 V457.62 H531.57 V533.4" fill="none" stroke="#000" stroke-width="1.65" stroke-linejoin="miter"/>
<line x1="454.2" y1="533.4" x2="545.1" y2="533.4" stroke="#000" stroke-width="1.4"/>
<line x1="480.3" y1="533.4" x2="480.3" y2="538.4" stroke="#000" stroke-width="1.19"/>
<line x1="519.6" y1="533.4" x2="519.6" y2="538.4" stroke="#000" stroke-width="1.19"/>
<text x="466.1" y="549.9" font-size="10.4" font-weight="bold" fill="#000" text-anchor="start" textLength="28.7" lengthAdjust="spacingAndGlyphs" stroke="#000" stroke-width="0.22">hM3D</text>
<text x="497.2" y="549.9" font-size="10.4" font-weight="bold" fill="#000" text-anchor="start" textLength="44.2" lengthAdjust="spacingAndGlyphs" stroke="#000" stroke-width="0.22">mCherry</text>
<text x="437.2" y="468" font-size="12.4" font-weight="bold" fill="#000" text-anchor="middle" transform="rotate(-90 437.2 468)" textLength="97.7" lengthAdjust="spacingAndGlyphs" stroke="#000" stroke-width="0.22">gWAT weight (g)</text>
<path d="M480.3,415.5 V408.6 H519.6 V415.5" stroke="#000" stroke-width="1.2" fill="none"/>
<text x="500.1" y="410.06" font-size="19.92" font-weight="bold" fill="#000" text-anchor="middle" stroke="#000" stroke-width="0.25">****</text>
<path d="M480.3,489.87 V499.33 M473.9,489.87 H486.7 M473.9,499.33 H486.7" stroke="#ff2a1a" stroke-width="1.3" fill="none"/>
<path d="M519.6,451.54 V462.05 M513.2,451.54 H526 M513.2,462.05 H526" stroke="#000" stroke-width="1.3" fill="none"/>
<circle cx="480.52" cy="468.99" r="2.6" fill="#ff2a1a"/>
<circle cx="475.12" cy="476.84" r="2.6" fill="#ff2a1a"/>
<circle cx="486.17" cy="481.01" r="2.6" fill="#ff2a1a"/>
<circle cx="480.52" cy="486.66" r="2.6" fill="#ff2a1a"/>
<circle cx="475.12" cy="494.75" r="2.6" fill="#ff2a1a"/>
<circle cx="486.17" cy="495.25" r="2.6" fill="#ff2a1a"/>
<circle cx="480.52" cy="500.15" r="2.6" fill="#ff2a1a"/>
<circle cx="475.12" cy="505.06" r="2.6" fill="#ff2a1a"/>
<circle cx="486.17" cy="511.2" r="2.6" fill="#ff2a1a"/>
<circle cx="475.12" cy="515.61" r="2.6" fill="#ff2a1a"/>
<rect x="517.19" y="421.73" width="4.7" height="4.7" fill="#000" stroke="none" stroke-width="1"/>
<rect x="517.19" y="440.13" width="4.7" height="4.7" fill="#000" stroke="none" stroke-width="1"/>
<rect x="506.64" y="450.69" width="4.7" height="4.7" fill="#000" stroke="none" stroke-width="1"/>
<rect x="512.04" y="453.14" width="4.7" height="4.7" fill="#000" stroke="none" stroke-width="1"/>
<rect x="522.59" y="454.86" width="4.7" height="4.7" fill="#000" stroke="none" stroke-width="1"/>
<rect x="527.5" y="450.69" width="4.7" height="4.7" fill="#000" stroke="none" stroke-width="1"/>
<rect x="507.13" y="459.77" width="4.7" height="4.7" fill="#000" stroke="none" stroke-width="1"/>
<rect x="517.19" y="457.8" width="4.7" height="4.7" fill="#000" stroke="none" stroke-width="1"/>
<rect x="527.5" y="457.31" width="4.7" height="4.7" fill="#000" stroke="none" stroke-width="1"/>
<rect x="517.19" y="464.67" width="4.7" height="4.7" fill="#000" stroke="none" stroke-width="1"/>
<rect x="517.19" y="479.4" width="4.7" height="4.7" fill="#000" stroke="none" stroke-width="1"/>
</g>
<g id="panel-j">
<text x="560.3" y="391.9" font-size="25" font-weight="bold" fill="#000" text-anchor="start" textLength="9.6" lengthAdjust="spacingAndGlyphs" stroke="#000" stroke-width="0.55" stroke-linejoin="round">J</text>
<line x1="592.3" y1="400.8" x2="592.3" y2="533.1" stroke="#000" stroke-width="1.4"/>
<line x1="586.9" y1="401.5" x2="592.3" y2="401.5" stroke="#000" stroke-width="1.19"/>
<text x="0" y="0" font-size="10.7" font-weight="bold" fill="#000" text-anchor="end" transform="translate(585.4 405.35) scale(0.92 1)" stroke="#000" stroke-width="0.22">50</text>
<line x1="586.9" y1="427.68" x2="592.3" y2="427.68" stroke="#000" stroke-width="1.19"/>
<text x="0" y="0" font-size="10.7" font-weight="bold" fill="#000" text-anchor="end" transform="translate(585.4 431.53) scale(0.92 1)" stroke="#000" stroke-width="0.22">40</text>
<line x1="586.9" y1="453.86" x2="592.3" y2="453.86" stroke="#000" stroke-width="1.19"/>
<text x="0" y="0" font-size="10.7" font-weight="bold" fill="#000" text-anchor="end" transform="translate(585.4 457.71) scale(0.92 1)" stroke="#000" stroke-width="0.22">30</text>
<line x1="586.9" y1="480.04" x2="592.3" y2="480.04" stroke="#000" stroke-width="1.19"/>
<text x="0" y="0" font-size="10.7" font-weight="bold" fill="#000" text-anchor="end" transform="translate(585.4 483.89) scale(0.92 1)" stroke="#000" stroke-width="0.22">20</text>
<line x1="586.9" y1="506.22" x2="592.3" y2="506.22" stroke="#000" stroke-width="1.19"/>
<text x="0" y="0" font-size="10.7" font-weight="bold" fill="#000" text-anchor="end" transform="translate(585.4 510.07) scale(0.92 1)" stroke="#000" stroke-width="0.22">10</text>
<line x1="586.9" y1="532.4" x2="592.3" y2="532.4" stroke="#000" stroke-width="1.19"/>
<text x="0" y="0" font-size="10.7" font-weight="bold" fill="#000" text-anchor="end" transform="translate(585.4 536.25) scale(0.92 1)" stroke="#000" stroke-width="0.22">0</text>
<path d="M600.23,532.4 V498.93 H609.17 V532.4" fill="none" stroke="#ff2a1a" stroke-width="1.65" stroke-linejoin="miter"/>
<path d="M618.62,532.4 V465.94 H627.57 V532.4" fill="none" stroke="#000" stroke-width="1.65" stroke-linejoin="miter"/>
<path d="M648.83,532.4 V445.26 H657.77 V532.4" fill="none" stroke="#ff2a1a" stroke-width="1.65" stroke-linejoin="miter"/>
<path d="M666.73,532.4 V459.14 H675.77 V532.4" fill="none" stroke="#000" stroke-width="1.65" stroke-linejoin="miter"/>
<line x1="591.7" y1="532.4" x2="683.6" y2="532.4" stroke="#000" stroke-width="1.4"/>
<line x1="613.6" y1="532.4" x2="613.6" y2="537.4" stroke="#000" stroke-width="1.19"/>
<line x1="661.9" y1="532.4" x2="661.9" y2="537.4" stroke="#000" stroke-width="1.19"/>
<text x="613.6" y="549.2" font-size="10.4" font-weight="bold" fill="#000" text-anchor="middle" textLength="16.2" lengthAdjust="spacingAndGlyphs" stroke="#000" stroke-width="0.22">Fat</text>
<text x="661.9" y="549.2" font-size="10.4" font-weight="bold" fill="#000" text-anchor="middle" textLength="24.3" lengthAdjust="spacingAndGlyphs" stroke="#000" stroke-width="0.22">Lean</text>
<text x="568.6" y="467" font-size="12.4" font-weight="bold" fill="#000" text-anchor="middle" transform="rotate(-90 568.6 467)" textLength="85.8" lengthAdjust="spacingAndGlyphs" stroke="#000" stroke-width="0.22">%Body weight</text>
<path d="M604.6,420.4 V413 H623 V420.4" stroke="#000" stroke-width="1.2" fill="none"/>
<text x="613.7" y="414.06" font-size="19.54" font-weight="bold" fill="#000" text-anchor="middle" stroke="#000" stroke-width="0.25">***</text>
<path d="M604.6,495.22 V500.98 M601.2,495.22 H608 M601.2,500.98 H608" stroke="#ff2a1a" stroke-width="1.2" fill="none"/>
<path d="M623,459.36 V470.88 M619.6,459.36 H626.4 M619.6,470.88 H626.4" stroke="#000" stroke-width="1.2" fill="none"/>
<path d="M653.2,442.08 V446.79 M649.8,442.08 H656.6 M649.8,446.79 H656.6" stroke="#ff2a1a" stroke-width="1.2" fill="none"/>
<path d="M671.2,453.07 V463.55 M667.8,453.07 H674.6 M667.8,463.55 H674.6" stroke="#000" stroke-width="1.2" fill="none"/>
<circle cx="604.57" cy="482.87" r="2.5" fill="#ff2a1a"/>
<circle cx="601.88" cy="490.22" r="2.5" fill="#ff2a1a"/>
<circle cx="607.52" cy="490.71" r="2.5" fill="#ff2a1a"/>
<circle cx="604.57" cy="495.13" r="2.5" fill="#ff2a1a"/>
<circle cx="602.61" cy="498.8" r="2.5" fill="#ff2a1a"/>
<circle cx="606.78" cy="500.03" r="2.5" fill="#ff2a1a"/>
<circle cx="603.84" cy="502.48" r="2.5" fill="#ff2a1a"/>
<circle cx="606.29" cy="504.44" r="2.5" fill="#ff2a1a"/>
<circle cx="603.35" cy="506.16" r="2.5" fill="#ff2a1a"/>
<circle cx="604.57" cy="515.23" r="2.5" fill="#ff2a1a"/>
<rect x="620.66" y="439.63" width="4.6" height="4.6" fill="#000" stroke="none" stroke-width="1"/>
<rect x="620.66" y="449.92" width="4.6" height="4.6" fill="#000" stroke="none" stroke-width="1"/>
<rect x="616.98" y="453.11" width="4.6" height="4.6" fill="#000" stroke="none" stroke-width="1"/>
<rect x="623.6" y="462.18" width="4.6" height="4.6" fill="#000" stroke="none" stroke-width="1"/>
<rect x="620.66" y="467.09" width="4.6" height="4.6" fill="#000" stroke="none" stroke-width="1"/>
<rect x="618.21" y="479.83" width="4.6" height="4.6" fill="#000" stroke="none" stroke-width="1"/>
<rect x="623.6" y="486.7" width="4.6" height="4.6" fill="#000" stroke="none" stroke-width="1"/>
<rect x="620.66" y="502.63" width="4.6" height="4.6" fill="#000" stroke="none" stroke-width="1"/>
<rect x="621.64" y="457.28" width="4.6" height="4.6" fill="#000" stroke="none" stroke-width="1"/>
<rect x="619.19" y="485.47" width="4.6" height="4.6" fill="#000" stroke="none" stroke-width="1"/>
<circle cx="653.11" cy="431.39" r="2.5" fill="#ff2a1a"/>
<circle cx="650.42" cy="439.97" r="2.5" fill="#ff2a1a"/>
<circle cx="655.81" cy="439.97" r="2.5" fill="#ff2a1a"/>
<circle cx="653.11" cy="443.15" r="2.5" fill="#ff2a1a"/>
<circle cx="650.91" cy="446.1" r="2.5" fill="#ff2a1a"/>
<circle cx="655.32" cy="446.59" r="2.5" fill="#ff2a1a"/>
<circle cx="653.11" cy="448.55" r="2.5" fill="#ff2a1a"/>
<circle cx="651.4" cy="451.49" r="2.5" fill="#ff2a1a"/>
<circle cx="654.83" cy="452.96" r="2.5" fill="#ff2a1a"/>
<circle cx="653.11" cy="455.9" r="2.5" fill="#ff2a1a"/>
<rect x="671.9" y="433.5" width="4.6" height="4.6" fill="#000" stroke="none" stroke-width="1"/>
<rect x="667.73" y="438.4" width="4.6" height="4.6" fill="#000" stroke="none" stroke-width="1"/>
<rect x="668.96" y="448.7" width="4.6" height="4.6" fill="#000" stroke="none" stroke-width="1"/>
<rect x="666.5" y="453.6" width="4.6" height="4.6" fill="#000" stroke="none" stroke-width="1"/>
<rect x="671.41" y="457.28" width="4.6" height="4.6" fill="#000" stroke="none" stroke-width="1"/>
<rect x="668.22" y="460.96" width="4.6" height="4.6" fill="#000" stroke="none" stroke-width="1"/>
<rect x="670.67" y="463.9" width="4.6" height="4.6" fill="#000" stroke="none" stroke-width="1"/>
<rect x="670.18" y="467.09" width="4.6" height="4.6" fill="#000" stroke="none" stroke-width="1"/>
<rect x="668.96" y="491.6" width="4.6" height="4.6" fill="#000" stroke="none" stroke-width="1"/>
<rect x="667.24" y="458.51" width="4.6" height="4.6" fill="#000" stroke="none" stroke-width="1"/>
</g>
<g id="panel-k">
<text x="2.4" y="586.1" font-size="25" font-weight="bold" fill="#000" text-anchor="start" textLength="14.8" lengthAdjust="spacingAndGlyphs" stroke="#000" stroke-width="0.55" stroke-linejoin="round">K</text>
<text x="106.2" y="583.7" font-size="9.4" font-weight="bold" fill="#000" text-anchor="start" textLength="20.4" lengthAdjust="spacingAndGlyphs" stroke="#000" stroke-width="0.22">GTT</text>
<line x1="35.5" y1="613.55" x2="35.5" y2="722.05" stroke="#000" stroke-width="1.3"/>
<line x1="31.1" y1="614.2" x2="35.5" y2="614.2" stroke="#000" stroke-width="1.1"/>
<text x="29.8" y="617.33" font-size="8.7" font-weight="bold" fill="#000" text-anchor="end" stroke="#000" stroke-width="0.22">20</text>
<line x1="31.1" y1="641" x2="35.5" y2="641" stroke="#000" stroke-width="1.1"/>
<text x="29.8" y="644.13" font-size="8.7" font-weight="bold" fill="#000" text-anchor="end" stroke="#000" stroke-width="0.22">15</text>
<line x1="31.1" y1="667.8" x2="35.5" y2="667.8" stroke="#000" stroke-width="1.1"/>
<text x="29.8" y="670.93" font-size="8.7" font-weight="bold" fill="#000" text-anchor="end" stroke="#000" stroke-width="0.22">10</text>
<line x1="31.1" y1="694.6" x2="35.5" y2="694.6" stroke="#000" stroke-width="1.1"/>
<text x="29.8" y="697.73" font-size="8.7" font-weight="bold" fill="#000" text-anchor="end" stroke="#000" stroke-width="0.22">5</text>
<line x1="31.1" y1="721.4" x2="35.5" y2="721.4" stroke="#000" stroke-width="1.1"/>
<text x="29.8" y="724.53" font-size="8.7" font-weight="bold" fill="#000" text-anchor="end" stroke="#000" stroke-width="0.22">0</text>
<line x1="35" y1="721.4" x2="197.63" y2="721.4" stroke="#000" stroke-width="1.3"/>
<line x1="35.5" y1="721.4" x2="35.5" y2="725.8" stroke="#000" stroke-width="1.1"/>
<text x="35.5" y="735.4" font-size="8.7" font-weight="bold" fill="#000" text-anchor="middle" stroke="#000" stroke-width="0.22">0</text>
<line x1="89.36" y1="721.4" x2="89.36" y2="725.8" stroke="#000" stroke-width="1.1"/>
<text x="89.36" y="735.4" font-size="8.7" font-weight="bold" fill="#000" text-anchor="middle" stroke="#000" stroke-width="0.22">20</text>
<line x1="143.22" y1="721.4" x2="143.22" y2="725.8" stroke="#000" stroke-width="1.1"/>
<text x="143.22" y="735.4" font-size="8.7" font-weight="bold" fill="#000" text-anchor="middle" stroke="#000" stroke-width="0.22">40</text>
<line x1="197.08" y1="721.4" x2="197.08" y2="725.8" stroke="#000" stroke-width="1.1"/>
<text x="197.08" y="735.4" font-size="8.7" font-weight="bold" fill="#000" text-anchor="middle" stroke="#000" stroke-width="0.22">60</text>
<polyline points="35.5,689.88 75.9,639.93 116.29,654.94 197.08,673.43" fill="none" stroke="#000" stroke-width="1.35"/>
<path d="M35.5,688.28 V691.49 M33.1,688.28 H37.9 M33.1,691.49 H37.9" stroke="#000" stroke-width="1.15" fill="none"/>
<rect x="33.35" y="687.73" width="4.3" height="4.3" fill="#000" stroke="none" stroke-width="1"/>
<path d="M75.9,635.64 V644.22 M73.5,635.64 H78.3 M73.5,644.22 H78.3" stroke="#000" stroke-width="1.15" fill="none"/>
<rect x="73.75" y="637.78" width="4.3" height="4.3" fill="#000" stroke="none" stroke-width="1"/>
<path d="M116.29,650.65 V659.22 M113.89,650.65 H118.69 M113.89,659.22 H118.69" stroke="#000" stroke-width="1.15" fill="none"/>
<rect x="114.14" y="652.79" width="4.3" height="4.3" fill="#000" stroke="none" stroke-width="1"/>
<path d="M197.08,670.48 V676.38 M194.68,670.48 H199.48 M194.68,676.38 H199.48" stroke="#000" stroke-width="1.15" fill="none"/>
<rect x="194.93" y="671.28" width="4.3" height="4.3" fill="#000" stroke="none" stroke-width="1"/>
<polyline points="35.5,687.63 75.9,665.66 116.29,676.91 197.08,685.49" fill="none" stroke="#ff2a1a" stroke-width="1.35"/>
<path d="M35.5,686.29 V688.97 M33.1,686.29 H37.9 M33.1,688.97 H37.9" stroke="#ff2a1a" stroke-width="1.15" fill="none"/>
<circle cx="35.5" cy="687.63" r="2.25" fill="#ff2a1a"/>
<path d="M75.9,661.64 V669.68 M73.5,661.64 H78.3 M73.5,669.68 H78.3" stroke="#ff2a1a" stroke-width="1.15" fill="none"/>
<circle cx="75.9" cy="665.66" r="2.25" fill="#ff2a1a"/>
<path d="M116.29,674.23 V679.59 M113.89,674.23 H118.69 M113.89,679.59 H118.69" stroke="#ff2a1a" stroke-width="1.15" fill="none"/>
<circle cx="116.29" cy="676.91" r="2.25" fill="#ff2a1a"/>
<path d="M197.08,684.42 V686.56 M194.68,684.42 H199.48 M194.68,686.56 H199.48" stroke="#ff2a1a" stroke-width="1.15" fill="none"/>
<circle cx="197.08" cy="685.49" r="2.25" fill="#ff2a1a"/>
<text x="15.7" y="667.4" font-size="10.6" font-weight="bold" fill="#000" text-anchor="middle" transform="rotate(-90 15.7 667.4)" textLength="88" lengthAdjust="spacingAndGlyphs" stroke="#000" stroke-width="0.22">Glucose (mmol/L)</text>
<text x="90.6" y="750" font-size="10.6" font-weight="bold" fill="#000" text-anchor="start" textLength="52.1" lengthAdjust="spacingAndGlyphs" stroke="#000" stroke-width="0.22">Time (min)</text>
<line x1="37.2" y1="596.8" x2="48.4" y2="596.8" stroke="#ff2a1a" stroke-width="1.35"/>
<circle cx="42.8" cy="596.8" r="2" fill="#ff2a1a"/>
<line x1="37.2" y1="611" x2="48.4" y2="611" stroke="#000" stroke-width="1.35"/>
<rect x="40.65" y="608.85" width="4.3" height="4.3" fill="#000" stroke="none" stroke-width="1"/>
<text x="55.1" y="601.8" font-size="10.2" font-weight="bold" fill="#000" text-anchor="start" textLength="19.8" lengthAdjust="spacingAndGlyphs" stroke="#000" stroke-width="0.22">PVN</text>
<text x="76.3" y="597.4" font-size="7.6" font-weight="bold" fill="#000" text-anchor="start" textLength="24.2" lengthAdjust="spacingAndGlyphs" stroke="#000" stroke-width="0.22">VGlut2</text>
<text x="97.76" y="602.02" font-size="16.7" font-weight="bold" fill="#000" text-anchor="start" stroke="#000" stroke-width="0.35">→</text>
<text x="111.7" y="601.8" font-size="10.2" font-weight="bold" fill="#000" text-anchor="start" textLength="45.9" lengthAdjust="spacingAndGlyphs" stroke="#000" stroke-width="0.22">LC:hM3D</text>
<text x="55.1" y="615.9" font-size="10.2" font-weight="bold" fill="#000" text-anchor="start" textLength="19.8" lengthAdjust="spacingAndGlyphs" stroke="#000" stroke-width="0.22">PVN</text>
<text x="76.3" y="611.5" font-size="7.6" font-weight="bold" fill="#000" text-anchor="start" textLength="24.2" lengthAdjust="spacingAndGlyphs" stroke="#000" stroke-width="0.22">VGlut2</text>
<text x="97.76" y="616.12" font-size="16.7" font-weight="bold" fill="#000" text-anchor="start" stroke="#000" stroke-width="0.35">→</text>
<text x="111.7" y="615.9" font-size="10.2" font-weight="bold" fill="#000" text-anchor="start" textLength="59.5" lengthAdjust="spacingAndGlyphs" stroke="#000" stroke-width="0.22">LC:mCherry</text>
<line x1="203.6" y1="673.3" x2="203.6" y2="686.4" stroke="#000" stroke-width="1.3"/>
<text x="210.2" y="688.8" font-size="16" font-weight="bold" fill="#000" text-anchor="middle" stroke="#000" stroke-width="0.25">*</text>
<line x1="259.1" y1="613.45" x2="259.1" y2="721.25" stroke="#000" stroke-width="1.3"/>
<line x1="254.9" y1="614.1" x2="259.1" y2="614.1" stroke="#000" stroke-width="1.1"/>
<text x="253.9" y="617.09" font-size="8.3" font-weight="bold" fill="#000" text-anchor="end" stroke="#000" stroke-width="0.22">1000</text>
<line x1="254.9" y1="635.4" x2="259.1" y2="635.4" stroke="#000" stroke-width="1.1"/>
<text x="253.9" y="638.39" font-size="8.3" font-weight="bold" fill="#000" text-anchor="end" stroke="#000" stroke-width="0.22">800</text>
<line x1="254.9" y1="656.7" x2="259.1" y2="656.7" stroke="#000" stroke-width="1.1"/>
<text x="253.9" y="659.69" font-size="8.3" font-weight="bold" fill="#000" text-anchor="end" stroke="#000" stroke-width="0.22">600</text>
<line x1="254.9" y1="678" x2="259.1" y2="678" stroke="#000" stroke-width="1.1"/>
<text x="253.9" y="680.99" font-size="8.3" font-weight="bold" fill="#000" text-anchor="end" stroke="#000" stroke-width="0.22">400</text>
<line x1="254.9" y1="699.3" x2="259.1" y2="699.3" stroke="#000" stroke-width="1.1"/>
<text x="253.9" y="702.29" font-size="8.3" font-weight="bold" fill="#000" text-anchor="end" stroke="#000" stroke-width="0.22">200</text>
<line x1="254.9" y1="720.6" x2="259.1" y2="720.6" stroke="#000" stroke-width="1.1"/>
<text x="253.9" y="723.59" font-size="8.3" font-weight="bold" fill="#000" text-anchor="end" stroke="#000" stroke-width="0.22">0</text>
<path d="M271.45,720.6 V669.37 H290.25 V720.6" fill="none" stroke="#ff2a1a" stroke-width="1.7" stroke-linejoin="miter"/>
<path d="M303.05,720.6 V647.86 H321.75 V720.6" fill="none" stroke="#000" stroke-width="1.7" stroke-linejoin="miter"/>
<line x1="258.6" y1="720.6" x2="333.3" y2="720.6" stroke="#000" stroke-width="1.3"/>
<line x1="280.85" y1="720.6" x2="280.85" y2="724.8" stroke="#000" stroke-width="1.1"/>
<line x1="312.4" y1="720.6" x2="312.4" y2="724.8" stroke="#000" stroke-width="1.1"/>
<path d="M280.85,665.86 V671.18 M275.85,665.86 H285.85 M275.85,671.18 H285.85" stroke="#ff2a1a" stroke-width="1.25" fill="none"/>
<path d="M312.4,644.35 V649.67 M307.4,644.35 H317.4 M307.4,649.67 H317.4" stroke="#000" stroke-width="1.25" fill="none"/>
<circle cx="280.87" cy="653.55" r="2.25" fill="#ff2a1a"/>
<circle cx="284.55" cy="658.02" r="2.25" fill="#ff2a1a"/>
<circle cx="276.67" cy="659.33" r="2.25" fill="#ff2a1a"/>
<circle cx="280.87" cy="666.69" r="2.25" fill="#ff2a1a"/>
<circle cx="274.83" cy="669.32" r="2.25" fill="#ff2a1a"/>
<circle cx="286.39" cy="669.84" r="2.25" fill="#ff2a1a"/>
<circle cx="279.82" cy="671.94" r="2.25" fill="#ff2a1a"/>
<circle cx="284.55" cy="673" r="2.25" fill="#ff2a1a"/>
<circle cx="276.67" cy="677.72" r="2.25" fill="#ff2a1a"/>
<circle cx="285.86" cy="675.1" r="2.25" fill="#ff2a1a"/>
<rect x="310.3" y="631.75" width="4.2" height="4.2" fill="#000" stroke="none" stroke-width="1"/>
<rect x="301.63" y="635.69" width="4.2" height="4.2" fill="#000" stroke="none" stroke-width="1"/>
<rect x="310.3" y="637.53" width="4.2" height="4.2" fill="#000" stroke="none" stroke-width="1"/>
<rect x="306.09" y="644.1" width="4.2" height="4.2" fill="#000" stroke="none" stroke-width="1"/>
<rect x="310.3" y="646.2" width="4.2" height="4.2" fill="#000" stroke="none" stroke-width="1"/>
<rect x="315.29" y="644.1" width="4.2" height="4.2" fill="#000" stroke="none" stroke-width="1"/>
<rect x="319.23" y="644.88" width="4.2" height="4.2" fill="#000" stroke="none" stroke-width="1"/>
<rect x="306.09" y="648.82" width="4.2" height="4.2" fill="#000" stroke="none" stroke-width="1"/>
<rect x="315.29" y="650.66" width="4.2" height="4.2" fill="#000" stroke="none" stroke-width="1"/>
<rect x="310.3" y="659.86" width="4.2" height="4.2" fill="#000" stroke="none" stroke-width="1"/>
<text x="269.6" y="733.4" font-size="9" font-weight="bold" fill="#000" text-anchor="start" textLength="22.8" lengthAdjust="spacingAndGlyphs" stroke="#000" stroke-width="0.22">hM3D</text>
<text x="294.3" y="733.4" font-size="9" font-weight="bold" fill="#000" text-anchor="start" textLength="36.2" lengthAdjust="spacingAndGlyphs" stroke="#000" stroke-width="0.22">mCherry</text>
<text x="232.3" y="667.5" font-size="9.8" font-weight="bold" fill="#000" text-anchor="middle" transform="rotate(-90 232.3 667.5)" textLength="21.4" lengthAdjust="spacingAndGlyphs" stroke="#000" stroke-width="0.22">AUC</text>
<path d="M280.9,627.8 V621.8 H312.4 V627.8" stroke="#000" stroke-width="1.25" fill="none"/>
<text x="296.6" y="623.17" font-size="16.71" font-weight="bold" fill="#000" text-anchor="middle" stroke="#000" stroke-width="0.25">****</text>
</g>
<g id="panel-l">
<text x="345.4" y="586.1" font-size="25" font-weight="bold" fill="#000" text-anchor="start" textLength="12.3" lengthAdjust="spacingAndGlyphs" stroke="#000" stroke-width="0.55" stroke-linejoin="round">L</text>
<text x="456.4" y="582.3" font-size="9.4" font-weight="bold" fill="#000" text-anchor="start" textLength="14.2" lengthAdjust="spacingAndGlyphs" stroke="#000" stroke-width="0.22">ITT</text>
<line x1="383.9" y1="615.35" x2="383.9" y2="723.05" stroke="#000" stroke-width="1.3"/>
<line x1="379.5" y1="616" x2="383.9" y2="616" stroke="#000" stroke-width="1.1"/>
<text x="378.2" y="619.13" font-size="8.7" font-weight="bold" fill="#000" text-anchor="end" stroke="#000" stroke-width="0.22">20</text>
<line x1="379.5" y1="642.6" x2="383.9" y2="642.6" stroke="#000" stroke-width="1.1"/>
<text x="378.2" y="645.73" font-size="8.7" font-weight="bold" fill="#000" text-anchor="end" stroke="#000" stroke-width="0.22">15</text>
<line x1="379.5" y1="669.2" x2="383.9" y2="669.2" stroke="#000" stroke-width="1.1"/>
<text x="378.2" y="672.33" font-size="8.7" font-weight="bold" fill="#000" text-anchor="end" stroke="#000" stroke-width="0.22">10</text>
<line x1="379.5" y1="695.8" x2="383.9" y2="695.8" stroke="#000" stroke-width="1.1"/>
<text x="378.2" y="698.93" font-size="8.7" font-weight="bold" fill="#000" text-anchor="end" stroke="#000" stroke-width="0.22">5</text>
<line x1="379.5" y1="722.4" x2="383.9" y2="722.4" stroke="#000" stroke-width="1.1"/>
<text x="378.2" y="725.53" font-size="8.7" font-weight="bold" fill="#000" text-anchor="end" stroke="#000" stroke-width="0.22">0</text>
<line x1="383.4" y1="722.4" x2="543.69" y2="722.4" stroke="#000" stroke-width="1.3"/>
<line x1="383.9" y1="722.4" x2="383.9" y2="726.8" stroke="#000" stroke-width="1.1"/>
<text x="383.9" y="735.6" font-size="8.7" font-weight="bold" fill="#000" text-anchor="middle" stroke="#000" stroke-width="0.22">0</text>
<line x1="436.98" y1="722.4" x2="436.98" y2="726.8" stroke="#000" stroke-width="1.1"/>
<text x="436.98" y="735.6" font-size="8.7" font-weight="bold" fill="#000" text-anchor="middle" stroke="#000" stroke-width="0.22">20</text>
<line x1="490.06" y1="722.4" x2="490.06" y2="726.8" stroke="#000" stroke-width="1.1"/>
<text x="490.06" y="735.6" font-size="8.7" font-weight="bold" fill="#000" text-anchor="middle" stroke="#000" stroke-width="0.22">40</text>
<line x1="543.14" y1="722.4" x2="543.14" y2="726.8" stroke="#000" stroke-width="1.1"/>
<text x="543.14" y="735.6" font-size="8.7" font-weight="bold" fill="#000" text-anchor="middle" stroke="#000" stroke-width="0.22">60</text>
<polyline points="383.9,630.9 423.71,647.55 463.52,659.36 543.14,661.96" fill="none" stroke="#000" stroke-width="1.35"/>
<path d="M383.9,628.24 V633.56 M381.5,628.24 H386.3 M381.5,633.56 H386.3" stroke="#000" stroke-width="1.15" fill="none"/>
<rect x="381.75" y="628.75" width="4.3" height="4.3" fill="#000" stroke="none" stroke-width="1"/>
<path d="M423.71,644.62 V650.47 M421.31,644.62 H426.11 M421.31,650.47 H426.11" stroke="#000" stroke-width="1.15" fill="none"/>
<rect x="421.56" y="645.4" width="4.3" height="4.3" fill="#000" stroke="none" stroke-width="1"/>
<path d="M463.52,654.57 V664.15 M461.12,654.57 H465.92 M461.12,664.15 H465.92" stroke="#000" stroke-width="1.15" fill="none"/>
<rect x="461.37" y="657.21" width="4.3" height="4.3" fill="#000" stroke="none" stroke-width="1"/>
<path d="M543.14,657.18 V666.75 M540.74,657.18 H545.54 M540.74,666.75 H545.54" stroke="#000" stroke-width="1.15" fill="none"/>
<rect x="540.99" y="659.81" width="4.3" height="4.3" fill="#000" stroke="none" stroke-width="1"/>
<polyline points="383.9,629.3 423.71,664.09 463.52,675.9 543.14,683.78" fill="none" stroke="#ff2a1a" stroke-width="1.35"/>
<path d="M383.9,624.51 V634.09 M381.5,624.51 H386.3 M381.5,634.09 H386.3" stroke="#ff2a1a" stroke-width="1.15" fill="none"/>
<circle cx="383.9" cy="629.3" r="2.25" fill="#ff2a1a"/>
<path d="M423.71,659.84 V668.35 M421.31,659.84 H426.11 M421.31,668.35 H426.11" stroke="#ff2a1a" stroke-width="1.15" fill="none"/>
<circle cx="423.71" cy="664.09" r="2.25" fill="#ff2a1a"/>
<path d="M463.52,671.12 V680.69 M461.12,671.12 H465.92 M461.12,680.69 H465.92" stroke="#ff2a1a" stroke-width="1.15" fill="none"/>
<circle cx="463.52" cy="675.9" r="2.25" fill="#ff2a1a"/>
<path d="M543.14,680.85 V686.7 M540.74,680.85 H545.54 M540.74,686.7 H545.54" stroke="#ff2a1a" stroke-width="1.15" fill="none"/>
<circle cx="543.14" cy="683.78" r="2.25" fill="#ff2a1a"/>
<text x="364.4" y="669" font-size="10.6" font-weight="bold" fill="#000" text-anchor="middle" transform="rotate(-90 364.4 669)" textLength="88" lengthAdjust="spacingAndGlyphs" stroke="#000" stroke-width="0.22">Glucose (mmol/L)</text>
<text x="438" y="750" font-size="10.6" font-weight="bold" fill="#000" text-anchor="start" textLength="51.8" lengthAdjust="spacingAndGlyphs" stroke="#000" stroke-width="0.22">Time (min)</text>
<line x1="386" y1="595.5" x2="397.8" y2="595.5" stroke="#ff2a1a" stroke-width="1.35"/>
<circle cx="391.9" cy="595.5" r="2" fill="#ff2a1a"/>
<line x1="386" y1="610.7" x2="397.8" y2="610.7" stroke="#000" stroke-width="1.35"/>
<rect x="389.75" y="608.55" width="4.3" height="4.3" fill="#000" stroke="none" stroke-width="1"/>
<text x="404.4" y="599.4" font-size="10.2" font-weight="bold" fill="#000" text-anchor="start" textLength="19.8" lengthAdjust="spacingAndGlyphs" stroke="#000" stroke-width="0.22">PVN</text>
<text x="425.6" y="595" font-size="7.6" font-weight="bold" fill="#000" text-anchor="start" textLength="24.2" lengthAdjust="spacingAndGlyphs" stroke="#000" stroke-width="0.22">VGlut2</text>
<text x="447.06" y="599.62" font-size="16.7" font-weight="bold" fill="#000" text-anchor="start" stroke="#000" stroke-width="0.35">→</text>
<text x="461" y="599.4" font-size="10.2" font-weight="bold" fill="#000" text-anchor="start" textLength="44.5" lengthAdjust="spacingAndGlyphs" stroke="#000" stroke-width="0.22">LC:hM3D</text>
<text x="404.4" y="614.7" font-size="10.2" font-weight="bold" fill="#000" text-anchor="start" textLength="19.8" lengthAdjust="spacingAndGlyphs" stroke="#000" stroke-width="0.22">PVN</text>
<text x="425.6" y="610.3" font-size="7.6" font-weight="bold" fill="#000" text-anchor="start" textLength="24.2" lengthAdjust="spacingAndGlyphs" stroke="#000" stroke-width="0.22">VGlut2</text>
<text x="447.06" y="614.92" font-size="16.7" font-weight="bold" fill="#000" text-anchor="start" stroke="#000" stroke-width="0.35">→</text>
<text x="461" y="614.7" font-size="10.2" font-weight="bold" fill="#000" text-anchor="start" textLength="58.5" lengthAdjust="spacingAndGlyphs" stroke="#000" stroke-width="0.22">LC:mCherry</text>
<line x1="549.1" y1="661.2" x2="549.1" y2="684.3" stroke="#000" stroke-width="1.3"/>
<text x="555.4" y="676.9" font-size="16" font-weight="bold" fill="#000" text-anchor="middle" stroke="#000" stroke-width="0.25">*</text>
<text x="555.4" y="686.7" font-size="16" font-weight="bold" fill="#000" text-anchor="middle" stroke="#000" stroke-width="0.25">*</text>
<line x1="605.6" y1="616.65" x2="605.6" y2="723.35" stroke="#000" stroke-width="1.3"/>
<line x1="601.4" y1="617.3" x2="605.6" y2="617.3" stroke="#000" stroke-width="1.1"/>
<text x="600.4" y="620.29" font-size="8.3" font-weight="bold" fill="#000" text-anchor="end" stroke="#000" stroke-width="0.22">1000</text>
<line x1="601.4" y1="638.38" x2="605.6" y2="638.38" stroke="#000" stroke-width="1.1"/>
<text x="600.4" y="641.37" font-size="8.3" font-weight="bold" fill="#000" text-anchor="end" stroke="#000" stroke-width="0.22">800</text>
<line x1="601.4" y1="659.46" x2="605.6" y2="659.46" stroke="#000" stroke-width="1.1"/>
<text x="600.4" y="662.45" font-size="8.3" font-weight="bold" fill="#000" text-anchor="end" stroke="#000" stroke-width="0.22">600</text>
<line x1="601.4" y1="680.54" x2="605.6" y2="680.54" stroke="#000" stroke-width="1.1"/>
<text x="600.4" y="683.53" font-size="8.3" font-weight="bold" fill="#000" text-anchor="end" stroke="#000" stroke-width="0.22">400</text>
<line x1="601.4" y1="701.62" x2="605.6" y2="701.62" stroke="#000" stroke-width="1.1"/>
<text x="600.4" y="704.61" font-size="8.3" font-weight="bold" fill="#000" text-anchor="end" stroke="#000" stroke-width="0.22">200</text>
<line x1="601.4" y1="722.7" x2="605.6" y2="722.7" stroke="#000" stroke-width="1.1"/>
<text x="600.4" y="725.69" font-size="8.3" font-weight="bold" fill="#000" text-anchor="end" stroke="#000" stroke-width="0.22">0</text>
<path d="M618.35,722.7 V662.1 H636.85 V722.7" fill="none" stroke="#ff2a1a" stroke-width="1.7" stroke-linejoin="miter"/>
<path d="M649.85,722.7 V642.6 H668.35 V722.7" fill="none" stroke="#000" stroke-width="1.7" stroke-linejoin="miter"/>
<line x1="605.1" y1="722.7" x2="679.8" y2="722.7" stroke="#000" stroke-width="1.3"/>
<line x1="627.6" y1="722.7" x2="627.6" y2="726.9" stroke="#000" stroke-width="1.1"/>
<line x1="659.1" y1="722.7" x2="659.1" y2="726.9" stroke="#000" stroke-width="1.1"/>
<path d="M627.6,657.25 V665.26 M622.6,657.25 H632.6 M622.6,665.26 H632.6" stroke="#ff2a1a" stroke-width="1.25" fill="none"/>
<path d="M659.1,637.75 V645.76 M654.1,637.75 H664.1 M654.1,645.76 H664.1" stroke="#000" stroke-width="1.25" fill="none"/>
<circle cx="627.44" cy="635.16" r="2.25" fill="#ff2a1a"/>
<circle cx="627.44" cy="645.67" r="2.25" fill="#ff2a1a"/>
<circle cx="623.23" cy="656.71" r="2.25" fill="#ff2a1a"/>
<circle cx="629.8" cy="656.18" r="2.25" fill="#ff2a1a"/>
<circle cx="619.29" cy="661.96" r="2.25" fill="#ff2a1a"/>
<circle cx="633.74" cy="662.49" r="2.25" fill="#ff2a1a"/>
<circle cx="624.55" cy="665.11" r="2.25" fill="#ff2a1a"/>
<circle cx="631.12" cy="669.32" r="2.25" fill="#ff2a1a"/>
<circle cx="620.61" cy="669.84" r="2.25" fill="#ff2a1a"/>
<circle cx="627.44" cy="682.45" r="2.25" fill="#ff2a1a"/>
<rect x="648.72" y="628.33" width="4.2" height="4.2" fill="#000" stroke="none" stroke-width="1"/>
<rect x="659.23" y="627.81" width="4.2" height="4.2" fill="#000" stroke="none" stroke-width="1"/>
<rect x="665.28" y="627.81" width="4.2" height="4.2" fill="#000" stroke="none" stroke-width="1"/>
<rect x="653.98" y="630.43" width="4.2" height="4.2" fill="#000" stroke="none" stroke-width="1"/>
<rect x="657.92" y="633.06" width="4.2" height="4.2" fill="#000" stroke="none" stroke-width="1"/>
<rect x="653.98" y="636.74" width="4.2" height="4.2" fill="#000" stroke="none" stroke-width="1"/>
<rect x="657.39" y="645.41" width="4.2" height="4.2" fill="#000" stroke="none" stroke-width="1"/>
<rect x="656.6" y="651.98" width="4.2" height="4.2" fill="#000" stroke="none" stroke-width="1"/>
<rect x="656.6" y="657.76" width="4.2" height="4.2" fill="#000" stroke="none" stroke-width="1"/>
<rect x="656.6" y="663.8" width="4.2" height="4.2" fill="#000" stroke="none" stroke-width="1"/>
<text x="615.9" y="736" font-size="9" font-weight="bold" fill="#000" text-anchor="start" textLength="23.1" lengthAdjust="spacingAndGlyphs" stroke="#000" stroke-width="0.22">hM3D</text>
<text x="641.1" y="736" font-size="9" font-weight="bold" fill="#000" text-anchor="start" textLength="36" lengthAdjust="spacingAndGlyphs" stroke="#000" stroke-width="0.22">mCherry</text>
<text x="579.4" y="670.4" font-size="9.8" font-weight="bold" fill="#000" text-anchor="middle" transform="rotate(-90 579.4 670.4)" textLength="21.4" lengthAdjust="spacingAndGlyphs" stroke="#000" stroke-width="0.22">AUC</text>
<path d="M627.6,623.9 V617.3 H659.1 V623.9" stroke="#000" stroke-width="1.25" fill="none"/>
<text x="643.4" y="618.74" font-size="16.45" font-weight="bold" fill="#000" text-anchor="middle" stroke="#000" stroke-width="0.25">**</text>
</g>
</svg>
</body></html>
